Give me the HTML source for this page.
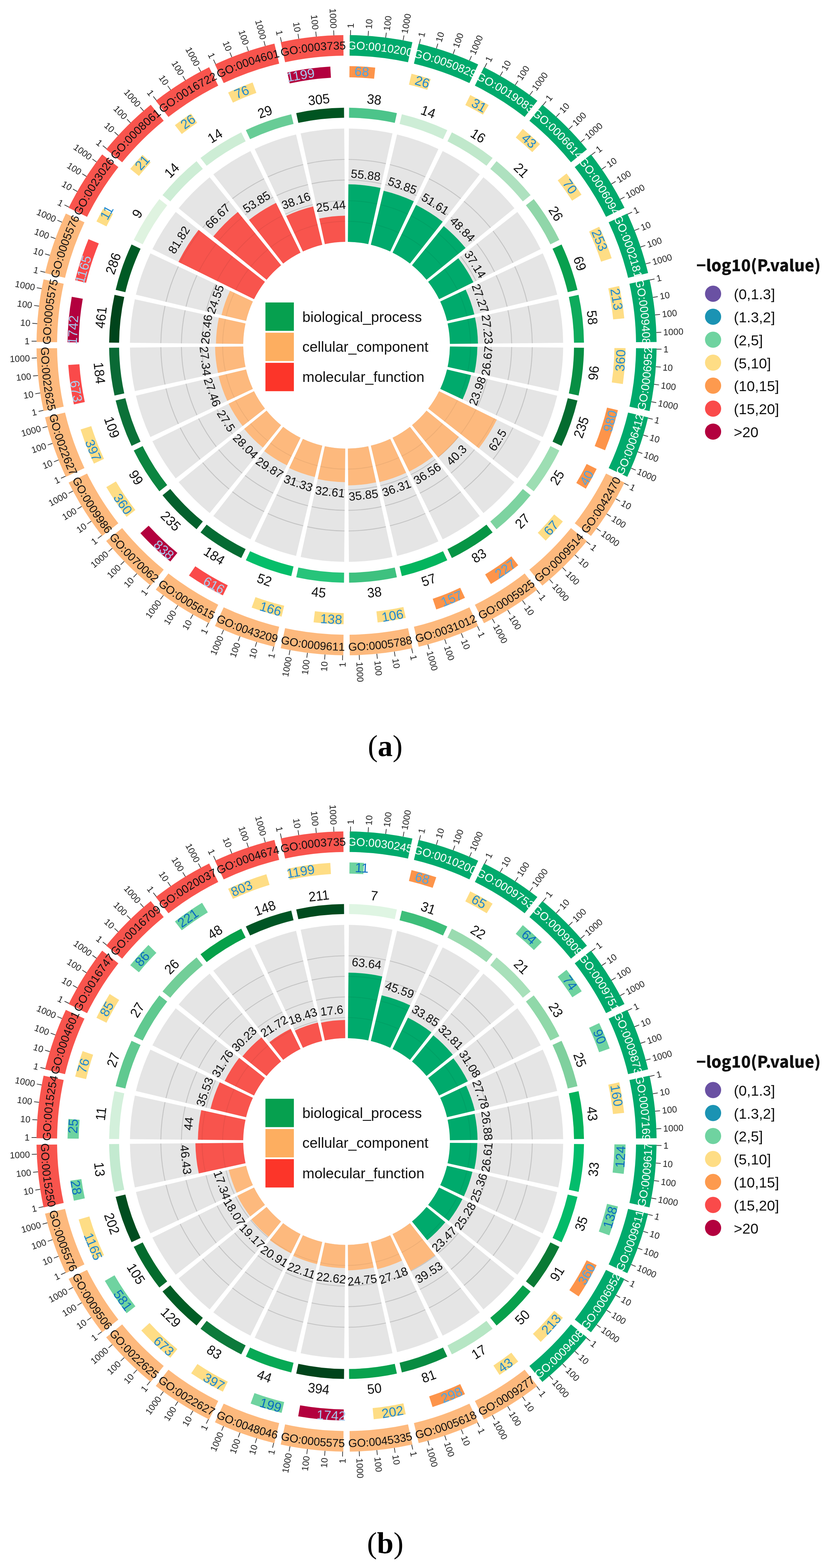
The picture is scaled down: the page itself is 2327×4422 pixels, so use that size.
<!DOCTYPE html><html><head><meta charset="utf-8"><title>GO enrichment circle plots</title><style>html,body{margin:0;padding:0;background:#fff;}svg{display:block;filter:blur(0.6px);}</style></head><body><svg width="2327" height="4422" viewBox="0 0 2327 4422" font-family="'Liberation Sans', Arial, sans-serif">
<rect width="100%" height="100%" fill="#fff"/>
<g>
<path d="M984.15,362.54 A611,611 0 0 1 1106.97,376.37 L1038.76,688.51 A291.5,291.5 0 0 0 981.2,682.02 Z" fill="#e5e5e5"/>
<path d="M1119.94,379.33 A611,611 0 0 1 1236.59,420.15 L1100.64,709.28 A291.5,291.5 0 0 0 1045.96,690.15 Z" fill="#e5e5e5"/>
<path d="M1248.58,425.93 A611,611 0 0 1 1353.23,491.68 L1156.34,743.31 A291.5,291.5 0 0 0 1107.3,712.49 Z" fill="#e5e5e5"/>
<path d="M1363.63,499.98 A611,611 0 0 1 1451.02,587.37 L1203.08,788.88 A291.5,291.5 0 0 0 1162.12,747.92 Z" fill="#e5e5e5"/>
<path d="M1459.32,597.77 A611,611 0 0 1 1525.07,702.42 L1238.51,843.7 A291.5,291.5 0 0 0 1207.69,794.66 Z" fill="#e5e5e5"/>
<path d="M1530.85,714.41 A611,611 0 0 1 1571.67,831.06 L1260.85,905.04 A291.5,291.5 0 0 0 1241.72,850.36 Z" fill="#e5e5e5"/>
<path d="M1574.63,844.03 A611,611 0 0 1 1588.46,966.85 L1268.98,969.8 A291.5,291.5 0 0 0 1262.49,912.24 Z" fill="#e5e5e5"/>
<path d="M1588.46,980.15 A611,611 0 0 1 1574.63,1102.97 L1262.49,1034.76 A291.5,291.5 0 0 0 1268.98,977.2 Z" fill="#e5e5e5"/>
<path d="M1571.67,1115.94 A611,611 0 0 1 1530.85,1232.59 L1241.72,1096.64 A291.5,291.5 0 0 0 1260.85,1041.96 Z" fill="#e5e5e5"/>
<path d="M1525.07,1244.58 A611,611 0 0 1 1459.32,1349.23 L1207.69,1152.34 A291.5,291.5 0 0 0 1238.51,1103.3 Z" fill="#e5e5e5"/>
<path d="M1451.02,1359.63 A611,611 0 0 1 1363.63,1447.02 L1162.12,1199.08 A291.5,291.5 0 0 0 1203.08,1158.12 Z" fill="#e5e5e5"/>
<path d="M1353.23,1455.32 A611,611 0 0 1 1248.58,1521.07 L1107.3,1234.51 A291.5,291.5 0 0 0 1156.34,1203.69 Z" fill="#e5e5e5"/>
<path d="M1236.59,1526.85 A611,611 0 0 1 1119.94,1567.67 L1045.96,1256.85 A291.5,291.5 0 0 0 1100.64,1237.72 Z" fill="#e5e5e5"/>
<path d="M1106.97,1570.63 A611,611 0 0 1 984.15,1584.46 L981.2,1264.98 A291.5,291.5 0 0 0 1038.76,1258.49 Z" fill="#e5e5e5"/>
<path d="M970.85,1584.46 A611,611 0 0 1 848.03,1570.63 L916.24,1258.49 A291.5,291.5 0 0 0 973.8,1264.98 Z" fill="#e5e5e5"/>
<path d="M835.06,1567.67 A611,611 0 0 1 718.41,1526.85 L854.36,1237.72 A291.5,291.5 0 0 0 909.04,1256.85 Z" fill="#e5e5e5"/>
<path d="M706.42,1521.07 A611,611 0 0 1 601.77,1455.32 L798.66,1203.69 A291.5,291.5 0 0 0 847.7,1234.51 Z" fill="#e5e5e5"/>
<path d="M591.37,1447.02 A611,611 0 0 1 503.98,1359.63 L751.92,1158.12 A291.5,291.5 0 0 0 792.88,1199.08 Z" fill="#e5e5e5"/>
<path d="M495.68,1349.23 A611,611 0 0 1 429.93,1244.58 L716.49,1103.3 A291.5,291.5 0 0 0 747.31,1152.34 Z" fill="#e5e5e5"/>
<path d="M424.15,1232.59 A611,611 0 0 1 383.33,1115.94 L694.15,1041.96 A291.5,291.5 0 0 0 713.28,1096.64 Z" fill="#e5e5e5"/>
<path d="M380.37,1102.97 A611,611 0 0 1 366.54,980.15 L686.02,977.2 A291.5,291.5 0 0 0 692.51,1034.76 Z" fill="#e5e5e5"/>
<path d="M366.54,966.85 A611,611 0 0 1 380.37,844.03 L692.51,912.24 A291.5,291.5 0 0 0 686.02,969.8 Z" fill="#e5e5e5"/>
<path d="M383.33,831.06 A611,611 0 0 1 424.15,714.41 L713.28,850.36 A291.5,291.5 0 0 0 694.15,905.04 Z" fill="#e5e5e5"/>
<path d="M429.93,702.42 A611,611 0 0 1 495.68,597.77 L747.31,794.66 A291.5,291.5 0 0 0 716.49,843.7 Z" fill="#e5e5e5"/>
<path d="M503.98,587.37 A611,611 0 0 1 591.37,499.98 L792.88,747.92 A291.5,291.5 0 0 0 751.92,788.88 Z" fill="#e5e5e5"/>
<path d="M601.77,491.68 A611,611 0 0 1 706.42,425.93 L847.7,712.49 A291.5,291.5 0 0 0 798.66,743.31 Z" fill="#e5e5e5"/>
<path d="M718.41,420.15 A611,611 0 0 1 835.06,379.33 L909.04,690.15 A291.5,291.5 0 0 0 854.36,709.28 Z" fill="#e5e5e5"/>
<path d="M848.03,376.37 A611,611 0 0 1 970.85,362.54 L973.8,682.02 A291.5,291.5 0 0 0 916.24,688.51 Z" fill="#e5e5e5"/>
<path d="M981.73,623.94 A349.59,349.59 0 0 1 1051.16,631.76" fill="none" stroke="#c3c3c3" stroke-width="2.4"/>
<path d="M982.27,565.85 A407.68,407.68 0 0 1 1063.56,575.01" fill="none" stroke="#c3c3c3" stroke-width="2.4"/>
<path d="M982.81,507.76 A465.77,465.77 0 0 1 1075.96,518.26" fill="none" stroke="#c3c3c3" stroke-width="2.4"/>
<path d="M983.35,449.67 A523.86,523.86 0 0 1 1088.36,461.51" fill="none" stroke="#c3c3c3" stroke-width="2.4"/>
<path d="M1059.41,633.64 A349.59,349.59 0 0 1 1125.36,656.72" fill="none" stroke="#c3c3c3" stroke-width="2.4"/>
<path d="M1072.86,577.13 A407.68,407.68 0 0 1 1150.08,604.15" fill="none" stroke="#c3c3c3" stroke-width="2.4"/>
<path d="M1086.31,520.62 A465.77,465.77 0 0 1 1174.79,551.58" fill="none" stroke="#c3c3c3" stroke-width="2.4"/>
<path d="M1099.76,464.11 A523.86,523.86 0 0 1 1199.51,499.01" fill="none" stroke="#c3c3c3" stroke-width="2.4"/>
<path d="M1132.98,660.39 A349.59,349.59 0 0 1 1192.14,697.56" fill="none" stroke="#c3c3c3" stroke-width="2.4"/>
<path d="M1158.67,608.29 A407.68,407.68 0 0 1 1227.94,651.81" fill="none" stroke="#c3c3c3" stroke-width="2.4"/>
<path d="M1184.36,556.19 A465.77,465.77 0 0 1 1263.73,606.06" fill="none" stroke="#c3c3c3" stroke-width="2.4"/>
<path d="M1210.05,504.08 A523.86,523.86 0 0 1 1299.53,560.31" fill="none" stroke="#c3c3c3" stroke-width="2.4"/>
<path d="M1198.76,702.84 A349.59,349.59 0 0 1 1248.16,752.24" fill="none" stroke="#c3c3c3" stroke-width="2.4"/>
<path d="M1235.4,657.76 A407.68,407.68 0 0 1 1293.24,715.6" fill="none" stroke="#c3c3c3" stroke-width="2.4"/>
<path d="M1272.03,612.68 A465.77,465.77 0 0 1 1338.32,678.97" fill="none" stroke="#c3c3c3" stroke-width="2.4"/>
<path d="M1308.67,567.6 A523.86,523.86 0 0 1 1383.4,642.33" fill="none" stroke="#c3c3c3" stroke-width="2.4"/>
<path d="M1253.44,758.86 A349.59,349.59 0 0 1 1290.61,818.02" fill="none" stroke="#c3c3c3" stroke-width="2.4"/>
<path d="M1299.19,723.06 A407.68,407.68 0 0 1 1342.71,792.33" fill="none" stroke="#c3c3c3" stroke-width="2.4"/>
<path d="M1344.94,687.27 A465.77,465.77 0 0 1 1394.81,766.64" fill="none" stroke="#c3c3c3" stroke-width="2.4"/>
<path d="M1390.69,651.47 A523.86,523.86 0 0 1 1446.92,740.95" fill="none" stroke="#c3c3c3" stroke-width="2.4"/>
<path d="M1294.28,825.64 A349.59,349.59 0 0 1 1317.36,891.59" fill="none" stroke="#c3c3c3" stroke-width="2.4"/>
<path d="M1346.85,800.92 A407.68,407.68 0 0 1 1373.87,878.14" fill="none" stroke="#c3c3c3" stroke-width="2.4"/>
<path d="M1399.42,776.21 A465.77,465.77 0 0 1 1430.38,864.69" fill="none" stroke="#c3c3c3" stroke-width="2.4"/>
<path d="M1451.99,751.49 A523.86,523.86 0 0 1 1486.89,851.24" fill="none" stroke="#c3c3c3" stroke-width="2.4"/>
<path d="M1319.24,899.84 A349.59,349.59 0 0 1 1327.06,969.27" fill="none" stroke="#c3c3c3" stroke-width="2.4"/>
<path d="M1375.99,887.44 A407.68,407.68 0 0 1 1385.15,968.73" fill="none" stroke="#c3c3c3" stroke-width="2.4"/>
<path d="M1432.74,875.04 A465.77,465.77 0 0 1 1443.24,968.19" fill="none" stroke="#c3c3c3" stroke-width="2.4"/>
<path d="M1489.49,862.64 A523.86,523.86 0 0 1 1501.33,967.65" fill="none" stroke="#c3c3c3" stroke-width="2.4"/>
<path d="M1327.06,977.73 A349.59,349.59 0 0 1 1319.24,1047.16" fill="none" stroke="#c3c3c3" stroke-width="2.4"/>
<path d="M1385.15,978.27 A407.68,407.68 0 0 1 1375.99,1059.56" fill="none" stroke="#c3c3c3" stroke-width="2.4"/>
<path d="M1443.24,978.81 A465.77,465.77 0 0 1 1432.74,1071.96" fill="none" stroke="#c3c3c3" stroke-width="2.4"/>
<path d="M1501.33,979.35 A523.86,523.86 0 0 1 1489.49,1084.36" fill="none" stroke="#c3c3c3" stroke-width="2.4"/>
<path d="M1317.36,1055.41 A349.59,349.59 0 0 1 1294.28,1121.36" fill="none" stroke="#c3c3c3" stroke-width="2.4"/>
<path d="M1373.87,1068.86 A407.68,407.68 0 0 1 1346.85,1146.08" fill="none" stroke="#c3c3c3" stroke-width="2.4"/>
<path d="M1430.38,1082.31 A465.77,465.77 0 0 1 1399.42,1170.79" fill="none" stroke="#c3c3c3" stroke-width="2.4"/>
<path d="M1486.89,1095.76 A523.86,523.86 0 0 1 1451.99,1195.51" fill="none" stroke="#c3c3c3" stroke-width="2.4"/>
<path d="M1290.61,1128.98 A349.59,349.59 0 0 1 1253.44,1188.14" fill="none" stroke="#c3c3c3" stroke-width="2.4"/>
<path d="M1342.71,1154.67 A407.68,407.68 0 0 1 1299.19,1223.94" fill="none" stroke="#c3c3c3" stroke-width="2.4"/>
<path d="M1394.81,1180.36 A465.77,465.77 0 0 1 1344.94,1259.73" fill="none" stroke="#c3c3c3" stroke-width="2.4"/>
<path d="M1446.92,1206.05 A523.86,523.86 0 0 1 1390.69,1295.53" fill="none" stroke="#c3c3c3" stroke-width="2.4"/>
<path d="M1248.16,1194.76 A349.59,349.59 0 0 1 1198.76,1244.16" fill="none" stroke="#c3c3c3" stroke-width="2.4"/>
<path d="M1293.24,1231.4 A407.68,407.68 0 0 1 1235.4,1289.24" fill="none" stroke="#c3c3c3" stroke-width="2.4"/>
<path d="M1338.32,1268.03 A465.77,465.77 0 0 1 1272.03,1334.32" fill="none" stroke="#c3c3c3" stroke-width="2.4"/>
<path d="M1383.4,1304.67 A523.86,523.86 0 0 1 1308.67,1379.4" fill="none" stroke="#c3c3c3" stroke-width="2.4"/>
<path d="M1192.14,1249.44 A349.59,349.59 0 0 1 1132.98,1286.61" fill="none" stroke="#c3c3c3" stroke-width="2.4"/>
<path d="M1227.94,1295.19 A407.68,407.68 0 0 1 1158.67,1338.71" fill="none" stroke="#c3c3c3" stroke-width="2.4"/>
<path d="M1263.73,1340.94 A465.77,465.77 0 0 1 1184.36,1390.81" fill="none" stroke="#c3c3c3" stroke-width="2.4"/>
<path d="M1299.53,1386.69 A523.86,523.86 0 0 1 1210.05,1442.92" fill="none" stroke="#c3c3c3" stroke-width="2.4"/>
<path d="M1125.36,1290.28 A349.59,349.59 0 0 1 1059.41,1313.36" fill="none" stroke="#c3c3c3" stroke-width="2.4"/>
<path d="M1150.08,1342.85 A407.68,407.68 0 0 1 1072.86,1369.87" fill="none" stroke="#c3c3c3" stroke-width="2.4"/>
<path d="M1174.79,1395.42 A465.77,465.77 0 0 1 1086.31,1426.38" fill="none" stroke="#c3c3c3" stroke-width="2.4"/>
<path d="M1199.51,1447.99 A523.86,523.86 0 0 1 1099.76,1482.89" fill="none" stroke="#c3c3c3" stroke-width="2.4"/>
<path d="M1051.16,1315.24 A349.59,349.59 0 0 1 981.73,1323.06" fill="none" stroke="#c3c3c3" stroke-width="2.4"/>
<path d="M1063.56,1371.99 A407.68,407.68 0 0 1 982.27,1381.15" fill="none" stroke="#c3c3c3" stroke-width="2.4"/>
<path d="M1075.96,1428.74 A465.77,465.77 0 0 1 982.81,1439.24" fill="none" stroke="#c3c3c3" stroke-width="2.4"/>
<path d="M1088.36,1485.49 A523.86,523.86 0 0 1 983.35,1497.33" fill="none" stroke="#c3c3c3" stroke-width="2.4"/>
<path d="M973.27,1323.06 A349.59,349.59 0 0 1 903.84,1315.24" fill="none" stroke="#c3c3c3" stroke-width="2.4"/>
<path d="M972.73,1381.15 A407.68,407.68 0 0 1 891.44,1371.99" fill="none" stroke="#c3c3c3" stroke-width="2.4"/>
<path d="M972.19,1439.24 A465.77,465.77 0 0 1 879.04,1428.74" fill="none" stroke="#c3c3c3" stroke-width="2.4"/>
<path d="M971.65,1497.33 A523.86,523.86 0 0 1 866.64,1485.49" fill="none" stroke="#c3c3c3" stroke-width="2.4"/>
<path d="M895.59,1313.36 A349.59,349.59 0 0 1 829.64,1290.28" fill="none" stroke="#c3c3c3" stroke-width="2.4"/>
<path d="M882.14,1369.87 A407.68,407.68 0 0 1 804.92,1342.85" fill="none" stroke="#c3c3c3" stroke-width="2.4"/>
<path d="M868.69,1426.38 A465.77,465.77 0 0 1 780.21,1395.42" fill="none" stroke="#c3c3c3" stroke-width="2.4"/>
<path d="M855.24,1482.89 A523.86,523.86 0 0 1 755.49,1447.99" fill="none" stroke="#c3c3c3" stroke-width="2.4"/>
<path d="M822.02,1286.61 A349.59,349.59 0 0 1 762.86,1249.44" fill="none" stroke="#c3c3c3" stroke-width="2.4"/>
<path d="M796.33,1338.71 A407.68,407.68 0 0 1 727.06,1295.19" fill="none" stroke="#c3c3c3" stroke-width="2.4"/>
<path d="M770.64,1390.81 A465.77,465.77 0 0 1 691.27,1340.94" fill="none" stroke="#c3c3c3" stroke-width="2.4"/>
<path d="M744.95,1442.92 A523.86,523.86 0 0 1 655.47,1386.69" fill="none" stroke="#c3c3c3" stroke-width="2.4"/>
<path d="M756.24,1244.16 A349.59,349.59 0 0 1 706.84,1194.76" fill="none" stroke="#c3c3c3" stroke-width="2.4"/>
<path d="M719.6,1289.24 A407.68,407.68 0 0 1 661.76,1231.4" fill="none" stroke="#c3c3c3" stroke-width="2.4"/>
<path d="M682.97,1334.32 A465.77,465.77 0 0 1 616.68,1268.03" fill="none" stroke="#c3c3c3" stroke-width="2.4"/>
<path d="M646.33,1379.4 A523.86,523.86 0 0 1 571.6,1304.67" fill="none" stroke="#c3c3c3" stroke-width="2.4"/>
<path d="M701.56,1188.14 A349.59,349.59 0 0 1 664.39,1128.98" fill="none" stroke="#c3c3c3" stroke-width="2.4"/>
<path d="M655.81,1223.94 A407.68,407.68 0 0 1 612.29,1154.67" fill="none" stroke="#c3c3c3" stroke-width="2.4"/>
<path d="M610.06,1259.73 A465.77,465.77 0 0 1 560.19,1180.36" fill="none" stroke="#c3c3c3" stroke-width="2.4"/>
<path d="M564.31,1295.53 A523.86,523.86 0 0 1 508.08,1206.05" fill="none" stroke="#c3c3c3" stroke-width="2.4"/>
<path d="M660.72,1121.36 A349.59,349.59 0 0 1 637.64,1055.41" fill="none" stroke="#c3c3c3" stroke-width="2.4"/>
<path d="M608.15,1146.08 A407.68,407.68 0 0 1 581.13,1068.86" fill="none" stroke="#c3c3c3" stroke-width="2.4"/>
<path d="M555.58,1170.79 A465.77,465.77 0 0 1 524.62,1082.31" fill="none" stroke="#c3c3c3" stroke-width="2.4"/>
<path d="M503.01,1195.51 A523.86,523.86 0 0 1 468.11,1095.76" fill="none" stroke="#c3c3c3" stroke-width="2.4"/>
<path d="M635.76,1047.16 A349.59,349.59 0 0 1 627.94,977.73" fill="none" stroke="#c3c3c3" stroke-width="2.4"/>
<path d="M579.01,1059.56 A407.68,407.68 0 0 1 569.85,978.27" fill="none" stroke="#c3c3c3" stroke-width="2.4"/>
<path d="M522.26,1071.96 A465.77,465.77 0 0 1 511.76,978.81" fill="none" stroke="#c3c3c3" stroke-width="2.4"/>
<path d="M465.51,1084.36 A523.86,523.86 0 0 1 453.67,979.35" fill="none" stroke="#c3c3c3" stroke-width="2.4"/>
<path d="M627.94,969.27 A349.59,349.59 0 0 1 635.76,899.84" fill="none" stroke="#c3c3c3" stroke-width="2.4"/>
<path d="M569.85,968.73 A407.68,407.68 0 0 1 579.01,887.44" fill="none" stroke="#c3c3c3" stroke-width="2.4"/>
<path d="M511.76,968.19 A465.77,465.77 0 0 1 522.26,875.04" fill="none" stroke="#c3c3c3" stroke-width="2.4"/>
<path d="M453.67,967.65 A523.86,523.86 0 0 1 465.51,862.64" fill="none" stroke="#c3c3c3" stroke-width="2.4"/>
<path d="M637.64,891.59 A349.59,349.59 0 0 1 660.72,825.64" fill="none" stroke="#c3c3c3" stroke-width="2.4"/>
<path d="M581.13,878.14 A407.68,407.68 0 0 1 608.15,800.92" fill="none" stroke="#c3c3c3" stroke-width="2.4"/>
<path d="M524.62,864.69 A465.77,465.77 0 0 1 555.58,776.21" fill="none" stroke="#c3c3c3" stroke-width="2.4"/>
<path d="M468.11,851.24 A523.86,523.86 0 0 1 503.01,751.49" fill="none" stroke="#c3c3c3" stroke-width="2.4"/>
<path d="M664.39,818.02 A349.59,349.59 0 0 1 701.56,758.86" fill="none" stroke="#c3c3c3" stroke-width="2.4"/>
<path d="M612.29,792.33 A407.68,407.68 0 0 1 655.81,723.06" fill="none" stroke="#c3c3c3" stroke-width="2.4"/>
<path d="M560.19,766.64 A465.77,465.77 0 0 1 610.06,687.27" fill="none" stroke="#c3c3c3" stroke-width="2.4"/>
<path d="M508.08,740.95 A523.86,523.86 0 0 1 564.31,651.47" fill="none" stroke="#c3c3c3" stroke-width="2.4"/>
<path d="M706.84,752.24 A349.59,349.59 0 0 1 756.24,702.84" fill="none" stroke="#c3c3c3" stroke-width="2.4"/>
<path d="M661.76,715.6 A407.68,407.68 0 0 1 719.6,657.76" fill="none" stroke="#c3c3c3" stroke-width="2.4"/>
<path d="M616.68,678.97 A465.77,465.77 0 0 1 682.97,612.68" fill="none" stroke="#c3c3c3" stroke-width="2.4"/>
<path d="M571.6,642.33 A523.86,523.86 0 0 1 646.33,567.6" fill="none" stroke="#c3c3c3" stroke-width="2.4"/>
<path d="M762.86,697.56 A349.59,349.59 0 0 1 822.02,660.39" fill="none" stroke="#c3c3c3" stroke-width="2.4"/>
<path d="M727.06,651.81 A407.68,407.68 0 0 1 796.33,608.29" fill="none" stroke="#c3c3c3" stroke-width="2.4"/>
<path d="M691.27,606.06 A465.77,465.77 0 0 1 770.64,556.19" fill="none" stroke="#c3c3c3" stroke-width="2.4"/>
<path d="M655.47,560.31 A523.86,523.86 0 0 1 744.95,504.08" fill="none" stroke="#c3c3c3" stroke-width="2.4"/>
<path d="M829.64,656.72 A349.59,349.59 0 0 1 895.59,633.64" fill="none" stroke="#c3c3c3" stroke-width="2.4"/>
<path d="M804.92,604.15 A407.68,407.68 0 0 1 882.14,577.13" fill="none" stroke="#c3c3c3" stroke-width="2.4"/>
<path d="M780.21,551.58 A465.77,465.77 0 0 1 868.69,520.62" fill="none" stroke="#c3c3c3" stroke-width="2.4"/>
<path d="M755.49,499.01 A523.86,523.86 0 0 1 855.24,464.11" fill="none" stroke="#c3c3c3" stroke-width="2.4"/>
<path d="M903.84,631.76 A349.59,349.59 0 0 1 973.27,623.94" fill="none" stroke="#c3c3c3" stroke-width="2.4"/>
<path d="M891.44,575.01 A407.68,407.68 0 0 1 972.73,565.85" fill="none" stroke="#c3c3c3" stroke-width="2.4"/>
<path d="M879.04,518.26 A465.77,465.77 0 0 1 972.19,507.76" fill="none" stroke="#c3c3c3" stroke-width="2.4"/>
<path d="M866.64,461.51 A523.86,523.86 0 0 1 971.65,449.67" fill="none" stroke="#c3c3c3" stroke-width="2.4"/>
<path d="M982.7,519.72 A453.81,453.81 0 0 1 1073.41,529.94 L1038.76,688.51 A291.5,291.5 0 0 0 981.2,682.02 Z" fill="#00aa6c"/>
<path d="M981.73,623.94 A349.59,349.59 0 0 1 1051.16,631.76" fill="none" stroke="#000" stroke-opacity="0.06" stroke-width="2.4"/>
<path d="M982.27,565.85 A407.68,407.68 0 0 1 1063.56,575.01" fill="none" stroke="#000" stroke-opacity="0.06" stroke-width="2.4"/>
<path d="M1082.17,538.01 A447.9,447.9 0 0 1 1167.19,567.75 L1100.64,709.28 A291.5,291.5 0 0 0 1045.96,690.15 Z" fill="#00aa6c"/>
<path d="M1059.41,633.64 A349.59,349.59 0 0 1 1125.36,656.72" fill="none" stroke="#000" stroke-opacity="0.06" stroke-width="2.4"/>
<path d="M1072.86,577.13 A407.68,407.68 0 0 1 1150.08,604.15" fill="none" stroke="#000" stroke-opacity="0.06" stroke-width="2.4"/>
<path d="M1173.59,578.04 A441.41,441.41 0 0 1 1248.72,625.25 L1156.34,743.31 A291.5,291.5 0 0 0 1107.3,712.49 Z" fill="#00aa6c"/>
<path d="M1132.98,660.39 A349.59,349.59 0 0 1 1192.14,697.56" fill="none" stroke="#000" stroke-opacity="0.06" stroke-width="2.4"/>
<path d="M1158.67,608.29 A407.68,407.68 0 0 1 1227.94,651.81" fill="none" stroke="#000" stroke-opacity="0.06" stroke-width="2.4"/>
<path d="M1251.59,637.84 A433.35,433.35 0 0 1 1313.16,699.41 L1203.08,788.88 A291.5,291.5 0 0 0 1162.12,747.92 Z" fill="#00aa6c"/>
<path d="M1198.76,702.84 A349.59,349.59 0 0 1 1248.16,752.24" fill="none" stroke="#000" stroke-opacity="0.06" stroke-width="2.4"/>
<path d="M1235.4,657.76 A407.68,407.68 0 0 1 1293.24,715.6" fill="none" stroke="#000" stroke-opacity="0.06" stroke-width="2.4"/>
<path d="M1292.65,728.18 A399.38,399.38 0 0 1 1335.27,796 L1238.51,843.7 A291.5,291.5 0 0 0 1207.69,794.66 Z" fill="#00aa6c"/>
<path d="M1253.44,758.86 A349.59,349.59 0 0 1 1290.61,818.02" fill="none" stroke="#000" stroke-opacity="0.06" stroke-width="2.4"/>
<path d="M1313.4,816.66 A370.71,370.71 0 0 1 1337.91,886.7 L1260.85,905.04 A291.5,291.5 0 0 0 1241.72,850.36 Z" fill="#00aa6c"/>
<path d="M1294.28,825.64 A349.59,349.59 0 0 1 1317.36,891.59" fill="none" stroke="#000" stroke-opacity="0.06" stroke-width="2.4"/>
<path d="M1339.76,895.36 A370.59,370.59 0 0 1 1348.06,969.07 L1268.98,969.8 A291.5,291.5 0 0 0 1262.49,912.24 Z" fill="#00aa6c"/>
<path d="M1319.24,899.84 A349.59,349.59 0 0 1 1327.06,969.27" fill="none" stroke="#000" stroke-opacity="0.06" stroke-width="2.4"/>
<path d="M1346.43,977.91 A368.95,368.95 0 0 1 1338.16,1051.29 L1262.49,1034.76 A291.5,291.5 0 0 0 1268.98,977.2 Z" fill="#00aa6c"/>
<path d="M1327.06,977.73 A349.59,349.59 0 0 1 1319.24,1047.16" fill="none" stroke="#000" stroke-opacity="0.06" stroke-width="2.4"/>
<path d="M1328.6,1058.09 A361.15,361.15 0 0 1 1304.74,1126.27 L1241.72,1096.64 A291.5,291.5 0 0 0 1260.85,1041.96 Z" fill="#00aa6c"/>
<path d="M1317.36,1055.41 A349.59,349.59 0 0 1 1294.28,1121.36" fill="none" stroke="#000" stroke-opacity="0.06" stroke-width="2.4"/>
<path d="M1401.33,1183.57 A473.03,473.03 0 0 1 1350.66,1264.21 L1207.69,1152.34 A291.5,291.5 0 0 0 1238.51,1103.3 Z" fill="#fdb97d"/>
<path d="M1290.61,1128.98 A349.59,349.59 0 0 1 1253.44,1188.14" fill="none" stroke="#000" stroke-opacity="0.06" stroke-width="2.4"/>
<path d="M1342.71,1154.67 A407.68,407.68 0 0 1 1299.19,1223.94" fill="none" stroke="#000" stroke-opacity="0.06" stroke-width="2.4"/>
<path d="M1394.81,1180.36 A465.77,465.77 0 0 1 1344.94,1259.73" fill="none" stroke="#000" stroke-opacity="0.06" stroke-width="2.4"/>
<path d="M1293.91,1231.94 A408.55,408.55 0 0 1 1235.94,1289.91 L1162.12,1199.08 A291.5,291.5 0 0 0 1203.08,1158.12 Z" fill="#fdb97d"/>
<path d="M1248.16,1194.76 A349.59,349.59 0 0 1 1198.76,1244.16" fill="none" stroke="#000" stroke-opacity="0.06" stroke-width="2.4"/>
<path d="M1293.24,1231.4 A407.68,407.68 0 0 1 1235.4,1289.24" fill="none" stroke="#000" stroke-opacity="0.06" stroke-width="2.4"/>
<path d="M1221.79,1287.33 A397.7,397.7 0 0 1 1154.26,1329.76 L1107.3,1234.51 A291.5,291.5 0 0 0 1156.34,1203.69 Z" fill="#fdb97d"/>
<path d="M1192.14,1249.44 A349.59,349.59 0 0 1 1132.98,1286.61" fill="none" stroke="#000" stroke-opacity="0.06" stroke-width="2.4"/>
<path d="M1145.51,1333.14 A396.95,396.95 0 0 1 1070.38,1359.43 L1045.96,1256.85 A291.5,291.5 0 0 0 1100.64,1237.72 Z" fill="#fdb97d"/>
<path d="M1125.36,1290.28 A349.59,349.59 0 0 1 1059.41,1313.36" fill="none" stroke="#000" stroke-opacity="0.06" stroke-width="2.4"/>
<path d="M1060.99,1360.21 A395.62,395.62 0 0 1 982.16,1369.1 L981.2,1264.98 A291.5,291.5 0 0 0 1038.76,1258.49 Z" fill="#fdb97d"/>
<path d="M1051.16,1315.24 A349.59,349.59 0 0 1 981.73,1323.06" fill="none" stroke="#000" stroke-opacity="0.06" stroke-width="2.4"/>
<path d="M972.93,1359.68 A386.21,386.21 0 0 1 896.02,1351.02 L916.24,1258.49 A291.5,291.5 0 0 0 973.8,1264.98 Z" fill="#fdb97d"/>
<path d="M973.27,1323.06 A349.59,349.59 0 0 1 903.84,1315.24" fill="none" stroke="#000" stroke-opacity="0.06" stroke-width="2.4"/>
<path d="M887.97,1345.36 A382.48,382.48 0 0 1 815.65,1320.05 L854.36,1237.72 A291.5,291.5 0 0 0 909.04,1256.85 Z" fill="#fdb97d"/>
<path d="M895.59,1313.36 A349.59,349.59 0 0 1 829.64,1290.28" fill="none" stroke="#000" stroke-opacity="0.06" stroke-width="2.4"/>
<path d="M809.34,1312.32 A378.26,378.26 0 0 1 745.19,1272.02 L798.66,1203.69 A291.5,291.5 0 0 0 847.7,1234.51 Z" fill="#fdb97d"/>
<path d="M822.02,1286.61 A349.59,349.59 0 0 1 762.86,1249.44" fill="none" stroke="#000" stroke-opacity="0.06" stroke-width="2.4"/>
<path d="M741.51,1262.29 A372.95,372.95 0 0 1 688.71,1209.49 L751.92,1158.12 A291.5,291.5 0 0 0 792.88,1199.08 Z" fill="#fdb97d"/>
<path d="M756.24,1244.16 A349.59,349.59 0 0 1 706.84,1194.76" fill="none" stroke="#000" stroke-opacity="0.06" stroke-width="2.4"/>
<path d="M684.4,1201.56 A371.37,371.37 0 0 1 644.85,1138.62 L716.49,1103.3 A291.5,291.5 0 0 0 747.31,1152.34 Z" fill="#fdb97d"/>
<path d="M701.56,1188.14 A349.59,349.59 0 0 1 664.39,1128.98" fill="none" stroke="#000" stroke-opacity="0.06" stroke-width="2.4"/>
<path d="M641.12,1130.57 A371.25,371.25 0 0 1 616.57,1060.43 L694.15,1041.96 A291.5,291.5 0 0 0 713.28,1096.64 Z" fill="#fdb97d"/>
<path d="M660.72,1121.36 A349.59,349.59 0 0 1 637.64,1055.41" fill="none" stroke="#000" stroke-opacity="0.06" stroke-width="2.4"/>
<path d="M614.93,1051.71 A370.91,370.91 0 0 1 606.62,977.93 L686.02,977.2 A291.5,291.5 0 0 0 692.51,1034.76 Z" fill="#fdb97d"/>
<path d="M635.76,1047.16 A349.59,349.59 0 0 1 627.94,977.73" fill="none" stroke="#000" stroke-opacity="0.06" stroke-width="2.4"/>
<path d="M609.16,969.09 A368.36,368.36 0 0 1 617.42,895.83 L692.51,912.24 A291.5,291.5 0 0 0 686.02,969.8 Z" fill="#fdb97d"/>
<path d="M627.94,969.27 A349.59,349.59 0 0 1 635.76,899.84" fill="none" stroke="#000" stroke-opacity="0.06" stroke-width="2.4"/>
<path d="M624.79,888.53 A362.8,362.8 0 0 1 648.76,820.02 L713.28,850.36 A291.5,291.5 0 0 0 694.15,905.04 Z" fill="#fdb97d"/>
<path d="M637.64,891.59 A349.59,349.59 0 0 1 660.72,825.64" fill="none" stroke="#000" stroke-opacity="0.06" stroke-width="2.4"/>
<path d="M503.35,738.62 A529.14,529.14 0 0 1 560.15,648.22 L747.31,794.66 A291.5,291.5 0 0 0 716.49,843.7 Z" fill="#f8544d"/>
<path d="M664.39,818.02 A349.59,349.59 0 0 1 701.56,758.86" fill="none" stroke="#000" stroke-opacity="0.06" stroke-width="2.4"/>
<path d="M612.29,792.33 A407.68,407.68 0 0 1 655.81,723.06" fill="none" stroke="#000" stroke-opacity="0.06" stroke-width="2.4"/>
<path d="M560.19,766.64 A465.77,465.77 0 0 1 610.06,687.27" fill="none" stroke="#000" stroke-opacity="0.06" stroke-width="2.4"/>
<path d="M508.08,740.95 A523.86,523.86 0 0 1 564.31,651.47" fill="none" stroke="#000" stroke-opacity="0.06" stroke-width="2.4"/>
<path d="M601.65,666.75 A485.13,485.13 0 0 1 670.75,597.65 L792.88,747.92 A291.5,291.5 0 0 0 751.92,788.88 Z" fill="#f8544d"/>
<path d="M706.84,752.24 A349.59,349.59 0 0 1 756.24,702.84" fill="none" stroke="#000" stroke-opacity="0.06" stroke-width="2.4"/>
<path d="M661.76,715.6 A407.68,407.68 0 0 1 719.6,657.76" fill="none" stroke="#000" stroke-opacity="0.06" stroke-width="2.4"/>
<path d="M616.68,678.97 A465.77,465.77 0 0 1 682.97,612.68" fill="none" stroke="#000" stroke-opacity="0.06" stroke-width="2.4"/>
<path d="M702.28,620.14 A447.9,447.9 0 0 1 778.54,572.22 L847.7,712.49 A291.5,291.5 0 0 0 798.66,743.31 Z" fill="#f8544d"/>
<path d="M762.86,697.56 A349.59,349.59 0 0 1 822.02,660.39" fill="none" stroke="#000" stroke-opacity="0.06" stroke-width="2.4"/>
<path d="M727.06,651.81 A407.68,407.68 0 0 1 796.33,608.29" fill="none" stroke="#000" stroke-opacity="0.06" stroke-width="2.4"/>
<path d="M807.2,608.99 A402.33,402.33 0 0 1 883.38,582.34 L909.04,690.15 A291.5,291.5 0 0 0 854.36,709.28 Z" fill="#f8544d"/>
<path d="M829.64,656.72 A349.59,349.59 0 0 1 895.59,633.64" fill="none" stroke="#000" stroke-opacity="0.06" stroke-width="2.4"/>
<path d="M900.47,616.33 A365.38,365.38 0 0 1 973.12,608.14 L973.8,682.02 A291.5,291.5 0 0 0 916.24,688.51 Z" fill="#f8544d"/>
<path d="M903.84,631.76 A349.59,349.59 0 0 1 973.27,623.94" fill="none" stroke="#000" stroke-opacity="0.06" stroke-width="2.4"/>
</g>
<path d="M984.69,303.84 A669.7,669.7 0 0 1 1119.5,319.03 L1113.5,346.48 A641.6,641.6 0 0 0 984.43,331.94 Z" fill="#4cc48a"/>
<path d="M1133.53,322.23 A669.7,669.7 0 0 1 1261.57,367.03 L1249.62,392.46 A641.6,641.6 0 0 0 1127.02,349.57 Z" fill="#cdedd6"/>
<path d="M1274.54,373.28 A669.7,669.7 0 0 1 1389.4,445.45 L1372.09,467.58 A641.6,641.6 0 0 0 1262.11,398.48 Z" fill="#c0e8cb"/>
<path d="M1400.65,454.42 A669.7,669.7 0 0 1 1496.58,550.35 L1474.77,568.07 A641.6,641.6 0 0 0 1382.93,476.23 Z" fill="#aee1bf"/>
<path d="M1505.55,561.6 A669.7,669.7 0 0 1 1577.72,676.46 L1552.52,688.89 A641.6,641.6 0 0 0 1483.42,578.91 Z" fill="#90d6a9"/>
<path d="M1583.97,689.43 A669.7,669.7 0 0 1 1628.77,817.47 L1601.43,823.98 A641.6,641.6 0 0 0 1558.54,701.38 Z" fill="#08a04e"/>
<path d="M1631.97,831.5 A669.7,669.7 0 0 1 1647.16,966.31 L1619.06,966.57 A641.6,641.6 0 0 0 1604.52,837.5 Z" fill="#0eab5c"/>
<path d="M1647.16,980.69 A669.7,669.7 0 0 1 1631.97,1115.5 L1604.52,1109.5 A641.6,641.6 0 0 0 1619.06,980.43 Z" fill="#078f44"/>
<path d="M1628.77,1129.53 A669.7,669.7 0 0 1 1583.97,1257.57 L1558.54,1245.62 A641.6,641.6 0 0 0 1601.43,1123.02 Z" fill="#046c30"/>
<path d="M1577.72,1270.54 A669.7,669.7 0 0 1 1505.55,1385.4 L1483.42,1368.09 A641.6,641.6 0 0 0 1552.52,1258.11 Z" fill="#9ddeb3"/>
<path d="M1496.58,1396.65 A669.7,669.7 0 0 1 1400.65,1492.58 L1382.93,1470.77 A641.6,641.6 0 0 0 1474.77,1378.93 Z" fill="#7dd3a0"/>
<path d="M1389.4,1501.55 A669.7,669.7 0 0 1 1274.54,1573.72 L1262.11,1548.52 A641.6,641.6 0 0 0 1372.09,1479.42 Z" fill="#069545"/>
<path d="M1261.57,1579.97 A669.7,669.7 0 0 1 1133.53,1624.77 L1127.02,1597.43 A641.6,641.6 0 0 0 1249.62,1554.54 Z" fill="#03b55e"/>
<path d="M1119.5,1627.97 A669.7,669.7 0 0 1 984.69,1643.16 L984.43,1615.06 A641.6,641.6 0 0 0 1113.5,1600.52 Z" fill="#3ec17f"/>
<path d="M970.31,1643.16 A669.7,669.7 0 0 1 835.5,1627.97 L841.5,1600.52 A641.6,641.6 0 0 0 970.57,1615.06 Z" fill="#27c47a"/>
<path d="M821.47,1624.77 A669.7,669.7 0 0 1 693.43,1579.97 L705.38,1554.54 A641.6,641.6 0 0 0 827.98,1597.43 Z" fill="#05be6a"/>
<path d="M680.46,1573.72 A669.7,669.7 0 0 1 565.6,1501.55 L582.91,1479.42 A641.6,641.6 0 0 0 692.89,1548.52 Z" fill="#056b33"/>
<path d="M554.35,1492.58 A669.7,669.7 0 0 1 458.42,1396.65 L480.23,1378.93 A641.6,641.6 0 0 0 572.07,1470.77 Z" fill="#03602d"/>
<path d="M449.45,1385.4 A669.7,669.7 0 0 1 377.28,1270.54 L402.48,1258.11 A641.6,641.6 0 0 0 471.58,1368.09 Z" fill="#0b8540"/>
<path d="M371.03,1257.57 A669.7,669.7 0 0 1 326.23,1129.53 L353.57,1123.02 A641.6,641.6 0 0 0 396.46,1245.62 Z" fill="#0b7138"/>
<path d="M323.03,1115.5 A669.7,669.7 0 0 1 307.84,980.69 L335.94,980.43 A641.6,641.6 0 0 0 350.48,1109.5 Z" fill="#0a6a35"/>
<path d="M307.84,966.31 A669.7,669.7 0 0 1 323.03,831.5 L350.48,837.5 A641.6,641.6 0 0 0 335.94,966.57 Z" fill="#00441b"/>
<path d="M326.23,817.47 A669.7,669.7 0 0 1 371.03,689.43 L396.46,701.38 A641.6,641.6 0 0 0 353.57,823.98 Z" fill="#005a25"/>
<path d="M377.28,676.46 A669.7,669.7 0 0 1 449.45,561.6 L471.58,578.91 A641.6,641.6 0 0 0 402.48,688.89 Z" fill="#dff3e0"/>
<path d="M458.42,550.35 A669.7,669.7 0 0 1 554.35,454.42 L572.07,476.23 A641.6,641.6 0 0 0 480.23,568.07 Z" fill="#cdedd5"/>
<path d="M565.6,445.45 A669.7,669.7 0 0 1 680.46,373.28 L692.89,398.48 A641.6,641.6 0 0 0 582.91,467.58 Z" fill="#cdedd5"/>
<path d="M693.43,367.03 A669.7,669.7 0 0 1 821.47,322.23 L827.98,349.57 A641.6,641.6 0 0 0 705.38,392.46 Z" fill="#68cc96"/>
<path d="M835.5,319.03 A669.7,669.7 0 0 1 970.31,303.84 L970.57,331.94 A641.6,641.6 0 0 0 841.5,346.48 Z" fill="#005421"/>
<path d="M985.78,186.54 A787,787 0 0 1 1058.42,190.67 L1055.14,222 A755.5,755.5 0 0 0 985.49,218.04 Z" fill="#fd944a"/>
<path d="M1160.69,208.12 A787,787 0 0 1 1214.78,223.12 L1205.25,253.14 A755.5,755.5 0 0 0 1153.39,238.76 Z" fill="#fedd85"/>
<path d="M1326.41,268.07 A787,787 0 0 1 1378.43,296.28 L1362.35,323.37 A755.5,755.5 0 0 0 1312.48,296.32 Z" fill="#fedd85"/>
<path d="M1474.63,363.4 A787,787 0 0 1 1523.16,406.39 L1501.3,429.06 A755.5,755.5 0 0 0 1454.77,387.84 Z" fill="#fedd85"/>
<path d="M1597.93,489.31 A787,787 0 0 1 1640.26,549.1 L1613.71,566.05 A755.5,755.5 0 0 0 1573.12,508.73 Z" fill="#fedd85"/>
<path d="M1690.12,639.51 A787,787 0 0 1 1725.31,728.24 L1695.36,738.02 A755.5,755.5 0 0 0 1661.61,652.92 Z" fill="#fedd85"/>
<path d="M1746.57,806.46 A787,787 0 0 1 1760.85,897.83 L1729.5,900.82 A755.5,755.5 0 0 0 1715.79,813.18 Z" fill="#fedd85"/>
<path d="M1764.46,981.78 A787,787 0 0 1 1756.84,1083.04 L1725.65,1078.61 A755.5,755.5 0 0 0 1732.96,981.49 Z" fill="#fedd85"/>
<path d="M1742.88,1156.69 A787,787 0 0 1 1706.58,1269.83 L1677.41,1257.93 A755.5,755.5 0 0 0 1712.24,1149.39 Z" fill="#fd944a"/>
<path d="M1682.93,1322.41 A787,787 0 0 1 1652.46,1378.22 L1625.47,1361.98 A755.5,755.5 0 0 0 1654.68,1308.48 Z" fill="#fd944a"/>
<path d="M1587.6,1470.63 A787,787 0 0 1 1539.27,1524.67 L1516.81,1502.58 A755.5,755.5 0 0 0 1563.16,1450.77 Z" fill="#fedd85"/>
<path d="M1461.69,1593.93 A787,787 0 0 1 1384.62,1647.01 L1368.36,1620.04 A755.5,755.5 0 0 0 1442.27,1569.12 Z" fill="#fd944a"/>
<path d="M1311.49,1686.12 A787,787 0 0 1 1230.59,1718.69 L1220.5,1688.85 A755.5,755.5 0 0 0 1298.08,1657.61 Z" fill="#fd944a"/>
<path d="M1144.54,1742.57 A787,787 0 0 1 1065.18,1755.6 L1061.71,1724.29 A755.5,755.5 0 0 0 1137.82,1711.79 Z" fill="#fedd85"/>
<path d="M969.22,1760.46 A787,787 0 0 1 884.41,1754.98 L888.18,1723.7 A755.5,755.5 0 0 0 969.51,1728.96 Z" fill="#fedd85"/>
<path d="M794.31,1738.88 A787,787 0 0 1 709.85,1713.59 L720.6,1683.98 A755.5,755.5 0 0 0 801.61,1708.24 Z" fill="#fedd85"/>
<path d="M628.59,1678.93 A787,787 0 0 1 532.97,1622.93 L550.8,1596.96 A755.5,755.5 0 0 0 642.52,1650.68 Z" fill="#fa4a4a"/>
<path d="M480.37,1583.6 A787,787 0 0 1 396,1503.81 L419.3,1482.61 A755.5,755.5 0 0 0 500.23,1559.16 Z" fill="#b3003e"/>
<path d="M357.07,1457.69 A787,787 0 0 1 299.89,1373.77 L327.03,1357.79 A755.5,755.5 0 0 0 381.88,1438.27 Z" fill="#fedd85"/>
<path d="M264.88,1307.49 A787,787 0 0 1 227.3,1211.34 L257.34,1201.86 A755.5,755.5 0 0 0 293.39,1294.08 Z" fill="#fedd85"/>
<path d="M208.43,1140.54 A787,787 0 0 1 192.48,1029.34 L223.91,1027.14 A755.5,755.5 0 0 0 239.21,1133.82 Z" fill="#fa4a4a"/>
<path d="M190.54,965.22 A787,787 0 0 1 202.42,837.03 L233.44,842.53 A755.5,755.5 0 0 0 222.04,965.51 Z" fill="#b3003e"/>
<path d="M212.12,790.31 A787,787 0 0 1 249.55,674.4 L278.67,686.41 A755.5,755.5 0 0 0 242.76,797.61 Z" fill="#fa4a4a"/>
<path d="M272.07,624.59 A787,787 0 0 1 291.33,588.1 L318.77,603.56 A755.5,755.5 0 0 0 300.32,638.52 Z" fill="#fedd85"/>
<path d="M367.4,476.37 A787,787 0 0 1 401.86,436.84 L424.87,458.35 A755.5,755.5 0 0 0 391.84,496.23 Z" fill="#fedd85"/>
<path d="M493.31,353.07 A787,787 0 0 1 538.77,320.13 L556.3,346.31 A755.5,755.5 0 0 0 512.73,377.88 Z" fill="#fedd85"/>
<path d="M643.51,260.88 A787,787 0 0 1 712.56,232.44 L723.13,262.11 A755.5,755.5 0 0 0 656.92,289.39 Z" fill="#fedd85"/>
<path d="M810.46,204.43 A787,787 0 0 1 931.63,187.84 L933.43,219.29 A755.5,755.5 0 0 0 817.18,235.21 Z" fill="#b3003e"/>
<path d="M986.59,99.05 A874.5,874.5 0 0 1 1163.22,118.95 L1150.84,175.61 A816.5,816.5 0 0 0 986.05,157.04 Z" fill="#00aa6c"/>
<path d="M1180.95,122.99 A874.5,874.5 0 0 1 1348.72,181.7 L1324.04,234.19 A816.5,816.5 0 0 0 1167.52,179.42 Z" fill="#00aa6c"/>
<path d="M1365.1,189.59 A874.5,874.5 0 0 1 1515.61,284.16 L1479.86,329.84 A816.5,816.5 0 0 0 1339.45,241.61 Z" fill="#00aa6c"/>
<path d="M1529.82,295.49 A874.5,874.5 0 0 1 1655.51,421.18 L1610.5,457.76 A816.5,816.5 0 0 0 1493.24,340.5 Z" fill="#00aa6c"/>
<path d="M1666.84,435.39 A874.5,874.5 0 0 1 1761.41,585.9 L1709.39,611.55 A816.5,816.5 0 0 0 1621.16,471.14 Z" fill="#00aa6c"/>
<path d="M1769.3,602.28 A874.5,874.5 0 0 1 1828.01,770.05 L1771.58,783.48 A816.5,816.5 0 0 0 1716.81,626.96 Z" fill="#00aa6c"/>
<path d="M1832.05,787.78 A874.5,874.5 0 0 1 1851.95,964.41 L1793.96,964.95 A816.5,816.5 0 0 0 1775.39,800.16 Z" fill="#00aa6c"/>
<path d="M1851.95,982.59 A874.5,874.5 0 0 1 1832.05,1159.22 L1775.39,1146.84 A816.5,816.5 0 0 0 1793.96,982.05 Z" fill="#00aa6c"/>
<path d="M1828.01,1176.95 A874.5,874.5 0 0 1 1769.3,1344.72 L1716.81,1320.04 A816.5,816.5 0 0 0 1771.58,1163.52 Z" fill="#00aa6c"/>
<path d="M1761.41,1361.1 A874.5,874.5 0 0 1 1666.84,1511.61 L1621.16,1475.86 A816.5,816.5 0 0 0 1709.39,1335.45 Z" fill="#fdb97d"/>
<path d="M1655.51,1525.82 A874.5,874.5 0 0 1 1529.82,1651.51 L1493.24,1606.5 A816.5,816.5 0 0 0 1610.5,1489.24 Z" fill="#fdb97d"/>
<path d="M1515.61,1662.84 A874.5,874.5 0 0 1 1365.1,1757.41 L1339.45,1705.39 A816.5,816.5 0 0 0 1479.86,1617.16 Z" fill="#fdb97d"/>
<path d="M1348.72,1765.3 A874.5,874.5 0 0 1 1180.95,1824.01 L1167.52,1767.58 A816.5,816.5 0 0 0 1324.04,1712.81 Z" fill="#fdb97d"/>
<path d="M1163.22,1828.05 A874.5,874.5 0 0 1 986.59,1847.95 L986.05,1789.96 A816.5,816.5 0 0 0 1150.84,1771.39 Z" fill="#fdb97d"/>
<path d="M968.41,1847.95 A874.5,874.5 0 0 1 791.78,1828.05 L804.16,1771.39 A816.5,816.5 0 0 0 968.95,1789.96 Z" fill="#fdb97d"/>
<path d="M774.05,1824.01 A874.5,874.5 0 0 1 606.28,1765.3 L630.96,1712.81 A816.5,816.5 0 0 0 787.48,1767.58 Z" fill="#fdb97d"/>
<path d="M589.9,1757.41 A874.5,874.5 0 0 1 439.39,1662.84 L475.14,1617.16 A816.5,816.5 0 0 0 615.55,1705.39 Z" fill="#fdb97d"/>
<path d="M425.18,1651.51 A874.5,874.5 0 0 1 299.49,1525.82 L344.5,1489.24 A816.5,816.5 0 0 0 461.76,1606.5 Z" fill="#fdb97d"/>
<path d="M288.16,1511.61 A874.5,874.5 0 0 1 193.59,1361.1 L245.61,1335.45 A816.5,816.5 0 0 0 333.84,1475.86 Z" fill="#fdb97d"/>
<path d="M185.7,1344.72 A874.5,874.5 0 0 1 126.99,1176.95 L183.42,1163.52 A816.5,816.5 0 0 0 238.19,1320.04 Z" fill="#fdb97d"/>
<path d="M122.95,1159.22 A874.5,874.5 0 0 1 103.05,982.59 L161.04,982.05 A816.5,816.5 0 0 0 179.61,1146.84 Z" fill="#fdb97d"/>
<path d="M103.05,964.41 A874.5,874.5 0 0 1 122.95,787.78 L179.61,800.16 A816.5,816.5 0 0 0 161.04,964.95 Z" fill="#fdb97d"/>
<path d="M126.99,770.05 A874.5,874.5 0 0 1 185.7,602.28 L238.19,626.96 A816.5,816.5 0 0 0 183.42,783.48 Z" fill="#fdb97d"/>
<path d="M193.59,585.9 A874.5,874.5 0 0 1 288.16,435.39 L333.84,471.14 A816.5,816.5 0 0 0 245.61,611.55 Z" fill="#f8544d"/>
<path d="M299.49,421.18 A874.5,874.5 0 0 1 425.18,295.49 L461.76,340.5 A816.5,816.5 0 0 0 344.5,457.76 Z" fill="#f8544d"/>
<path d="M439.39,284.16 A874.5,874.5 0 0 1 589.9,189.59 L615.55,241.61 A816.5,816.5 0 0 0 475.14,329.84 Z" fill="#f8544d"/>
<path d="M606.28,181.7 A874.5,874.5 0 0 1 774.05,122.99 L787.48,179.42 A816.5,816.5 0 0 0 630.96,234.19 Z" fill="#f8544d"/>
<path d="M791.78,118.95 A874.5,874.5 0 0 1 968.41,99.05 L968.95,157.04 A816.5,816.5 0 0 0 804.16,175.61 Z" fill="#f8544d"/>
<path d="M988.64,99.07L988.82,85.07M1038.35,101.12L1039.32,87.15M1087.86,105.99L1089.63,92.1M1137.02,113.67L1139.57,99.91M1182.94,123.47L1186.23,109.87M1230.95,136.53L1235,123.13M1278.13,152.3L1282.95,139.15M1324.35,170.72L1329.9,157.87M1366.94,190.5L1373.17,177.97M1410.84,213.91L1417.77,201.75M1453.33,239.79L1460.95,228.04M1494.28,268.03L1502.56,256.74M1531.41,296.79L1540.28,285.96M1568.99,329.38L1578.46,319.07M1604.67,364.06L1614.71,354.31M1638.31,400.71L1648.89,391.55M1668.1,437.01L1679.16,428.42M1697.49,477.15L1709.02,469.21M1724.55,518.9L1736.51,511.62M1749.2,562.12L1761.55,555.53M1770.17,604.14L1782.86,598.22M1789.89,649.81L1802.89,644.63M1806.98,696.53L1820.26,692.1M1821.39,744.15L1834.9,740.48M1832.48,789.78L1846.17,786.84M1841.55,838.7L1855.38,836.54M1847.82,888.06L1861.75,886.69M1851.27,937.69L1865.25,937.11M1851.93,984.64L1865.93,984.82M1849.88,1034.35L1863.85,1035.32M1845.01,1083.86L1858.9,1085.63M1837.33,1133.02L1851.09,1135.57M1827.53,1178.94L1841.13,1182.23M1814.47,1226.95L1827.87,1231M1798.7,1274.13L1811.85,1278.95M1780.28,1320.35L1793.13,1325.9M1760.5,1362.94L1773.03,1369.17M1737.09,1406.84L1749.25,1413.77M1711.21,1449.33L1722.96,1456.95M1682.97,1490.28L1694.26,1498.56M1654.21,1527.41L1665.04,1536.28M1621.62,1564.99L1631.93,1574.46M1586.94,1600.67L1596.69,1610.71M1550.29,1634.31L1559.45,1644.89M1513.99,1664.1L1522.58,1675.16M1473.85,1693.49L1481.79,1705.02M1432.1,1720.55L1439.38,1732.51M1388.88,1745.2L1395.47,1757.55M1346.86,1766.17L1352.78,1778.86M1301.19,1785.89L1306.37,1798.89M1254.47,1802.98L1258.9,1816.26M1206.85,1817.39L1210.52,1830.9M1161.22,1828.48L1164.16,1842.17M1112.3,1837.55L1114.46,1851.38M1062.94,1843.82L1064.31,1857.75M1013.31,1847.27L1013.89,1861.25M966.36,1847.93L966.18,1861.93M916.65,1845.88L915.68,1859.85M867.14,1841.01L865.37,1854.9M817.98,1833.33L815.43,1847.09M772.06,1823.53L768.77,1837.13M724.05,1810.47L720,1823.87M676.87,1794.7L672.05,1807.85M630.65,1776.28L625.1,1789.13M588.06,1756.5L581.83,1769.03M544.16,1733.09L537.23,1745.25M501.67,1707.21L494.05,1718.96M460.72,1678.97L452.44,1690.26M423.59,1650.21L414.72,1661.04M386.01,1617.62L376.54,1627.93M350.33,1582.94L340.29,1592.69M316.69,1546.29L306.11,1555.45M286.9,1509.99L275.84,1518.58M257.51,1469.85L245.98,1477.79M230.45,1428.1L218.49,1435.38M205.8,1384.88L193.45,1391.47M184.83,1342.86L172.14,1348.78M165.11,1297.19L152.11,1302.37M148.02,1250.47L134.74,1254.9M133.61,1202.85L120.1,1206.52M122.52,1157.22L108.83,1160.16M113.45,1108.3L99.62,1110.46M107.18,1058.94L93.25,1060.31M103.73,1009.31L89.75,1009.89M103.07,962.36L89.07,962.18M105.12,912.65L91.15,911.68M109.99,863.14L96.1,861.37M117.67,813.98L103.91,811.43M127.47,768.06L113.87,764.77M140.53,720.05L127.13,716M156.3,672.87L143.15,668.05M174.72,626.65L161.87,621.1M194.5,584.06L181.97,577.83M217.91,540.16L205.75,533.23M243.79,497.67L232.04,490.05M272.03,456.72L260.74,448.44M300.79,419.59L289.96,410.72M333.38,382.01L323.07,372.54M368.06,346.33L358.31,336.29M404.71,312.69L395.55,302.11M441.01,282.9L432.42,271.84M481.15,253.51L473.21,241.98M522.9,226.45L515.62,214.49M566.12,201.8L559.53,189.45M608.14,180.83L602.22,168.14M653.81,161.11L648.63,148.11M700.53,144.02L696.1,130.74M748.15,129.61L744.48,116.1M793.78,118.52L790.84,104.83M842.7,109.45L840.54,95.62M892.06,103.18L890.69,89.25M941.69,99.73L941.11,85.75" stroke="#333" stroke-width="2" fill="none"/>
<g font-size="25.5" fill="#222">
<text transform="translate(988.89,79.57) rotate(-89.27)" text-anchor="start" dy="0.35em">1</text>
<text transform="translate(1039.71,81.67) rotate(-86.01)" text-anchor="start" dy="0.35em">10</text>
<text transform="translate(1090.32,86.65) rotate(-82.75)" text-anchor="start" dy="0.35em">100</text>
<text transform="translate(1140.57,94.5) rotate(-79.49)" text-anchor="start" dy="0.35em">1000</text>
<text transform="translate(1187.52,104.52) rotate(-76.41)" text-anchor="start" dy="0.35em">1</text>
<text transform="translate(1236.6,117.87) rotate(-73.15)" text-anchor="start" dy="0.35em">10</text>
<text transform="translate(1284.84,133.99) rotate(-69.89)" text-anchor="start" dy="0.35em">100</text>
<text transform="translate(1332.08,152.82) rotate(-66.63)" text-anchor="start" dy="0.35em">1000</text>
<text transform="translate(1375.62,173.04) rotate(-63.56)" text-anchor="start" dy="0.35em">1</text>
<text transform="translate(1420.5,196.98) rotate(-60.3)" text-anchor="start" dy="0.35em">10</text>
<text transform="translate(1463.94,223.43) rotate(-57.04)" text-anchor="start" dy="0.35em">100</text>
<text transform="translate(1505.81,252.3) rotate(-53.78)" text-anchor="start" dy="0.35em">1000</text>
<text transform="translate(1543.76,281.7) rotate(-50.7)" text-anchor="start" dy="0.35em">1</text>
<text transform="translate(1582.18,315.02) rotate(-47.44)" text-anchor="start" dy="0.35em">10</text>
<text transform="translate(1618.65,350.47) rotate(-44.18)" text-anchor="start" dy="0.35em">100</text>
<text transform="translate(1653.04,387.94) rotate(-40.92)" text-anchor="start" dy="0.35em">1000</text>
<text transform="translate(1683.5,425.05) rotate(-37.84)" text-anchor="start" dy="0.35em">1</text>
<text transform="translate(1713.55,466.09) rotate(-34.58)" text-anchor="start" dy="0.35em">10</text>
<text transform="translate(1741.21,508.76) rotate(-31.32)" text-anchor="start" dy="0.35em">100</text>
<text transform="translate(1766.4,552.95) rotate(-28.06)" text-anchor="start" dy="0.35em">1000</text>
<text transform="translate(1787.84,595.9) rotate(-24.98)" text-anchor="start" dy="0.35em">1</text>
<text transform="translate(1808,642.59) rotate(-21.72)" text-anchor="start" dy="0.35em">10</text>
<text transform="translate(1825.48,690.36) rotate(-18.46)" text-anchor="start" dy="0.35em">100</text>
<text transform="translate(1840.21,739.04) rotate(-15.2)" text-anchor="start" dy="0.35em">1000</text>
<text transform="translate(1851.55,785.69) rotate(-12.13)" text-anchor="start" dy="0.35em">1</text>
<text transform="translate(1860.82,835.7) rotate(-8.87)" text-anchor="start" dy="0.35em">10</text>
<text transform="translate(1867.22,886.15) rotate(-5.61)" text-anchor="start" dy="0.35em">100</text>
<text transform="translate(1870.75,936.89) rotate(-2.35)" text-anchor="start" dy="0.35em">1000</text>
<text transform="translate(1871.43,984.89) rotate(0.73)" text-anchor="start" dy="0.35em">1</text>
<text transform="translate(1869.33,1035.71) rotate(3.99)" text-anchor="start" dy="0.35em">10</text>
<text transform="translate(1864.35,1086.32) rotate(7.25)" text-anchor="start" dy="0.35em">100</text>
<text transform="translate(1856.5,1136.57) rotate(10.51)" text-anchor="start" dy="0.35em">1000</text>
<text transform="translate(1846.48,1183.52) rotate(13.59)" text-anchor="start" dy="0.35em">1</text>
<text transform="translate(1833.13,1232.6) rotate(16.85)" text-anchor="start" dy="0.35em">10</text>
<text transform="translate(1817.01,1280.84) rotate(20.11)" text-anchor="start" dy="0.35em">100</text>
<text transform="translate(1798.18,1328.08) rotate(23.37)" text-anchor="start" dy="0.35em">1000</text>
<text transform="translate(1777.96,1371.62) rotate(26.44)" text-anchor="start" dy="0.35em">1</text>
<text transform="translate(1754.02,1416.5) rotate(29.7)" text-anchor="start" dy="0.35em">10</text>
<text transform="translate(1727.57,1459.94) rotate(32.96)" text-anchor="start" dy="0.35em">100</text>
<text transform="translate(1698.7,1501.81) rotate(36.22)" text-anchor="start" dy="0.35em">1000</text>
<text transform="translate(1669.3,1539.76) rotate(39.3)" text-anchor="start" dy="0.35em">1</text>
<text transform="translate(1635.98,1578.18) rotate(42.56)" text-anchor="start" dy="0.35em">10</text>
<text transform="translate(1600.53,1614.65) rotate(45.82)" text-anchor="start" dy="0.35em">100</text>
<text transform="translate(1563.06,1649.04) rotate(49.08)" text-anchor="start" dy="0.35em">1000</text>
<text transform="translate(1525.95,1679.5) rotate(52.16)" text-anchor="start" dy="0.35em">1</text>
<text transform="translate(1484.91,1709.55) rotate(55.42)" text-anchor="start" dy="0.35em">10</text>
<text transform="translate(1442.24,1737.21) rotate(58.68)" text-anchor="start" dy="0.35em">100</text>
<text transform="translate(1398.05,1762.4) rotate(61.94)" text-anchor="start" dy="0.35em">1000</text>
<text transform="translate(1355.1,1783.84) rotate(65.02)" text-anchor="start" dy="0.35em">1</text>
<text transform="translate(1308.41,1804) rotate(68.28)" text-anchor="start" dy="0.35em">10</text>
<text transform="translate(1260.64,1821.48) rotate(71.54)" text-anchor="start" dy="0.35em">100</text>
<text transform="translate(1211.96,1836.21) rotate(74.8)" text-anchor="start" dy="0.35em">1000</text>
<text transform="translate(1165.31,1847.55) rotate(77.87)" text-anchor="start" dy="0.35em">1</text>
<text transform="translate(1115.3,1856.82) rotate(81.13)" text-anchor="start" dy="0.35em">10</text>
<text transform="translate(1064.85,1863.22) rotate(84.39)" text-anchor="start" dy="0.35em">100</text>
<text transform="translate(1014.11,1866.75) rotate(87.65)" text-anchor="start" dy="0.35em">1000</text>
<text transform="translate(966.11,1867.43) rotate(270.73)" text-anchor="end" dy="0.35em">1</text>
<text transform="translate(915.29,1865.33) rotate(273.99)" text-anchor="end" dy="0.35em">10</text>
<text transform="translate(864.68,1860.35) rotate(277.25)" text-anchor="end" dy="0.35em">100</text>
<text transform="translate(814.43,1852.5) rotate(280.51)" text-anchor="end" dy="0.35em">1000</text>
<text transform="translate(767.48,1842.48) rotate(283.59)" text-anchor="end" dy="0.35em">1</text>
<text transform="translate(718.4,1829.13) rotate(286.85)" text-anchor="end" dy="0.35em">10</text>
<text transform="translate(670.16,1813.01) rotate(290.11)" text-anchor="end" dy="0.35em">100</text>
<text transform="translate(622.92,1794.18) rotate(293.37)" text-anchor="end" dy="0.35em">1000</text>
<text transform="translate(579.38,1773.96) rotate(296.44)" text-anchor="end" dy="0.35em">1</text>
<text transform="translate(534.5,1750.02) rotate(299.7)" text-anchor="end" dy="0.35em">10</text>
<text transform="translate(491.06,1723.57) rotate(302.96)" text-anchor="end" dy="0.35em">100</text>
<text transform="translate(449.19,1694.7) rotate(306.22)" text-anchor="end" dy="0.35em">1000</text>
<text transform="translate(411.24,1665.3) rotate(309.3)" text-anchor="end" dy="0.35em">1</text>
<text transform="translate(372.82,1631.98) rotate(312.56)" text-anchor="end" dy="0.35em">10</text>
<text transform="translate(336.35,1596.53) rotate(315.82)" text-anchor="end" dy="0.35em">100</text>
<text transform="translate(301.96,1559.06) rotate(319.08)" text-anchor="end" dy="0.35em">1000</text>
<text transform="translate(271.5,1521.95) rotate(322.16)" text-anchor="end" dy="0.35em">1</text>
<text transform="translate(241.45,1480.91) rotate(325.42)" text-anchor="end" dy="0.35em">10</text>
<text transform="translate(213.79,1438.24) rotate(328.68)" text-anchor="end" dy="0.35em">100</text>
<text transform="translate(188.6,1394.05) rotate(331.94)" text-anchor="end" dy="0.35em">1000</text>
<text transform="translate(167.16,1351.1) rotate(335.02)" text-anchor="end" dy="0.35em">1</text>
<text transform="translate(147,1304.41) rotate(338.28)" text-anchor="end" dy="0.35em">10</text>
<text transform="translate(129.52,1256.64) rotate(341.54)" text-anchor="end" dy="0.35em">100</text>
<text transform="translate(114.79,1207.96) rotate(344.8)" text-anchor="end" dy="0.35em">1000</text>
<text transform="translate(103.45,1161.31) rotate(347.87)" text-anchor="end" dy="0.35em">1</text>
<text transform="translate(94.18,1111.3) rotate(351.13)" text-anchor="end" dy="0.35em">10</text>
<text transform="translate(87.78,1060.85) rotate(354.39)" text-anchor="end" dy="0.35em">100</text>
<text transform="translate(84.25,1010.11) rotate(357.65)" text-anchor="end" dy="0.35em">1000</text>
<text transform="translate(83.57,962.11) rotate(360.73)" text-anchor="end" dy="0.35em">1</text>
<text transform="translate(85.67,911.29) rotate(363.99)" text-anchor="end" dy="0.35em">10</text>
<text transform="translate(90.65,860.68) rotate(367.25)" text-anchor="end" dy="0.35em">100</text>
<text transform="translate(98.5,810.43) rotate(370.51)" text-anchor="end" dy="0.35em">1000</text>
<text transform="translate(108.52,763.48) rotate(373.59)" text-anchor="end" dy="0.35em">1</text>
<text transform="translate(121.87,714.4) rotate(376.85)" text-anchor="end" dy="0.35em">10</text>
<text transform="translate(137.99,666.16) rotate(380.11)" text-anchor="end" dy="0.35em">100</text>
<text transform="translate(156.82,618.92) rotate(383.37)" text-anchor="end" dy="0.35em">1000</text>
<text transform="translate(177.04,575.38) rotate(386.44)" text-anchor="end" dy="0.35em">1</text>
<text transform="translate(200.98,530.5) rotate(389.7)" text-anchor="end" dy="0.35em">10</text>
<text transform="translate(227.43,487.06) rotate(392.96)" text-anchor="end" dy="0.35em">100</text>
<text transform="translate(256.3,445.19) rotate(396.22)" text-anchor="end" dy="0.35em">1000</text>
<text transform="translate(285.7,407.24) rotate(399.3)" text-anchor="end" dy="0.35em">1</text>
<text transform="translate(319.02,368.82) rotate(402.56)" text-anchor="end" dy="0.35em">10</text>
<text transform="translate(354.47,332.35) rotate(405.82)" text-anchor="end" dy="0.35em">100</text>
<text transform="translate(391.94,297.96) rotate(409.08)" text-anchor="end" dy="0.35em">1000</text>
<text transform="translate(429.05,267.5) rotate(412.16)" text-anchor="end" dy="0.35em">1</text>
<text transform="translate(470.09,237.45) rotate(415.42)" text-anchor="end" dy="0.35em">10</text>
<text transform="translate(512.76,209.79) rotate(418.68)" text-anchor="end" dy="0.35em">100</text>
<text transform="translate(556.95,184.6) rotate(421.94)" text-anchor="end" dy="0.35em">1000</text>
<text transform="translate(599.9,163.16) rotate(425.02)" text-anchor="end" dy="0.35em">1</text>
<text transform="translate(646.59,143) rotate(428.28)" text-anchor="end" dy="0.35em">10</text>
<text transform="translate(694.36,125.52) rotate(431.54)" text-anchor="end" dy="0.35em">100</text>
<text transform="translate(743.04,110.79) rotate(434.8)" text-anchor="end" dy="0.35em">1000</text>
<text transform="translate(789.69,99.45) rotate(437.87)" text-anchor="end" dy="0.35em">1</text>
<text transform="translate(839.7,90.18) rotate(441.13)" text-anchor="end" dy="0.35em">10</text>
<text transform="translate(890.15,83.78) rotate(444.39)" text-anchor="end" dy="0.35em">100</text>
<text transform="translate(940.89,80.25) rotate(447.65)" text-anchor="end" dy="0.35em">1000</text>
</g>
<g font-size="32" fill="#ffffff" text-anchor="middle"><text transform="translate(991.93,139.32) rotate(0.99)">G</text><text transform="translate(1016.8,140.13) rotate(2.7)">O</text><text transform="translate(1033.67,141.09) rotate(3.86)">:</text><text transform="translate(1046.97,142.1) rotate(4.78)">0</text><text transform="translate(1064.69,143.77) rotate(6)">0</text><text transform="translate(1082.37,145.82) rotate(7.22)">1</text><text transform="translate(1100,148.24) rotate(8.44)">0</text><text transform="translate(1117.57,151.04) rotate(9.67)">2</text><text transform="translate(1135.09,154.22) rotate(10.89)">0</text><text transform="translate(1152.52,157.77) rotate(12.11)">0</text></g>
<g font-size="32" fill="#ffffff" text-anchor="middle"><text transform="translate(1177.19,163.45) rotate(13.85)">G</text><text transform="translate(1201.26,169.77) rotate(15.56)">O</text><text transform="translate(1217.49,174.46) rotate(16.72)">:</text><text transform="translate(1230.24,178.4) rotate(17.63)">0</text><text transform="translate(1247.14,183.97) rotate(18.86)">0</text><text transform="translate(1263.92,189.9) rotate(20.08)">5</text><text transform="translate(1280.57,196.19) rotate(21.3)">0</text><text transform="translate(1297.08,202.83) rotate(22.52)">8</text><text transform="translate(1313.44,209.83) rotate(23.74)">2</text><text transform="translate(1329.65,217.16) rotate(24.97)">9</text></g>
<g font-size="32" fill="#ffffff" text-anchor="middle"><text transform="translate(1352.43,228.19) rotate(26.71)">G</text><text transform="translate(1374.5,239.71) rotate(28.41)">O</text><text transform="translate(1389.27,247.9) rotate(29.57)">:</text><text transform="translate(1400.83,254.58) rotate(30.49)">0</text><text transform="translate(1416.06,263.77) rotate(31.71)">0</text><text transform="translate(1431.1,273.28) rotate(32.94)">1</text><text transform="translate(1445.93,283.12) rotate(34.16)">9</text><text transform="translate(1460.55,293.27) rotate(35.38)">0</text><text transform="translate(1474.95,303.73) rotate(36.6)">8</text><text transform="translate(1489.13,314.49) rotate(37.82)">3</text></g>
<g font-size="32" fill="#ffffff" text-anchor="middle"><text transform="translate(1508.88,330.31) rotate(39.56)">G</text><text transform="translate(1527.83,346.45) rotate(41.27)">O</text><text transform="translate(1540.41,357.72) rotate(42.43)">:</text><text transform="translate(1550.19,366.8) rotate(43.35)">0</text><text transform="translate(1563,379.15) rotate(44.57)">0</text><text transform="translate(1575.54,391.78) rotate(45.79)">0</text><text transform="translate(1587.81,404.66) rotate(47.01)">6</text><text transform="translate(1599.81,417.81) rotate(48.24)">6</text><text transform="translate(1611.52,431.21) rotate(49.46)">1</text><text transform="translate(1622.94,444.86) rotate(50.68)">4</text></g>
<g font-size="32" fill="#ffffff" text-anchor="middle"><text transform="translate(1638.68,464.68) rotate(52.42)">G</text><text transform="translate(1653.56,484.63) rotate(54.13)">O</text><text transform="translate(1663.32,498.42) rotate(55.29)">:</text><text transform="translate(1670.83,509.45) rotate(56.21)">0</text><text transform="translate(1680.57,524.34) rotate(57.43)">0</text><text transform="translate(1689.99,539.44) rotate(58.65)">0</text><text transform="translate(1699.09,554.73) rotate(59.87)">6</text><text transform="translate(1707.86,570.22) rotate(61.09)">0</text><text transform="translate(1716.29,585.89) rotate(62.32)">9</text><text transform="translate(1724.39,601.74) rotate(63.54)">4</text></g>
<g font-size="32" fill="#ffffff" text-anchor="middle"><text transform="translate(1735.33,624.56) rotate(65.28)">G</text><text transform="translate(1745.4,647.32) rotate(66.99)">O</text><text transform="translate(1751.84,662.94) rotate(68.15)">:</text><text transform="translate(1756.71,675.36) rotate(69.06)">0</text><text transform="translate(1762.89,692.05) rotate(70.28)">0</text><text transform="translate(1768.72,708.87) rotate(71.51)">0</text><text transform="translate(1774.18,725.8) rotate(72.73)">2</text><text transform="translate(1779.28,742.85) rotate(73.95)">1</text><text transform="translate(1784.02,760.01) rotate(75.17)">8</text><text transform="translate(1788.39,777.26) rotate(76.4)">1</text></g>
<g font-size="32" fill="#ffffff" text-anchor="middle"><text transform="translate(1793.97,801.94) rotate(78.13)">G</text><text transform="translate(1798.73,826.38) rotate(79.84)">O</text><text transform="translate(1801.54,843.03) rotate(81)">:</text><text transform="translate(1803.52,856.23) rotate(81.92)">0</text><text transform="translate(1805.83,873.87) rotate(83.14)">0</text><text transform="translate(1807.77,891.56) rotate(84.36)">0</text><text transform="translate(1809.33,909.29) rotate(85.59)">9</text><text transform="translate(1810.51,927.05) rotate(86.81)">4</text><text transform="translate(1811.31,944.83) rotate(88.03)">0</text><text transform="translate(1811.73,962.62) rotate(89.25)">8</text></g>
<g font-size="32" fill="#ffffff" text-anchor="middle"><text transform="translate(1821.32,1148.14) rotate(281.69)">G</text><text transform="translate(1826.01,1123.7) rotate(280.04)">O</text><text transform="translate(1828.79,1107.04) rotate(278.92)">:</text><text transform="translate(1830.76,1093.84) rotate(278.03)">0</text><text transform="translate(1833.06,1076.2) rotate(276.84)">0</text><text transform="translate(1835,1058.5) rotate(275.66)">0</text><text transform="translate(1836.57,1040.78) rotate(274.48)">6</text><text transform="translate(1837.78,1023.02) rotate(273.29)">9</text><text transform="translate(1838.62,1005.25) rotate(272.11)">5</text><text transform="translate(1839.09,987.46) rotate(270.93)">2</text></g>
<g font-size="32" fill="#ffffff" text-anchor="middle"><text transform="translate(1761.3,1331.53) rotate(294.55)">G</text><text transform="translate(1771.31,1308.75) rotate(292.9)">O</text><text transform="translate(1777.73,1293.12) rotate(291.77)">:</text><text transform="translate(1782.58,1280.69) rotate(290.89)">0</text><text transform="translate(1788.76,1264) rotate(289.7)">0</text><text transform="translate(1794.58,1247.18) rotate(288.52)">0</text><text transform="translate(1800.06,1230.25) rotate(287.34)">6</text><text transform="translate(1805.19,1213.21) rotate(286.15)">4</text><text transform="translate(1809.96,1196.07) rotate(284.97)">1</text><text transform="translate(1814.38,1178.83) rotate(283.79)">2</text></g>
<g font-size="32" fill="#111111" text-anchor="middle"><text transform="translate(1661.98,1496.97) rotate(307.41)">G</text><text transform="translate(1676.81,1476.98) rotate(305.75)">O</text><text transform="translate(1686.54,1463.18) rotate(304.63)">:</text><text transform="translate(1694.04,1452.14) rotate(303.74)">0</text><text transform="translate(1703.77,1437.24) rotate(302.56)">0</text><text transform="translate(1713.2,1422.14) rotate(301.38)">4</text><text transform="translate(1722.3,1406.85) rotate(300.19)">2</text><text transform="translate(1731.09,1391.38) rotate(299.01)">4</text><text transform="translate(1739.56,1375.73) rotate(297.83)">7</text><text transform="translate(1747.71,1359.9) rotate(296.64)">0</text></g>
<g font-size="32" fill="#111111" text-anchor="middle"><text transform="translate(1528.33,1636.15) rotate(320.26)">G</text><text transform="translate(1547.24,1619.97) rotate(318.61)">O</text><text transform="translate(1559.8,1608.68) rotate(317.49)">:</text><text transform="translate(1569.57,1599.58) rotate(316.6)">0</text><text transform="translate(1582.37,1587.22) rotate(315.42)">0</text><text transform="translate(1594.92,1574.6) rotate(314.23)">0</text><text transform="translate(1607.2,1561.72) rotate(313.05)">9</text><text transform="translate(1619.21,1548.59) rotate(311.87)">5</text><text transform="translate(1630.95,1535.22) rotate(310.68)">1</text><text transform="translate(1642.41,1521.6) rotate(309.5)">4</text></g>
<g font-size="32" fill="#111111" text-anchor="middle"><text transform="translate(1367.07,1742.11) rotate(333.12)">G</text><text transform="translate(1389.11,1730.54) rotate(331.47)">O</text><text transform="translate(1403.86,1722.33) rotate(330.34)">:</text><text transform="translate(1415.41,1715.63) rotate(329.46)">0</text><text transform="translate(1430.64,1706.43) rotate(328.27)">0</text><text transform="translate(1445.68,1696.92) rotate(327.09)">0</text><text transform="translate(1460.52,1687.09) rotate(325.91)">5</text><text transform="translate(1475.16,1676.97) rotate(324.72)">9</text><text transform="translate(1489.58,1666.54) rotate(323.54)">2</text><text transform="translate(1503.78,1655.82) rotate(322.36)">5</text></g>
<g font-size="32" fill="#111111" text-anchor="middle"><text transform="translate(1186.27,1809.53) rotate(345.98)">G</text><text transform="translate(1210.33,1803.15) rotate(344.32)">O</text><text transform="translate(1226.54,1798.43) rotate(343.2)">:</text><text transform="translate(1239.29,1794.47) rotate(342.31)">0</text><text transform="translate(1256.19,1788.89) rotate(341.13)">0</text><text transform="translate(1272.97,1782.96) rotate(339.95)">3</text><text transform="translate(1289.62,1776.69) rotate(338.76)">1</text><text transform="translate(1306.14,1770.07) rotate(337.58)">0</text><text transform="translate(1322.52,1763.11) rotate(336.4)">1</text><text transform="translate(1338.76,1755.82) rotate(335.21)">2</text></g>
<g font-size="32" fill="#111111" text-anchor="middle"><text transform="translate(995,1835.02) rotate(358.84)">G</text><text transform="translate(1019.88,1834.16) rotate(357.18)">O</text><text transform="translate(1036.74,1833.16) rotate(356.06)">:</text><text transform="translate(1050.04,1832.14) rotate(355.17)">0</text><text transform="translate(1067.76,1830.46) rotate(353.99)">0</text><text transform="translate(1085.44,1828.41) rotate(352.8)">0</text><text transform="translate(1103.07,1826) rotate(351.62)">5</text><text transform="translate(1120.65,1823.23) rotate(350.44)">7</text><text transform="translate(1138.17,1820.09) rotate(349.25)">8</text><text transform="translate(1155.62,1816.59) rotate(348.07)">8</text></g>
<g font-size="32" fill="#111111" text-anchor="middle"><text transform="translate(802.86,1817.32) rotate(371.69)">G</text><text transform="translate(827.3,1822.01) rotate(370.04)">O</text><text transform="translate(843.96,1824.79) rotate(368.92)">:</text><text transform="translate(857.16,1826.76) rotate(368.03)">0</text><text transform="translate(874.8,1829.06) rotate(366.84)">0</text><text transform="translate(892.5,1831) rotate(365.66)">0</text><text transform="translate(910.22,1832.57) rotate(364.48)">9</text><text transform="translate(927.98,1833.78) rotate(363.29)">6</text><text transform="translate(945.75,1834.62) rotate(362.11)">1</text><text transform="translate(963.54,1835.09) rotate(360.93)">1</text></g>
<g font-size="32" fill="#111111" text-anchor="middle"><text transform="translate(619.47,1757.3) rotate(384.55)">G</text><text transform="translate(642.25,1767.31) rotate(382.9)">O</text><text transform="translate(657.88,1773.73) rotate(381.77)">:</text><text transform="translate(670.31,1778.58) rotate(380.89)">0</text><text transform="translate(687,1784.76) rotate(379.7)">0</text><text transform="translate(703.82,1790.58) rotate(378.52)">4</text><text transform="translate(720.75,1796.06) rotate(377.34)">3</text><text transform="translate(737.79,1801.19) rotate(376.15)">2</text><text transform="translate(754.93,1805.96) rotate(374.97)">0</text><text transform="translate(772.17,1810.38) rotate(373.79)">9</text></g>
<g font-size="32" fill="#111111" text-anchor="middle"><text transform="translate(454.03,1657.98) rotate(397.41)">G</text><text transform="translate(474.02,1672.81) rotate(395.75)">O</text><text transform="translate(487.82,1682.54) rotate(394.63)">:</text><text transform="translate(498.86,1690.04) rotate(393.74)">0</text><text transform="translate(513.76,1699.77) rotate(392.56)">0</text><text transform="translate(528.86,1709.2) rotate(391.38)">0</text><text transform="translate(544.15,1718.3) rotate(390.19)">5</text><text transform="translate(559.62,1727.09) rotate(389.01)">6</text><text transform="translate(575.27,1735.56) rotate(387.83)">1</text><text transform="translate(591.1,1743.71) rotate(386.64)">5</text></g>
<g font-size="32" fill="#111111" text-anchor="middle"><text transform="translate(314.85,1524.33) rotate(410.26)">G</text><text transform="translate(331.03,1543.24) rotate(408.61)">O</text><text transform="translate(342.32,1555.8) rotate(407.49)">:</text><text transform="translate(351.42,1565.57) rotate(406.6)">0</text><text transform="translate(363.78,1578.37) rotate(405.42)">0</text><text transform="translate(376.4,1590.92) rotate(404.23)">7</text><text transform="translate(389.28,1603.2) rotate(403.05)">0</text><text transform="translate(402.41,1615.21) rotate(401.87)">0</text><text transform="translate(415.78,1626.95) rotate(400.68)">6</text><text transform="translate(429.4,1638.41) rotate(399.5)">2</text></g>
<g font-size="32" fill="#111111" text-anchor="middle"><text transform="translate(208.89,1363.07) rotate(423.12)">G</text><text transform="translate(220.46,1385.11) rotate(421.47)">O</text><text transform="translate(228.67,1399.86) rotate(420.34)">:</text><text transform="translate(235.37,1411.41) rotate(419.46)">0</text><text transform="translate(244.57,1426.64) rotate(418.27)">0</text><text transform="translate(254.08,1441.68) rotate(417.09)">0</text><text transform="translate(263.91,1456.52) rotate(415.91)">9</text><text transform="translate(274.03,1471.16) rotate(414.72)">9</text><text transform="translate(284.46,1485.58) rotate(413.54)">8</text><text transform="translate(295.18,1499.78) rotate(412.36)">6</text></g>
<g font-size="32" fill="#111111" text-anchor="middle"><text transform="translate(141.47,1182.27) rotate(435.98)">G</text><text transform="translate(147.85,1206.33) rotate(434.32)">O</text><text transform="translate(152.57,1222.54) rotate(433.2)">:</text><text transform="translate(156.53,1235.29) rotate(432.31)">0</text><text transform="translate(162.11,1252.19) rotate(431.13)">0</text><text transform="translate(168.04,1268.97) rotate(429.95)">2</text><text transform="translate(174.31,1285.62) rotate(428.76)">2</text><text transform="translate(180.93,1302.14) rotate(427.58)">6</text><text transform="translate(187.89,1318.52) rotate(426.4)">2</text><text transform="translate(195.18,1334.76) rotate(425.21)">7</text></g>
<g font-size="32" fill="#111111" text-anchor="middle"><text transform="translate(115.98,991) rotate(448.84)">G</text><text transform="translate(116.84,1015.88) rotate(447.18)">O</text><text transform="translate(117.84,1032.74) rotate(446.06)">:</text><text transform="translate(118.86,1046.04) rotate(445.17)">0</text><text transform="translate(120.54,1063.76) rotate(443.99)">0</text><text transform="translate(122.59,1081.44) rotate(442.8)">2</text><text transform="translate(125,1099.07) rotate(441.62)">2</text><text transform="translate(127.77,1116.65) rotate(440.44)">6</text><text transform="translate(130.91,1134.17) rotate(439.25)">2</text><text transform="translate(134.41,1151.62) rotate(438.07)">5</text></g>
<g font-size="32" fill="#111111" text-anchor="middle"><text transform="translate(143.32,959.07) rotate(270.99)">G</text><text transform="translate(144.13,934.2) rotate(272.7)">O</text><text transform="translate(145.09,917.33) rotate(273.86)">:</text><text transform="translate(146.1,904.03) rotate(274.78)">0</text><text transform="translate(147.77,886.31) rotate(276)">0</text><text transform="translate(149.82,868.63) rotate(277.22)">0</text><text transform="translate(152.24,851) rotate(278.44)">5</text><text transform="translate(155.04,833.43) rotate(279.67)">5</text><text transform="translate(158.22,815.91) rotate(280.89)">7</text><text transform="translate(161.77,798.48) rotate(282.11)">5</text></g>
<g font-size="32" fill="#111111" text-anchor="middle"><text transform="translate(167.45,773.81) rotate(283.85)">G</text><text transform="translate(173.77,749.74) rotate(285.56)">O</text><text transform="translate(178.46,733.51) rotate(286.72)">:</text><text transform="translate(182.4,720.76) rotate(287.63)">0</text><text transform="translate(187.97,703.86) rotate(288.86)">0</text><text transform="translate(193.9,687.08) rotate(290.08)">0</text><text transform="translate(200.19,670.43) rotate(291.3)">5</text><text transform="translate(206.83,653.92) rotate(292.52)">5</text><text transform="translate(213.83,637.56) rotate(293.74)">7</text><text transform="translate(221.16,621.35) rotate(294.97)">6</text></g>
<g font-size="32" fill="#111111" text-anchor="middle"><text transform="translate(232.19,598.57) rotate(296.71)">G</text><text transform="translate(243.71,576.5) rotate(298.41)">O</text><text transform="translate(251.9,561.73) rotate(299.57)">:</text><text transform="translate(258.58,550.17) rotate(300.49)">0</text><text transform="translate(267.77,534.94) rotate(301.71)">0</text><text transform="translate(277.28,519.9) rotate(302.94)">2</text><text transform="translate(287.12,505.07) rotate(304.16)">3</text><text transform="translate(297.27,490.45) rotate(305.38)">0</text><text transform="translate(307.73,476.05) rotate(306.6)">2</text><text transform="translate(318.49,461.87) rotate(307.82)">6</text></g>
<g font-size="32" fill="#111111" text-anchor="middle"><text transform="translate(334.31,442.12) rotate(309.56)">G</text><text transform="translate(350.45,423.17) rotate(311.27)">O</text><text transform="translate(361.72,410.59) rotate(312.43)">:</text><text transform="translate(370.8,400.81) rotate(313.35)">0</text><text transform="translate(383.15,388) rotate(314.57)">0</text><text transform="translate(395.78,375.46) rotate(315.79)">0</text><text transform="translate(408.66,363.19) rotate(317.01)">8</text><text transform="translate(421.81,351.19) rotate(318.24)">0</text><text transform="translate(435.21,339.48) rotate(319.46)">6</text><text transform="translate(448.86,328.06) rotate(320.68)">1</text></g>
<g font-size="32" fill="#111111" text-anchor="middle"><text transform="translate(468.68,312.32) rotate(322.42)">G</text><text transform="translate(488.63,297.44) rotate(324.13)">O</text><text transform="translate(502.42,287.68) rotate(325.29)">:</text><text transform="translate(513.45,280.17) rotate(326.21)">0</text><text transform="translate(528.34,270.43) rotate(327.43)">0</text><text transform="translate(543.44,261.01) rotate(328.65)">1</text><text transform="translate(558.73,251.91) rotate(329.87)">6</text><text transform="translate(574.22,243.14) rotate(331.09)">7</text><text transform="translate(589.89,234.71) rotate(332.32)">2</text><text transform="translate(605.74,226.61) rotate(333.54)">2</text></g>
<g font-size="32" fill="#111111" text-anchor="middle"><text transform="translate(628.56,215.67) rotate(335.28)">G</text><text transform="translate(651.32,205.6) rotate(336.99)">O</text><text transform="translate(666.94,199.16) rotate(338.15)">:</text><text transform="translate(679.36,194.29) rotate(339.06)">0</text><text transform="translate(696.05,188.11) rotate(340.28)">0</text><text transform="translate(712.87,182.28) rotate(341.51)">0</text><text transform="translate(729.8,176.82) rotate(342.73)">4</text><text transform="translate(746.85,171.72) rotate(343.95)">6</text><text transform="translate(764.01,166.98) rotate(345.17)">0</text><text transform="translate(781.26,162.61) rotate(346.4)">1</text></g>
<g font-size="32" fill="#111111" text-anchor="middle"><text transform="translate(805.94,157.03) rotate(348.13)">G</text><text transform="translate(830.38,152.27) rotate(349.84)">O</text><text transform="translate(847.03,149.46) rotate(351)">:</text><text transform="translate(860.23,147.48) rotate(351.92)">0</text><text transform="translate(877.87,145.17) rotate(353.14)">0</text><text transform="translate(895.56,143.23) rotate(354.36)">0</text><text transform="translate(913.29,141.67) rotate(355.59)">3</text><text transform="translate(931.05,140.49) rotate(356.81)">7</text><text transform="translate(948.83,139.69) rotate(358.03)">3</text><text transform="translate(966.62,139.27) rotate(359.25)">5</text></g>
<text transform="translate(1019.92,214.68) rotate(3.2) scale(1,1)" font-size="37" text-anchor="middle" fill="#4aa5e5">68</text>
<text transform="translate(1187.71,243.15) rotate(16.06) scale(1,1)" font-size="37" text-anchor="middle" fill="#2189cf">26</text>
<text transform="translate(1344.96,308.24) rotate(28.91) scale(1,1)" font-size="37" text-anchor="middle" fill="#2189cf">31</text>
<text transform="translate(1483.78,406.68) rotate(41.77) scale(1,1)" font-size="37" text-anchor="middle" fill="#2189cf">43</text>
<text transform="translate(1597.22,533.55) rotate(54.63) scale(1,1)" font-size="37" text-anchor="middle" fill="#2189cf">70</text>
<text transform="translate(1679.58,682.48) rotate(67.49) scale(1,1)" font-size="37" text-anchor="middle" fill="#2189cf">253</text>
<text transform="translate(1726.73,846.01) rotate(80.34) scale(1,1)" font-size="37" text-anchor="middle" fill="#2189cf">213</text>
<text transform="translate(1762.77,1017.4) rotate(273.2) scale(1,1)" font-size="37" text-anchor="middle" fill="#2189cf">360</text>
<text transform="translate(1733.31,1191.04) rotate(286.06) scale(1,1)" font-size="37" text-anchor="middle" fill="#4aa5e5">980</text>
<text transform="translate(1665.95,1353.77) rotate(298.91) scale(1,1)" font-size="37" text-anchor="middle" fill="#4aa5e5">40</text>
<text transform="translate(1564.08,1497.43) rotate(311.77) scale(1,1)" font-size="37" text-anchor="middle" fill="#2189cf">67</text>
<text transform="translate(1432.78,1614.82) rotate(324.63) scale(1,1)" font-size="37" text-anchor="middle" fill="#4aa5e5">227</text>
<text transform="translate(1278.66,1700.05) rotate(337.49) scale(1,1)" font-size="37" text-anchor="middle" fill="#4aa5e5">157</text>
<text transform="translate(1109.44,1748.85) rotate(350.34) scale(1,1)" font-size="37" text-anchor="middle" fill="#2189cf">106</text>
<text transform="translate(933.6,1758.77) rotate(363.2) scale(1,1)" font-size="37" text-anchor="middle" fill="#2189cf">138</text>
<text transform="translate(759.96,1729.31) rotate(376.06) scale(1,1)" font-size="37" text-anchor="middle" fill="#2189cf">166</text>
<text transform="translate(597.23,1661.95) rotate(388.91) scale(1,1)" font-size="37" text-anchor="middle" fill="#a8d0f0">616</text>
<text transform="translate(453.57,1560.08) rotate(401.77) scale(1,1)" font-size="37" text-anchor="middle" fill="#a8c8ec">838</text>
<text transform="translate(336.18,1428.78) rotate(414.63) scale(1,1)" font-size="37" text-anchor="middle" fill="#2189cf">360</text>
<text transform="translate(250.95,1274.66) rotate(427.49) scale(1,1)" font-size="37" text-anchor="middle" fill="#2189cf">397</text>
<text transform="translate(202.15,1105.44) rotate(440.34) scale(1,1)" font-size="37" text-anchor="middle" fill="#a8d0f0">673</text>
<text transform="translate(218.68,931.08) rotate(273.2) scale(1,1)" font-size="37" text-anchor="middle" fill="#a8c8ec">1742</text>
<text transform="translate(247.15,763.29) rotate(286.06) scale(1,1)" font-size="37" text-anchor="middle" fill="#a8d0f0">1165</text>
<text transform="translate(312.24,606.04) rotate(298.91) scale(1,1)" font-size="37" text-anchor="middle" fill="#2189cf">11</text>
<text transform="translate(410.68,467.22) rotate(311.77) scale(1,1)" font-size="37" text-anchor="middle" fill="#2189cf">21</text>
<text transform="translate(537.55,353.78) rotate(324.63) scale(1,1)" font-size="37" text-anchor="middle" fill="#2189cf">26</text>
<text transform="translate(686.48,271.42) rotate(337.49) scale(1,1)" font-size="37" text-anchor="middle" fill="#2189cf">76</text>
<text transform="translate(850.01,224.27) rotate(350.34) scale(1,1)" font-size="37" text-anchor="middle" fill="#a8c8ec">1199</text>
<text transform="translate(1054.08,293.8) rotate(6.43) scale(0.95,1)" font-size="38.5" text-anchor="middle" fill="#111">38</text>
<text transform="translate(1203.41,327.88) rotate(19.29) scale(0.95,1)" font-size="38.5" text-anchor="middle" fill="#111">14</text>
<text transform="translate(1341.41,394.34) rotate(32.14) scale(0.95,1)" font-size="38.5" text-anchor="middle" fill="#111">16</text>
<text transform="translate(1461.16,489.84) rotate(45) scale(0.95,1)" font-size="38.5" text-anchor="middle" fill="#111">21</text>
<text transform="translate(1556.66,609.59) rotate(57.86) scale(0.95,1)" font-size="38.5" text-anchor="middle" fill="#111">26</text>
<text transform="translate(1623.12,747.59) rotate(70.71) scale(0.95,1)" font-size="38.5" text-anchor="middle" fill="#111">69</text>
<text transform="translate(1657.2,896.92) rotate(83.57) scale(0.95,1)" font-size="38.5" text-anchor="middle" fill="#111">58</text>
<text transform="translate(1687.57,1053.51) rotate(276.43) scale(0.95,1)" font-size="38.5" text-anchor="middle" fill="#111">96</text>
<text transform="translate(1651.97,1209.51) rotate(289.29) scale(0.95,1)" font-size="38.5" text-anchor="middle" fill="#111">235</text>
<text transform="translate(1582.54,1353.67) rotate(302.14) scale(0.95,1)" font-size="38.5" text-anchor="middle" fill="#111">25</text>
<text transform="translate(1482.77,1478.77) rotate(315) scale(0.95,1)" font-size="38.5" text-anchor="middle" fill="#111">27</text>
<text transform="translate(1357.67,1578.54) rotate(327.86) scale(0.95,1)" font-size="38.5" text-anchor="middle" fill="#111">83</text>
<text transform="translate(1213.51,1647.97) rotate(340.71) scale(0.95,1)" font-size="38.5" text-anchor="middle" fill="#111">57</text>
<text transform="translate(1057.51,1683.57) rotate(353.57) scale(0.95,1)" font-size="38.5" text-anchor="middle" fill="#111">38</text>
<text transform="translate(897.49,1683.57) rotate(366.43) scale(0.95,1)" font-size="38.5" text-anchor="middle" fill="#111">45</text>
<text transform="translate(741.49,1647.97) rotate(379.29) scale(0.95,1)" font-size="38.5" text-anchor="middle" fill="#111">52</text>
<text transform="translate(597.33,1578.54) rotate(392.14) scale(0.95,1)" font-size="38.5" text-anchor="middle" fill="#111">184</text>
<text transform="translate(472.23,1478.77) rotate(405) scale(0.95,1)" font-size="38.5" text-anchor="middle" fill="#111">235</text>
<text transform="translate(372.46,1353.67) rotate(417.86) scale(0.95,1)" font-size="38.5" text-anchor="middle" fill="#111">99</text>
<text transform="translate(303.03,1209.51) rotate(430.71) scale(0.95,1)" font-size="38.5" text-anchor="middle" fill="#111">109</text>
<text transform="translate(267.43,1053.51) rotate(443.57) scale(0.95,1)" font-size="38.5" text-anchor="middle" fill="#111">184</text>
<text transform="translate(297.8,896.92) rotate(276.43) scale(0.95,1)" font-size="38.5" text-anchor="middle" fill="#111">461</text>
<text transform="translate(331.88,747.59) rotate(289.29) scale(0.95,1)" font-size="38.5" text-anchor="middle" fill="#111">286</text>
<text transform="translate(398.34,609.59) rotate(302.14) scale(0.95,1)" font-size="38.5" text-anchor="middle" fill="#111">9</text>
<text transform="translate(493.84,489.84) rotate(315) scale(0.95,1)" font-size="38.5" text-anchor="middle" fill="#111">14</text>
<text transform="translate(613.59,394.34) rotate(327.86) scale(0.95,1)" font-size="38.5" text-anchor="middle" fill="#111">14</text>
<text transform="translate(751.59,327.88) rotate(340.71) scale(0.95,1)" font-size="38.5" text-anchor="middle" fill="#111">29</text>
<text transform="translate(900.92,293.8) rotate(353.57) scale(0.95,1)" font-size="38.5" text-anchor="middle" fill="#111">305</text>
<text transform="translate(1030.27,505.15) rotate(6.43) scale(1,1)" font-size="33.5" text-anchor="middle" fill="#111">55.88</text>
<text transform="translate(1131.21,534.22) rotate(19.29) scale(1,1)" font-size="33.5" text-anchor="middle" fill="#111">53.85</text>
<text transform="translate(1221.65,584.93) rotate(32.14) scale(1,1)" font-size="33.5" text-anchor="middle" fill="#111">51.61</text>
<text transform="translate(1296.3,654.7) rotate(45) scale(1,1)" font-size="33.5" text-anchor="middle" fill="#111">48.84</text>
<text transform="translate(1330.48,751.71) rotate(57.86) scale(1,1)" font-size="33.5" text-anchor="middle" fill="#111">37.14</text>
<text transform="translate(1343.93,845.28) rotate(70.71) scale(1,1)" font-size="33.5" text-anchor="middle" fill="#111">27.27</text>
<text transform="translate(1363.15,930.05) rotate(83.57) scale(1,1)" font-size="33.5" text-anchor="middle" fill="#111">27.23</text>
<text transform="translate(1385.36,1019.45) rotate(276.43) scale(1,1)" font-size="33.5" text-anchor="middle" fill="#111">26.67</text>
<text transform="translate(1357.54,1106.48) rotate(289.29) scale(1,1)" font-size="33.5" text-anchor="middle" fill="#111">23.98</text>
<text transform="translate(1413.15,1247.24) rotate(302.14) scale(1,1)" font-size="33.5" text-anchor="middle" fill="#111">62.5</text>
<text transform="translate(1295.72,1291.72) rotate(315) scale(1,1)" font-size="33.5" text-anchor="middle" fill="#111">40.3</text>
<text transform="translate(1211.16,1345.37) rotate(327.86) scale(1,1)" font-size="33.5" text-anchor="middle" fill="#111">36.56</text>
<text transform="translate(1122.31,1387.33) rotate(340.71) scale(1,1)" font-size="33.5" text-anchor="middle" fill="#111">36.31</text>
<text transform="translate(1026.44,1407.86) rotate(353.57) scale(1,1)" font-size="33.5" text-anchor="middle" fill="#111">35.85</text>
<text transform="translate(929.61,1398.51) rotate(366.43) scale(1,1)" font-size="33.5" text-anchor="middle" fill="#111">32.61</text>
<text transform="translate(837.47,1373.68) rotate(379.29) scale(1,1)" font-size="33.5" text-anchor="middle" fill="#111">31.33</text>
<text transform="translate(754.18,1328.91) rotate(392.14) scale(1,1)" font-size="33.5" text-anchor="middle" fill="#111">29.87</text>
<text transform="translate(684.45,1266.55) rotate(405) scale(1,1)" font-size="33.5" text-anchor="middle" fill="#111">28.04</text>
<text transform="translate(627.92,1193.15) rotate(417.86) scale(1,1)" font-size="33.5" text-anchor="middle" fill="#111">27.5</text>
<text transform="translate(587.93,1109.82) rotate(430.71) scale(1,1)" font-size="33.5" text-anchor="middle" fill="#111">27.46</text>
<text transform="translate(567.7,1019.67) rotate(443.57) scale(1,1)" font-size="33.5" text-anchor="middle" fill="#111">27.34</text>
<text transform="translate(594.06,930.3) rotate(276.43) scale(1,1)" font-size="33.5" text-anchor="middle" fill="#111">26.46</text>
<text transform="translate(618.54,847.89) rotate(289.29) scale(1,1)" font-size="33.5" text-anchor="middle" fill="#111">24.55</text>
<text transform="translate(514.65,682.67) rotate(302.14) scale(1,1)" font-size="33.5" text-anchor="middle" fill="#111">81.82</text>
<text transform="translate(622.08,618.08) rotate(315) scale(1,1)" font-size="33.5" text-anchor="middle" fill="#111">66.67</text>
<text transform="translate(729.89,579.44) rotate(327.86) scale(1,1)" font-size="33.5" text-anchor="middle" fill="#111">53.85</text>
<text transform="translate(838.84,577.23) rotate(340.71) scale(1,1)" font-size="33.5" text-anchor="middle" fill="#111">38.16</text>
<text transform="translate(934.63,593.02) rotate(353.57) scale(1,1)" font-size="33.5" text-anchor="middle" fill="#111">25.44</text>
<g>
<path d="M984.15,2608.24 A611,611 0 0 1 1106.97,2622.07 L1038.76,2934.21 A291.5,291.5 0 0 0 981.2,2927.72 Z" fill="#e5e5e5"/>
<path d="M1119.94,2625.03 A611,611 0 0 1 1236.59,2665.85 L1100.64,2954.98 A291.5,291.5 0 0 0 1045.96,2935.85 Z" fill="#e5e5e5"/>
<path d="M1248.58,2671.63 A611,611 0 0 1 1353.23,2737.38 L1156.34,2989.01 A291.5,291.5 0 0 0 1107.3,2958.19 Z" fill="#e5e5e5"/>
<path d="M1363.63,2745.68 A611,611 0 0 1 1451.02,2833.07 L1203.08,3034.58 A291.5,291.5 0 0 0 1162.12,2993.62 Z" fill="#e5e5e5"/>
<path d="M1459.32,2843.47 A611,611 0 0 1 1525.07,2948.12 L1238.51,3089.4 A291.5,291.5 0 0 0 1207.69,3040.36 Z" fill="#e5e5e5"/>
<path d="M1530.85,2960.11 A611,611 0 0 1 1571.67,3076.76 L1260.85,3150.74 A291.5,291.5 0 0 0 1241.72,3096.06 Z" fill="#e5e5e5"/>
<path d="M1574.63,3089.73 A611,611 0 0 1 1588.46,3212.55 L1268.98,3215.5 A291.5,291.5 0 0 0 1262.49,3157.94 Z" fill="#e5e5e5"/>
<path d="M1588.46,3225.85 A611,611 0 0 1 1574.63,3348.67 L1262.49,3280.46 A291.5,291.5 0 0 0 1268.98,3222.9 Z" fill="#e5e5e5"/>
<path d="M1571.67,3361.64 A611,611 0 0 1 1530.85,3478.29 L1241.72,3342.34 A291.5,291.5 0 0 0 1260.85,3287.66 Z" fill="#e5e5e5"/>
<path d="M1525.07,3490.28 A611,611 0 0 1 1459.32,3594.93 L1207.69,3398.04 A291.5,291.5 0 0 0 1238.51,3349 Z" fill="#e5e5e5"/>
<path d="M1451.02,3605.33 A611,611 0 0 1 1363.63,3692.72 L1162.12,3444.78 A291.5,291.5 0 0 0 1203.08,3403.82 Z" fill="#e5e5e5"/>
<path d="M1353.23,3701.02 A611,611 0 0 1 1248.58,3766.77 L1107.3,3480.21 A291.5,291.5 0 0 0 1156.34,3449.39 Z" fill="#e5e5e5"/>
<path d="M1236.59,3772.55 A611,611 0 0 1 1119.94,3813.37 L1045.96,3502.55 A291.5,291.5 0 0 0 1100.64,3483.42 Z" fill="#e5e5e5"/>
<path d="M1106.97,3816.33 A611,611 0 0 1 984.15,3830.16 L981.2,3510.68 A291.5,291.5 0 0 0 1038.76,3504.19 Z" fill="#e5e5e5"/>
<path d="M970.85,3830.16 A611,611 0 0 1 848.03,3816.33 L916.24,3504.19 A291.5,291.5 0 0 0 973.8,3510.68 Z" fill="#e5e5e5"/>
<path d="M835.06,3813.37 A611,611 0 0 1 718.41,3772.55 L854.36,3483.42 A291.5,291.5 0 0 0 909.04,3502.55 Z" fill="#e5e5e5"/>
<path d="M706.42,3766.77 A611,611 0 0 1 601.77,3701.02 L798.66,3449.39 A291.5,291.5 0 0 0 847.7,3480.21 Z" fill="#e5e5e5"/>
<path d="M591.37,3692.72 A611,611 0 0 1 503.98,3605.33 L751.92,3403.82 A291.5,291.5 0 0 0 792.88,3444.78 Z" fill="#e5e5e5"/>
<path d="M495.68,3594.93 A611,611 0 0 1 429.93,3490.28 L716.49,3349 A291.5,291.5 0 0 0 747.31,3398.04 Z" fill="#e5e5e5"/>
<path d="M424.15,3478.29 A611,611 0 0 1 383.33,3361.64 L694.15,3287.66 A291.5,291.5 0 0 0 713.28,3342.34 Z" fill="#e5e5e5"/>
<path d="M380.37,3348.67 A611,611 0 0 1 366.54,3225.85 L686.02,3222.9 A291.5,291.5 0 0 0 692.51,3280.46 Z" fill="#e5e5e5"/>
<path d="M366.54,3212.55 A611,611 0 0 1 380.37,3089.73 L692.51,3157.94 A291.5,291.5 0 0 0 686.02,3215.5 Z" fill="#e5e5e5"/>
<path d="M383.33,3076.76 A611,611 0 0 1 424.15,2960.11 L713.28,3096.06 A291.5,291.5 0 0 0 694.15,3150.74 Z" fill="#e5e5e5"/>
<path d="M429.93,2948.12 A611,611 0 0 1 495.68,2843.47 L747.31,3040.36 A291.5,291.5 0 0 0 716.49,3089.4 Z" fill="#e5e5e5"/>
<path d="M503.98,2833.07 A611,611 0 0 1 591.37,2745.68 L792.88,2993.62 A291.5,291.5 0 0 0 751.92,3034.58 Z" fill="#e5e5e5"/>
<path d="M601.77,2737.38 A611,611 0 0 1 706.42,2671.63 L847.7,2958.19 A291.5,291.5 0 0 0 798.66,2989.01 Z" fill="#e5e5e5"/>
<path d="M718.41,2665.85 A611,611 0 0 1 835.06,2625.03 L909.04,2935.85 A291.5,291.5 0 0 0 854.36,2954.98 Z" fill="#e5e5e5"/>
<path d="M848.03,2622.07 A611,611 0 0 1 970.85,2608.24 L973.8,2927.72 A291.5,291.5 0 0 0 916.24,2934.21 Z" fill="#e5e5e5"/>
<path d="M981.73,2869.64 A349.59,349.59 0 0 1 1051.16,2877.46" fill="none" stroke="#c3c3c3" stroke-width="2.4"/>
<path d="M982.27,2811.55 A407.68,407.68 0 0 1 1063.56,2820.71" fill="none" stroke="#c3c3c3" stroke-width="2.4"/>
<path d="M982.81,2753.46 A465.77,465.77 0 0 1 1075.96,2763.96" fill="none" stroke="#c3c3c3" stroke-width="2.4"/>
<path d="M983.35,2695.37 A523.86,523.86 0 0 1 1088.36,2707.21" fill="none" stroke="#c3c3c3" stroke-width="2.4"/>
<path d="M1059.41,2879.34 A349.59,349.59 0 0 1 1125.36,2902.42" fill="none" stroke="#c3c3c3" stroke-width="2.4"/>
<path d="M1072.86,2822.83 A407.68,407.68 0 0 1 1150.08,2849.85" fill="none" stroke="#c3c3c3" stroke-width="2.4"/>
<path d="M1086.31,2766.32 A465.77,465.77 0 0 1 1174.79,2797.28" fill="none" stroke="#c3c3c3" stroke-width="2.4"/>
<path d="M1099.76,2709.81 A523.86,523.86 0 0 1 1199.51,2744.71" fill="none" stroke="#c3c3c3" stroke-width="2.4"/>
<path d="M1132.98,2906.09 A349.59,349.59 0 0 1 1192.14,2943.26" fill="none" stroke="#c3c3c3" stroke-width="2.4"/>
<path d="M1158.67,2853.99 A407.68,407.68 0 0 1 1227.94,2897.51" fill="none" stroke="#c3c3c3" stroke-width="2.4"/>
<path d="M1184.36,2801.89 A465.77,465.77 0 0 1 1263.73,2851.76" fill="none" stroke="#c3c3c3" stroke-width="2.4"/>
<path d="M1210.05,2749.78 A523.86,523.86 0 0 1 1299.53,2806.01" fill="none" stroke="#c3c3c3" stroke-width="2.4"/>
<path d="M1198.76,2948.54 A349.59,349.59 0 0 1 1248.16,2997.94" fill="none" stroke="#c3c3c3" stroke-width="2.4"/>
<path d="M1235.4,2903.46 A407.68,407.68 0 0 1 1293.24,2961.3" fill="none" stroke="#c3c3c3" stroke-width="2.4"/>
<path d="M1272.03,2858.38 A465.77,465.77 0 0 1 1338.32,2924.67" fill="none" stroke="#c3c3c3" stroke-width="2.4"/>
<path d="M1308.67,2813.3 A523.86,523.86 0 0 1 1383.4,2888.03" fill="none" stroke="#c3c3c3" stroke-width="2.4"/>
<path d="M1253.44,3004.56 A349.59,349.59 0 0 1 1290.61,3063.72" fill="none" stroke="#c3c3c3" stroke-width="2.4"/>
<path d="M1299.19,2968.76 A407.68,407.68 0 0 1 1342.71,3038.03" fill="none" stroke="#c3c3c3" stroke-width="2.4"/>
<path d="M1344.94,2932.97 A465.77,465.77 0 0 1 1394.81,3012.34" fill="none" stroke="#c3c3c3" stroke-width="2.4"/>
<path d="M1390.69,2897.17 A523.86,523.86 0 0 1 1446.92,2986.65" fill="none" stroke="#c3c3c3" stroke-width="2.4"/>
<path d="M1294.28,3071.34 A349.59,349.59 0 0 1 1317.36,3137.29" fill="none" stroke="#c3c3c3" stroke-width="2.4"/>
<path d="M1346.85,3046.62 A407.68,407.68 0 0 1 1373.87,3123.84" fill="none" stroke="#c3c3c3" stroke-width="2.4"/>
<path d="M1399.42,3021.91 A465.77,465.77 0 0 1 1430.38,3110.39" fill="none" stroke="#c3c3c3" stroke-width="2.4"/>
<path d="M1451.99,2997.19 A523.86,523.86 0 0 1 1486.89,3096.94" fill="none" stroke="#c3c3c3" stroke-width="2.4"/>
<path d="M1319.24,3145.54 A349.59,349.59 0 0 1 1327.06,3214.97" fill="none" stroke="#c3c3c3" stroke-width="2.4"/>
<path d="M1375.99,3133.14 A407.68,407.68 0 0 1 1385.15,3214.43" fill="none" stroke="#c3c3c3" stroke-width="2.4"/>
<path d="M1432.74,3120.74 A465.77,465.77 0 0 1 1443.24,3213.89" fill="none" stroke="#c3c3c3" stroke-width="2.4"/>
<path d="M1489.49,3108.34 A523.86,523.86 0 0 1 1501.33,3213.35" fill="none" stroke="#c3c3c3" stroke-width="2.4"/>
<path d="M1327.06,3223.43 A349.59,349.59 0 0 1 1319.24,3292.86" fill="none" stroke="#c3c3c3" stroke-width="2.4"/>
<path d="M1385.15,3223.97 A407.68,407.68 0 0 1 1375.99,3305.26" fill="none" stroke="#c3c3c3" stroke-width="2.4"/>
<path d="M1443.24,3224.51 A465.77,465.77 0 0 1 1432.74,3317.66" fill="none" stroke="#c3c3c3" stroke-width="2.4"/>
<path d="M1501.33,3225.05 A523.86,523.86 0 0 1 1489.49,3330.06" fill="none" stroke="#c3c3c3" stroke-width="2.4"/>
<path d="M1317.36,3301.11 A349.59,349.59 0 0 1 1294.28,3367.06" fill="none" stroke="#c3c3c3" stroke-width="2.4"/>
<path d="M1373.87,3314.56 A407.68,407.68 0 0 1 1346.85,3391.78" fill="none" stroke="#c3c3c3" stroke-width="2.4"/>
<path d="M1430.38,3328.01 A465.77,465.77 0 0 1 1399.42,3416.49" fill="none" stroke="#c3c3c3" stroke-width="2.4"/>
<path d="M1486.89,3341.46 A523.86,523.86 0 0 1 1451.99,3441.21" fill="none" stroke="#c3c3c3" stroke-width="2.4"/>
<path d="M1290.61,3374.68 A349.59,349.59 0 0 1 1253.44,3433.84" fill="none" stroke="#c3c3c3" stroke-width="2.4"/>
<path d="M1342.71,3400.37 A407.68,407.68 0 0 1 1299.19,3469.64" fill="none" stroke="#c3c3c3" stroke-width="2.4"/>
<path d="M1394.81,3426.06 A465.77,465.77 0 0 1 1344.94,3505.43" fill="none" stroke="#c3c3c3" stroke-width="2.4"/>
<path d="M1446.92,3451.75 A523.86,523.86 0 0 1 1390.69,3541.23" fill="none" stroke="#c3c3c3" stroke-width="2.4"/>
<path d="M1248.16,3440.46 A349.59,349.59 0 0 1 1198.76,3489.86" fill="none" stroke="#c3c3c3" stroke-width="2.4"/>
<path d="M1293.24,3477.1 A407.68,407.68 0 0 1 1235.4,3534.94" fill="none" stroke="#c3c3c3" stroke-width="2.4"/>
<path d="M1338.32,3513.73 A465.77,465.77 0 0 1 1272.03,3580.02" fill="none" stroke="#c3c3c3" stroke-width="2.4"/>
<path d="M1383.4,3550.37 A523.86,523.86 0 0 1 1308.67,3625.1" fill="none" stroke="#c3c3c3" stroke-width="2.4"/>
<path d="M1192.14,3495.14 A349.59,349.59 0 0 1 1132.98,3532.31" fill="none" stroke="#c3c3c3" stroke-width="2.4"/>
<path d="M1227.94,3540.89 A407.68,407.68 0 0 1 1158.67,3584.41" fill="none" stroke="#c3c3c3" stroke-width="2.4"/>
<path d="M1263.73,3586.64 A465.77,465.77 0 0 1 1184.36,3636.51" fill="none" stroke="#c3c3c3" stroke-width="2.4"/>
<path d="M1299.53,3632.39 A523.86,523.86 0 0 1 1210.05,3688.62" fill="none" stroke="#c3c3c3" stroke-width="2.4"/>
<path d="M1125.36,3535.98 A349.59,349.59 0 0 1 1059.41,3559.06" fill="none" stroke="#c3c3c3" stroke-width="2.4"/>
<path d="M1150.08,3588.55 A407.68,407.68 0 0 1 1072.86,3615.57" fill="none" stroke="#c3c3c3" stroke-width="2.4"/>
<path d="M1174.79,3641.12 A465.77,465.77 0 0 1 1086.31,3672.08" fill="none" stroke="#c3c3c3" stroke-width="2.4"/>
<path d="M1199.51,3693.69 A523.86,523.86 0 0 1 1099.76,3728.59" fill="none" stroke="#c3c3c3" stroke-width="2.4"/>
<path d="M1051.16,3560.94 A349.59,349.59 0 0 1 981.73,3568.76" fill="none" stroke="#c3c3c3" stroke-width="2.4"/>
<path d="M1063.56,3617.69 A407.68,407.68 0 0 1 982.27,3626.85" fill="none" stroke="#c3c3c3" stroke-width="2.4"/>
<path d="M1075.96,3674.44 A465.77,465.77 0 0 1 982.81,3684.94" fill="none" stroke="#c3c3c3" stroke-width="2.4"/>
<path d="M1088.36,3731.19 A523.86,523.86 0 0 1 983.35,3743.03" fill="none" stroke="#c3c3c3" stroke-width="2.4"/>
<path d="M973.27,3568.76 A349.59,349.59 0 0 1 903.84,3560.94" fill="none" stroke="#c3c3c3" stroke-width="2.4"/>
<path d="M972.73,3626.85 A407.68,407.68 0 0 1 891.44,3617.69" fill="none" stroke="#c3c3c3" stroke-width="2.4"/>
<path d="M972.19,3684.94 A465.77,465.77 0 0 1 879.04,3674.44" fill="none" stroke="#c3c3c3" stroke-width="2.4"/>
<path d="M971.65,3743.03 A523.86,523.86 0 0 1 866.64,3731.19" fill="none" stroke="#c3c3c3" stroke-width="2.4"/>
<path d="M895.59,3559.06 A349.59,349.59 0 0 1 829.64,3535.98" fill="none" stroke="#c3c3c3" stroke-width="2.4"/>
<path d="M882.14,3615.57 A407.68,407.68 0 0 1 804.92,3588.55" fill="none" stroke="#c3c3c3" stroke-width="2.4"/>
<path d="M868.69,3672.08 A465.77,465.77 0 0 1 780.21,3641.12" fill="none" stroke="#c3c3c3" stroke-width="2.4"/>
<path d="M855.24,3728.59 A523.86,523.86 0 0 1 755.49,3693.69" fill="none" stroke="#c3c3c3" stroke-width="2.4"/>
<path d="M822.02,3532.31 A349.59,349.59 0 0 1 762.86,3495.14" fill="none" stroke="#c3c3c3" stroke-width="2.4"/>
<path d="M796.33,3584.41 A407.68,407.68 0 0 1 727.06,3540.89" fill="none" stroke="#c3c3c3" stroke-width="2.4"/>
<path d="M770.64,3636.51 A465.77,465.77 0 0 1 691.27,3586.64" fill="none" stroke="#c3c3c3" stroke-width="2.4"/>
<path d="M744.95,3688.62 A523.86,523.86 0 0 1 655.47,3632.39" fill="none" stroke="#c3c3c3" stroke-width="2.4"/>
<path d="M756.24,3489.86 A349.59,349.59 0 0 1 706.84,3440.46" fill="none" stroke="#c3c3c3" stroke-width="2.4"/>
<path d="M719.6,3534.94 A407.68,407.68 0 0 1 661.76,3477.1" fill="none" stroke="#c3c3c3" stroke-width="2.4"/>
<path d="M682.97,3580.02 A465.77,465.77 0 0 1 616.68,3513.73" fill="none" stroke="#c3c3c3" stroke-width="2.4"/>
<path d="M646.33,3625.1 A523.86,523.86 0 0 1 571.6,3550.37" fill="none" stroke="#c3c3c3" stroke-width="2.4"/>
<path d="M701.56,3433.84 A349.59,349.59 0 0 1 664.39,3374.68" fill="none" stroke="#c3c3c3" stroke-width="2.4"/>
<path d="M655.81,3469.64 A407.68,407.68 0 0 1 612.29,3400.37" fill="none" stroke="#c3c3c3" stroke-width="2.4"/>
<path d="M610.06,3505.43 A465.77,465.77 0 0 1 560.19,3426.06" fill="none" stroke="#c3c3c3" stroke-width="2.4"/>
<path d="M564.31,3541.23 A523.86,523.86 0 0 1 508.08,3451.75" fill="none" stroke="#c3c3c3" stroke-width="2.4"/>
<path d="M660.72,3367.06 A349.59,349.59 0 0 1 637.64,3301.11" fill="none" stroke="#c3c3c3" stroke-width="2.4"/>
<path d="M608.15,3391.78 A407.68,407.68 0 0 1 581.13,3314.56" fill="none" stroke="#c3c3c3" stroke-width="2.4"/>
<path d="M555.58,3416.49 A465.77,465.77 0 0 1 524.62,3328.01" fill="none" stroke="#c3c3c3" stroke-width="2.4"/>
<path d="M503.01,3441.21 A523.86,523.86 0 0 1 468.11,3341.46" fill="none" stroke="#c3c3c3" stroke-width="2.4"/>
<path d="M635.76,3292.86 A349.59,349.59 0 0 1 627.94,3223.43" fill="none" stroke="#c3c3c3" stroke-width="2.4"/>
<path d="M579.01,3305.26 A407.68,407.68 0 0 1 569.85,3223.97" fill="none" stroke="#c3c3c3" stroke-width="2.4"/>
<path d="M522.26,3317.66 A465.77,465.77 0 0 1 511.76,3224.51" fill="none" stroke="#c3c3c3" stroke-width="2.4"/>
<path d="M465.51,3330.06 A523.86,523.86 0 0 1 453.67,3225.05" fill="none" stroke="#c3c3c3" stroke-width="2.4"/>
<path d="M627.94,3214.97 A349.59,349.59 0 0 1 635.76,3145.54" fill="none" stroke="#c3c3c3" stroke-width="2.4"/>
<path d="M569.85,3214.43 A407.68,407.68 0 0 1 579.01,3133.14" fill="none" stroke="#c3c3c3" stroke-width="2.4"/>
<path d="M511.76,3213.89 A465.77,465.77 0 0 1 522.26,3120.74" fill="none" stroke="#c3c3c3" stroke-width="2.4"/>
<path d="M453.67,3213.35 A523.86,523.86 0 0 1 465.51,3108.34" fill="none" stroke="#c3c3c3" stroke-width="2.4"/>
<path d="M637.64,3137.29 A349.59,349.59 0 0 1 660.72,3071.34" fill="none" stroke="#c3c3c3" stroke-width="2.4"/>
<path d="M581.13,3123.84 A407.68,407.68 0 0 1 608.15,3046.62" fill="none" stroke="#c3c3c3" stroke-width="2.4"/>
<path d="M524.62,3110.39 A465.77,465.77 0 0 1 555.58,3021.91" fill="none" stroke="#c3c3c3" stroke-width="2.4"/>
<path d="M468.11,3096.94 A523.86,523.86 0 0 1 503.01,2997.19" fill="none" stroke="#c3c3c3" stroke-width="2.4"/>
<path d="M664.39,3063.72 A349.59,349.59 0 0 1 701.56,3004.56" fill="none" stroke="#c3c3c3" stroke-width="2.4"/>
<path d="M612.29,3038.03 A407.68,407.68 0 0 1 655.81,2968.76" fill="none" stroke="#c3c3c3" stroke-width="2.4"/>
<path d="M560.19,3012.34 A465.77,465.77 0 0 1 610.06,2932.97" fill="none" stroke="#c3c3c3" stroke-width="2.4"/>
<path d="M508.08,2986.65 A523.86,523.86 0 0 1 564.31,2897.17" fill="none" stroke="#c3c3c3" stroke-width="2.4"/>
<path d="M706.84,2997.94 A349.59,349.59 0 0 1 756.24,2948.54" fill="none" stroke="#c3c3c3" stroke-width="2.4"/>
<path d="M661.76,2961.3 A407.68,407.68 0 0 1 719.6,2903.46" fill="none" stroke="#c3c3c3" stroke-width="2.4"/>
<path d="M616.68,2924.67 A465.77,465.77 0 0 1 682.97,2858.38" fill="none" stroke="#c3c3c3" stroke-width="2.4"/>
<path d="M571.6,2888.03 A523.86,523.86 0 0 1 646.33,2813.3" fill="none" stroke="#c3c3c3" stroke-width="2.4"/>
<path d="M762.86,2943.26 A349.59,349.59 0 0 1 822.02,2906.09" fill="none" stroke="#c3c3c3" stroke-width="2.4"/>
<path d="M727.06,2897.51 A407.68,407.68 0 0 1 796.33,2853.99" fill="none" stroke="#c3c3c3" stroke-width="2.4"/>
<path d="M691.27,2851.76 A465.77,465.77 0 0 1 770.64,2801.89" fill="none" stroke="#c3c3c3" stroke-width="2.4"/>
<path d="M655.47,2806.01 A523.86,523.86 0 0 1 744.95,2749.78" fill="none" stroke="#c3c3c3" stroke-width="2.4"/>
<path d="M829.64,2902.42 A349.59,349.59 0 0 1 895.59,2879.34" fill="none" stroke="#c3c3c3" stroke-width="2.4"/>
<path d="M804.92,2849.85 A407.68,407.68 0 0 1 882.14,2822.83" fill="none" stroke="#c3c3c3" stroke-width="2.4"/>
<path d="M780.21,2797.28 A465.77,465.77 0 0 1 868.69,2766.32" fill="none" stroke="#c3c3c3" stroke-width="2.4"/>
<path d="M755.49,2744.71 A523.86,523.86 0 0 1 855.24,2709.81" fill="none" stroke="#c3c3c3" stroke-width="2.4"/>
<path d="M903.84,2877.46 A349.59,349.59 0 0 1 973.27,2869.64" fill="none" stroke="#c3c3c3" stroke-width="2.4"/>
<path d="M891.44,2820.71 A407.68,407.68 0 0 1 972.73,2811.55" fill="none" stroke="#c3c3c3" stroke-width="2.4"/>
<path d="M879.04,2763.96 A465.77,465.77 0 0 1 972.19,2753.46" fill="none" stroke="#c3c3c3" stroke-width="2.4"/>
<path d="M866.64,2707.21 A523.86,523.86 0 0 1 971.65,2695.37" fill="none" stroke="#c3c3c3" stroke-width="2.4"/>
<path d="M982.91,2742.9 A476.33,476.33 0 0 1 1078.22,2753.64 L1038.76,2934.21 A291.5,291.5 0 0 0 981.2,2927.72 Z" fill="#00aa6c"/>
<path d="M981.73,2869.64 A349.59,349.59 0 0 1 1051.16,2877.46" fill="none" stroke="#000" stroke-opacity="0.06" stroke-width="2.4"/>
<path d="M982.27,2811.55 A407.68,407.68 0 0 1 1063.56,2820.71" fill="none" stroke="#000" stroke-opacity="0.06" stroke-width="2.4"/>
<path d="M982.81,2753.46 A465.77,465.77 0 0 1 1075.96,2763.96" fill="none" stroke="#000" stroke-opacity="0.06" stroke-width="2.4"/>
<path d="M1076.62,2807.04 A423.91,423.91 0 0 1 1156.98,2835.16 L1100.64,2954.98 A291.5,291.5 0 0 0 1045.96,2935.85 Z" fill="#00aa6c"/>
<path d="M1059.41,2879.34 A349.59,349.59 0 0 1 1125.36,2902.42" fill="none" stroke="#000" stroke-opacity="0.06" stroke-width="2.4"/>
<path d="M1072.86,2822.83 A407.68,407.68 0 0 1 1150.08,2849.85" fill="none" stroke="#000" stroke-opacity="0.06" stroke-width="2.4"/>
<path d="M1150.77,2870.02 A389.81,389.81 0 0 1 1216.92,2911.59 L1156.34,2989.01 A291.5,291.5 0 0 0 1107.3,2958.19 Z" fill="#00aa6c"/>
<path d="M1132.98,2906.09 A349.59,349.59 0 0 1 1192.14,2943.26" fill="none" stroke="#000" stroke-opacity="0.06" stroke-width="2.4"/>
<path d="M1222.23,2919.66 A386.8,386.8 0 0 1 1277.04,2974.47 L1203.08,3034.58 A291.5,291.5 0 0 0 1162.12,2993.62 Z" fill="#00aa6c"/>
<path d="M1198.76,2948.54 A349.59,349.59 0 0 1 1248.16,2997.94" fill="none" stroke="#000" stroke-opacity="0.06" stroke-width="2.4"/>
<path d="M1278.79,2984.73 A381.77,381.77 0 0 1 1319.48,3049.48 L1238.51,3089.4 A291.5,291.5 0 0 0 1207.69,3040.36 Z" fill="#00aa6c"/>
<path d="M1253.44,3004.56 A349.59,349.59 0 0 1 1290.61,3063.72" fill="none" stroke="#000" stroke-opacity="0.06" stroke-width="2.4"/>
<path d="M1314.73,3061.73 A372.18,372.18 0 0 1 1339.33,3132.06 L1260.85,3150.74 A291.5,291.5 0 0 0 1241.72,3096.06 Z" fill="#00aa6c"/>
<path d="M1294.28,3071.34 A349.59,349.59 0 0 1 1317.36,3137.29" fill="none" stroke="#000" stroke-opacity="0.06" stroke-width="2.4"/>
<path d="M1338.75,3141.28 A369.56,369.56 0 0 1 1347.03,3214.78 L1268.98,3215.5 A291.5,291.5 0 0 0 1262.49,3157.94 Z" fill="#00aa6c"/>
<path d="M1319.24,3145.54 A349.59,349.59 0 0 1 1327.06,3214.97" fill="none" stroke="#000" stroke-opacity="0.06" stroke-width="2.4"/>
<path d="M1346.27,3223.61 A368.8,368.8 0 0 1 1338.01,3296.96 L1262.49,3280.46 A291.5,291.5 0 0 0 1268.98,3222.9 Z" fill="#00aa6c"/>
<path d="M1327.06,3223.43 A349.59,349.59 0 0 1 1319.24,3292.86" fill="none" stroke="#000" stroke-opacity="0.06" stroke-width="2.4"/>
<path d="M1332.51,3304.72 A365.16,365.16 0 0 1 1308.38,3373.68 L1241.72,3342.34 A291.5,291.5 0 0 0 1260.85,3287.66 Z" fill="#00aa6c"/>
<path d="M1317.36,3301.11 A349.59,349.59 0 0 1 1294.28,3367.06" fill="none" stroke="#000" stroke-opacity="0.06" stroke-width="2.4"/>
<path d="M1304.36,3381.46 A364.92,364.92 0 0 1 1265.51,3443.29 L1207.69,3398.04 A291.5,291.5 0 0 0 1238.51,3349 Z" fill="#00aa6c"/>
<path d="M1290.61,3374.68 A349.59,349.59 0 0 1 1253.44,3433.84" fill="none" stroke="#000" stroke-opacity="0.06" stroke-width="2.4"/>
<path d="M1255.99,3446.82 A359.68,359.68 0 0 1 1205.12,3497.69 L1162.12,3444.78 A291.5,291.5 0 0 0 1203.08,3403.82 Z" fill="#00aa6c"/>
<path d="M1248.16,3440.46 A349.59,349.59 0 0 1 1198.76,3489.86" fill="none" stroke="#000" stroke-opacity="0.06" stroke-width="2.4"/>
<path d="M1227.1,3539.83 A406.33,406.33 0 0 1 1158.07,3583.2 L1107.3,3480.21 A291.5,291.5 0 0 0 1156.34,3449.39 Z" fill="#fdb97d"/>
<path d="M1192.14,3495.14 A349.59,349.59 0 0 1 1132.98,3532.31" fill="none" stroke="#000" stroke-opacity="0.06" stroke-width="2.4"/>
<path d="M1134.23,3554.86 A370.45,370.45 0 0 1 1064.24,3579.35 L1045.96,3502.55 A291.5,291.5 0 0 0 1100.64,3483.42 Z" fill="#fdb97d"/>
<path d="M1125.36,3535.98 A349.59,349.59 0 0 1 1059.41,3559.06" fill="none" stroke="#000" stroke-opacity="0.06" stroke-width="2.4"/>
<path d="M1054.1,3574.43 A363.39,363.39 0 0 1 981.86,3582.57 L981.2,3510.68 A291.5,291.5 0 0 0 1038.76,3504.19 Z" fill="#fdb97d"/>
<path d="M1051.16,3560.94 A349.59,349.59 0 0 1 981.73,3568.76" fill="none" stroke="#000" stroke-opacity="0.06" stroke-width="2.4"/>
<path d="M973.2,3576.37 A357.19,357.19 0 0 1 902.22,3568.37 L916.24,3504.19 A291.5,291.5 0 0 0 973.8,3510.68 Z" fill="#fdb97d"/>
<path d="M973.27,3568.76 A349.59,349.59 0 0 1 903.84,3560.94" fill="none" stroke="#000" stroke-opacity="0.06" stroke-width="2.4"/>
<path d="M894.17,3565.02 A355.72,355.72 0 0 1 827.04,3541.53 L854.36,3483.42 A291.5,291.5 0 0 0 909.04,3502.55 Z" fill="#fdb97d"/>
<path d="M895.59,3559.06 A349.59,349.59 0 0 1 829.64,3535.98" fill="none" stroke="#000" stroke-opacity="0.06" stroke-width="2.4"/>
<path d="M820.85,3534.67 A352.22,352.22 0 0 1 761.24,3497.21 L798.66,3449.39 A291.5,291.5 0 0 0 847.7,3480.21 Z" fill="#fdb97d"/>
<path d="M822.02,3532.31 A349.59,349.59 0 0 1 762.86,3495.14" fill="none" stroke="#000" stroke-opacity="0.06" stroke-width="2.4"/>
<path d="M757.76,3487.99 A347.17,347.17 0 0 1 708.71,3438.94 L751.92,3403.82 A291.5,291.5 0 0 0 792.88,3444.78 Z" fill="#fdb97d"/>
<path d="M705.97,3430.39 A343.99,343.99 0 0 1 669.41,3372.21 L716.49,3349 A291.5,291.5 0 0 0 747.31,3398.04 Z" fill="#fdb97d"/>
<path d="M667.71,3363.77 A341.86,341.86 0 0 1 645.16,3299.32 L694.15,3287.66 A291.5,291.5 0 0 0 713.28,3342.34 Z" fill="#fdb97d"/>
<path d="M560.77,3309.25 A426.35,426.35 0 0 1 551.18,3224.14 L686.02,3222.9 A291.5,291.5 0 0 0 692.51,3280.46 Z" fill="#f8544d"/>
<path d="M635.76,3292.86 A349.59,349.59 0 0 1 627.94,3223.43" fill="none" stroke="#000" stroke-opacity="0.06" stroke-width="2.4"/>
<path d="M579.01,3305.26 A407.68,407.68 0 0 1 569.85,3223.97" fill="none" stroke="#000" stroke-opacity="0.06" stroke-width="2.4"/>
<path d="M558.23,3214.32 A419.3,419.3 0 0 1 567.66,3130.66 L692.51,3157.94 A291.5,291.5 0 0 0 686.02,3215.5 Z" fill="#f8544d"/>
<path d="M627.94,3214.97 A349.59,349.59 0 0 1 635.76,3145.54" fill="none" stroke="#000" stroke-opacity="0.06" stroke-width="2.4"/>
<path d="M569.85,3214.43 A407.68,407.68 0 0 1 579.01,3133.14" fill="none" stroke="#000" stroke-opacity="0.06" stroke-width="2.4"/>
<path d="M593.77,3126.85 A394.69,394.69 0 0 1 619.91,3052.15 L713.28,3096.06 A291.5,291.5 0 0 0 694.15,3150.74 Z" fill="#f8544d"/>
<path d="M637.64,3137.29 A349.59,349.59 0 0 1 660.72,3071.34" fill="none" stroke="#000" stroke-opacity="0.06" stroke-width="2.4"/>
<path d="M633.74,3048.61 A383.76,383.76 0 0 1 674.65,2983.5 L747.31,3040.36 A291.5,291.5 0 0 0 716.49,3089.4 Z" fill="#f8544d"/>
<path d="M664.39,3063.72 A349.59,349.59 0 0 1 701.56,3004.56" fill="none" stroke="#000" stroke-opacity="0.06" stroke-width="2.4"/>
<path d="M683.78,2979.2 A379.31,379.31 0 0 1 737.5,2925.48 L792.88,2993.62 A291.5,291.5 0 0 0 751.92,3034.58 Z" fill="#f8544d"/>
<path d="M706.84,2997.94 A349.59,349.59 0 0 1 756.24,2948.54" fill="none" stroke="#000" stroke-opacity="0.06" stroke-width="2.4"/>
<path d="M759.78,2939.33 A354.58,354.58 0 0 1 819.81,2901.61 L847.7,2958.19 A291.5,291.5 0 0 0 798.66,2989.01 Z" fill="#f8544d"/>
<path d="M762.86,2943.26 A349.59,349.59 0 0 1 822.02,2906.09" fill="none" stroke="#000" stroke-opacity="0.06" stroke-width="2.4"/>
<path d="M831.58,2906.54 A345.03,345.03 0 0 1 896.64,2883.78 L909.04,2935.85 A291.5,291.5 0 0 0 854.36,2954.98 Z" fill="#f8544d"/>
<path d="M905.33,2884.27 A342.61,342.61 0 0 1 973.33,2876.61 L973.8,2927.72 A291.5,291.5 0 0 0 916.24,2934.21 Z" fill="#f8544d"/>
</g>
<path d="M984.69,2549.54 A669.7,669.7 0 0 1 1119.5,2564.73 L1113.5,2592.18 A641.6,641.6 0 0 0 984.43,2577.64 Z" fill="#dff5e3"/>
<path d="M1133.53,2567.93 A669.7,669.7 0 0 1 1261.57,2612.73 L1249.62,2638.16 A641.6,641.6 0 0 0 1127.02,2595.27 Z" fill="#3ebe7a"/>
<path d="M1274.54,2618.98 A669.7,669.7 0 0 1 1389.4,2691.15 L1372.09,2713.28 A641.6,641.6 0 0 0 1262.11,2644.18 Z" fill="#9adbb0"/>
<path d="M1400.65,2700.12 A669.7,669.7 0 0 1 1496.58,2796.05 L1474.77,2813.77 A641.6,641.6 0 0 0 1382.93,2721.93 Z" fill="#a8e0ba"/>
<path d="M1505.55,2807.3 A669.7,669.7 0 0 1 1577.72,2922.16 L1552.52,2934.59 A641.6,641.6 0 0 0 1483.42,2824.61 Z" fill="#90d8a9"/>
<path d="M1583.97,2935.13 A669.7,669.7 0 0 1 1628.77,3063.17 L1601.43,3069.68 A641.6,641.6 0 0 0 1558.54,2947.08 Z" fill="#7fd09e"/>
<path d="M1631.97,3077.2 A669.7,669.7 0 0 1 1647.16,3212.01 L1619.06,3212.27 A641.6,641.6 0 0 0 1604.52,3083.2 Z" fill="#03b35c"/>
<path d="M1647.16,3226.39 A669.7,669.7 0 0 1 1631.97,3361.2 L1604.52,3355.2 A641.6,641.6 0 0 0 1619.06,3226.13 Z" fill="#03bd6c"/>
<path d="M1628.77,3375.23 A669.7,669.7 0 0 1 1583.97,3503.27 L1558.54,3491.32 A641.6,641.6 0 0 0 1601.43,3368.72 Z" fill="#03bb69"/>
<path d="M1577.72,3516.24 A669.7,669.7 0 0 1 1505.55,3631.1 L1483.42,3613.79 A641.6,641.6 0 0 0 1552.52,3503.81 Z" fill="#0a7a35"/>
<path d="M1496.58,3642.35 A669.7,669.7 0 0 1 1400.65,3738.28 L1382.93,3716.47 A641.6,641.6 0 0 0 1474.77,3624.63 Z" fill="#08a04c"/>
<path d="M1389.4,3747.25 A669.7,669.7 0 0 1 1274.54,3819.42 L1262.11,3794.22 A641.6,641.6 0 0 0 1372.09,3725.12 Z" fill="#b6e6c4"/>
<path d="M1261.57,3825.67 A669.7,669.7 0 0 1 1133.53,3870.47 L1127.02,3843.13 A641.6,641.6 0 0 0 1249.62,3800.24 Z" fill="#078c42"/>
<path d="M1119.5,3873.67 A669.7,669.7 0 0 1 984.69,3888.86 L984.43,3860.76 A641.6,641.6 0 0 0 1113.5,3846.22 Z" fill="#08a24e"/>
<path d="M970.31,3888.86 A669.7,669.7 0 0 1 835.5,3873.67 L841.5,3846.22 A641.6,641.6 0 0 0 970.57,3860.76 Z" fill="#00441b"/>
<path d="M821.47,3870.47 A669.7,669.7 0 0 1 693.43,3825.67 L705.38,3800.24 A641.6,641.6 0 0 0 827.98,3843.13 Z" fill="#07a955"/>
<path d="M680.46,3819.42 A669.7,669.7 0 0 1 565.6,3747.25 L582.91,3725.12 A641.6,641.6 0 0 0 692.89,3794.22 Z" fill="#0c7a3b"/>
<path d="M554.35,3738.28 A669.7,669.7 0 0 1 458.42,3642.35 L480.23,3624.63 A641.6,641.6 0 0 0 572.07,3716.47 Z" fill="#005c25"/>
<path d="M449.45,3631.1 A669.7,669.7 0 0 1 377.28,3516.24 L402.48,3503.81 A641.6,641.6 0 0 0 471.58,3613.79 Z" fill="#036b2d"/>
<path d="M371.03,3503.27 A669.7,669.7 0 0 1 326.23,3375.23 L353.57,3368.72 A641.6,641.6 0 0 0 396.46,3491.32 Z" fill="#004d1f"/>
<path d="M323.03,3361.2 A669.7,669.7 0 0 1 307.84,3226.39 L335.94,3226.13 A641.6,641.6 0 0 0 350.48,3355.2 Z" fill="#c3ead0"/>
<path d="M307.84,3212.01 A669.7,669.7 0 0 1 323.03,3077.2 L350.48,3083.2 A641.6,641.6 0 0 0 335.94,3212.27 Z" fill="#d3f0db"/>
<path d="M326.23,3063.17 A669.7,669.7 0 0 1 371.03,2935.13 L396.46,2947.08 A641.6,641.6 0 0 0 353.57,3069.68 Z" fill="#60c990"/>
<path d="M377.28,2922.16 A669.7,669.7 0 0 1 449.45,2807.3 L471.58,2824.61 A641.6,641.6 0 0 0 402.48,2934.59 Z" fill="#60c990"/>
<path d="M458.42,2796.05 A669.7,669.7 0 0 1 554.35,2700.12 L572.07,2721.93 A641.6,641.6 0 0 0 480.23,2813.77 Z" fill="#72ce98"/>
<path d="M565.6,2691.15 A669.7,669.7 0 0 1 680.46,2618.98 L692.89,2644.18 A641.6,641.6 0 0 0 582.91,2713.28 Z" fill="#06a04a"/>
<path d="M693.43,2612.73 A669.7,669.7 0 0 1 821.47,2567.93 L827.98,2595.27 A641.6,641.6 0 0 0 705.38,2638.16 Z" fill="#005525"/>
<path d="M835.5,2564.73 A669.7,669.7 0 0 1 970.31,2549.54 L970.57,2577.64 A641.6,641.6 0 0 0 841.5,2592.18 Z" fill="#004a1e"/>
<path d="M985.78,2432.24 A787,787 0 0 1 1027.02,2433.76 L1024.99,2465.19 A755.5,755.5 0 0 0 985.49,2463.74 Z" fill="#6fd3a0"/>
<path d="M1160.69,2453.82 A787,787 0 0 1 1230.58,2474 L1220.42,2503.82 A755.5,755.5 0 0 0 1153.39,2484.46 Z" fill="#fd944a"/>
<path d="M1326.41,2513.77 A787,787 0 0 1 1389.4,2548.6 L1372.88,2575.42 A755.5,755.5 0 0 0 1312.48,2542.02 Z" fill="#fedd85"/>
<path d="M1474.63,2609.1 A787,787 0 0 1 1528.1,2656.88 L1506.03,2679.36 A755.5,755.5 0 0 0 1454.77,2633.54 Z" fill="#6fd3a0"/>
<path d="M1597.93,2735.01 A787,787 0 0 1 1640.78,2795.61 L1614.21,2812.53 A755.5,755.5 0 0 0 1573.12,2754.43 Z" fill="#6fd3a0"/>
<path d="M1690.12,2885.21 A787,787 0 0 1 1719.54,2957.01 L1689.83,2967.47 A755.5,755.5 0 0 0 1661.61,2898.62 Z" fill="#6fd3a0"/>
<path d="M1746.57,3052.16 A787,787 0 0 1 1760.36,3138.6 L1729.02,3141.79 A755.5,755.5 0 0 0 1715.79,3058.88 Z" fill="#fedd85"/>
<path d="M1764.46,3227.48 A787,787 0 0 1 1759.19,3310.45 L1727.91,3306.76 A755.5,755.5 0 0 0 1732.96,3227.19 Z" fill="#6fd3a0"/>
<path d="M1742.88,3402.39 A787,787 0 0 1 1718.67,3483.85 L1689.02,3473.22 A755.5,755.5 0 0 0 1712.24,3395.09 Z" fill="#6fd3a0"/>
<path d="M1682.93,3568.11 A787,787 0 0 1 1632.14,3656.03 L1605.96,3638.51 A755.5,755.5 0 0 0 1654.68,3554.18 Z" fill="#fd944a"/>
<path d="M1587.6,3716.33 A787,787 0 0 1 1525.08,3784.47 L1503.19,3761.82 A755.5,755.5 0 0 0 1563.16,3696.47 Z" fill="#fedd85"/>
<path d="M1461.69,3839.63 A787,787 0 0 1 1408.97,3877.38 L1391.74,3851.01 A755.5,755.5 0 0 0 1442.27,3814.82 Z" fill="#fedd85"/>
<path d="M1311.49,3931.82 A787,787 0 0 1 1220.07,3967.89 L1210.4,3937.91 A755.5,755.5 0 0 0 1298.08,3903.31 Z" fill="#fd944a"/>
<path d="M1144.54,3988.27 A787,787 0 0 1 1054.08,4002.46 L1051.06,3971.11 A755.5,755.5 0 0 0 1137.82,3957.49 Z" fill="#fedd85"/>
<path d="M969.22,4006.16 A787,787 0 0 1 841.03,3994.28 L846.53,3963.26 A755.5,755.5 0 0 0 969.51,3974.66 Z" fill="#b3003e"/>
<path d="M794.31,3984.58 A787,787 0 0 1 706.9,3958.22 L717.77,3928.65 A755.5,755.5 0 0 0 801.61,3953.94 Z" fill="#6fd3a0"/>
<path d="M628.59,3924.63 A787,787 0 0 1 539.26,3872.89 L556.84,3846.75 A755.5,755.5 0 0 0 642.52,3896.38 Z" fill="#fedd85"/>
<path d="M480.37,3829.3 A787,787 0 0 1 398.56,3752.31 L421.76,3731 A755.5,755.5 0 0 0 500.23,3804.86 Z" fill="#fedd85"/>
<path d="M357.07,3703.39 A787,787 0 0 1 295.72,3612.32 L323.03,3596.62 A755.5,755.5 0 0 0 381.88,3683.97 Z" fill="#6fd3a0"/>
<path d="M264.88,3553.19 A787,787 0 0 1 221.88,3439.22 L252.14,3430.46 A755.5,755.5 0 0 0 293.39,3539.78 Z" fill="#fedd85"/>
<path d="M208.43,3386.24 A787,787 0 0 1 198.3,3329.72 L229.49,3325.34 A755.5,755.5 0 0 0 239.21,3379.52 Z" fill="#6fd3a0"/>
<path d="M190.54,3210.92 A787,787 0 0 1 193.08,3155.52 L224.47,3158.11 A755.5,755.5 0 0 0 222.04,3211.21 Z" fill="#6fd3a0"/>
<path d="M212.12,3036.01 A787,787 0 0 1 232.93,2964.29 L262.71,2974.53 A755.5,755.5 0 0 0 242.76,3043.31 Z" fill="#fedd85"/>
<path d="M272.07,2870.29 A787,787 0 0 1 309.34,2803.36 L336.06,2820.03 A755.5,755.5 0 0 0 300.32,2884.22 Z" fill="#fedd85"/>
<path d="M367.4,2722.07 A787,787 0 0 1 418.76,2664.96 L441.1,2687.17 A755.5,755.5 0 0 0 391.84,2741.93 Z" fill="#6fd3a0"/>
<path d="M493.31,2598.77 A787,787 0 0 1 569.98,2545.93 L586.26,2572.89 A755.5,755.5 0 0 0 512.73,2623.58 Z" fill="#6fd3a0"/>
<path d="M643.51,2506.58 A787,787 0 0 1 751.3,2465.41 L760.32,2495.59 A755.5,755.5 0 0 0 656.92,2535.09 Z" fill="#fedd85"/>
<path d="M810.46,2450.13 A787,787 0 0 1 931.63,2433.54 L933.43,2464.99 A755.5,755.5 0 0 0 817.18,2480.91 Z" fill="#fedd85"/>
<path d="M986.59,2344.75 A874.5,874.5 0 0 1 1163.22,2364.65 L1150.84,2421.31 A816.5,816.5 0 0 0 986.05,2402.74 Z" fill="#00aa6c"/>
<path d="M1180.95,2368.69 A874.5,874.5 0 0 1 1348.72,2427.4 L1324.04,2479.89 A816.5,816.5 0 0 0 1167.52,2425.12 Z" fill="#00aa6c"/>
<path d="M1365.1,2435.29 A874.5,874.5 0 0 1 1515.61,2529.86 L1479.86,2575.54 A816.5,816.5 0 0 0 1339.45,2487.31 Z" fill="#00aa6c"/>
<path d="M1529.82,2541.19 A874.5,874.5 0 0 1 1655.51,2666.88 L1610.5,2703.46 A816.5,816.5 0 0 0 1493.24,2586.2 Z" fill="#00aa6c"/>
<path d="M1666.84,2681.09 A874.5,874.5 0 0 1 1761.41,2831.6 L1709.39,2857.25 A816.5,816.5 0 0 0 1621.16,2716.84 Z" fill="#00aa6c"/>
<path d="M1769.3,2847.98 A874.5,874.5 0 0 1 1828.01,3015.75 L1771.58,3029.18 A816.5,816.5 0 0 0 1716.81,2872.66 Z" fill="#00aa6c"/>
<path d="M1832.05,3033.48 A874.5,874.5 0 0 1 1851.95,3210.11 L1793.96,3210.65 A816.5,816.5 0 0 0 1775.39,3045.86 Z" fill="#00aa6c"/>
<path d="M1851.95,3228.29 A874.5,874.5 0 0 1 1832.05,3404.92 L1775.39,3392.54 A816.5,816.5 0 0 0 1793.96,3227.75 Z" fill="#00aa6c"/>
<path d="M1828.01,3422.65 A874.5,874.5 0 0 1 1769.3,3590.42 L1716.81,3565.74 A816.5,816.5 0 0 0 1771.58,3409.22 Z" fill="#00aa6c"/>
<path d="M1761.41,3606.8 A874.5,874.5 0 0 1 1666.84,3757.31 L1621.16,3721.56 A816.5,816.5 0 0 0 1709.39,3581.15 Z" fill="#00aa6c"/>
<path d="M1655.51,3771.52 A874.5,874.5 0 0 1 1529.82,3897.21 L1493.24,3852.2 A816.5,816.5 0 0 0 1610.5,3734.94 Z" fill="#00aa6c"/>
<path d="M1515.61,3908.54 A874.5,874.5 0 0 1 1365.1,4003.11 L1339.45,3951.09 A816.5,816.5 0 0 0 1479.86,3862.86 Z" fill="#fdb97d"/>
<path d="M1348.72,4011 A874.5,874.5 0 0 1 1180.95,4069.71 L1167.52,4013.28 A816.5,816.5 0 0 0 1324.04,3958.51 Z" fill="#fdb97d"/>
<path d="M1163.22,4073.75 A874.5,874.5 0 0 1 986.59,4093.65 L986.05,4035.66 A816.5,816.5 0 0 0 1150.84,4017.09 Z" fill="#fdb97d"/>
<path d="M968.41,4093.65 A874.5,874.5 0 0 1 791.78,4073.75 L804.16,4017.09 A816.5,816.5 0 0 0 968.95,4035.66 Z" fill="#fdb97d"/>
<path d="M774.05,4069.71 A874.5,874.5 0 0 1 606.28,4011 L630.96,3958.51 A816.5,816.5 0 0 0 787.48,4013.28 Z" fill="#fdb97d"/>
<path d="M589.9,4003.11 A874.5,874.5 0 0 1 439.39,3908.54 L475.14,3862.86 A816.5,816.5 0 0 0 615.55,3951.09 Z" fill="#fdb97d"/>
<path d="M425.18,3897.21 A874.5,874.5 0 0 1 299.49,3771.52 L344.5,3734.94 A816.5,816.5 0 0 0 461.76,3852.2 Z" fill="#fdb97d"/>
<path d="M288.16,3757.31 A874.5,874.5 0 0 1 193.59,3606.8 L245.61,3581.15 A816.5,816.5 0 0 0 333.84,3721.56 Z" fill="#fdb97d"/>
<path d="M185.7,3590.42 A874.5,874.5 0 0 1 126.99,3422.65 L183.42,3409.22 A816.5,816.5 0 0 0 238.19,3565.74 Z" fill="#fdb97d"/>
<path d="M122.95,3404.92 A874.5,874.5 0 0 1 103.05,3228.29 L161.04,3227.75 A816.5,816.5 0 0 0 179.61,3392.54 Z" fill="#f8544d"/>
<path d="M103.05,3210.11 A874.5,874.5 0 0 1 122.95,3033.48 L179.61,3045.86 A816.5,816.5 0 0 0 161.04,3210.65 Z" fill="#f8544d"/>
<path d="M126.99,3015.75 A874.5,874.5 0 0 1 185.7,2847.98 L238.19,2872.66 A816.5,816.5 0 0 0 183.42,3029.18 Z" fill="#f8544d"/>
<path d="M193.59,2831.6 A874.5,874.5 0 0 1 288.16,2681.09 L333.84,2716.84 A816.5,816.5 0 0 0 245.61,2857.25 Z" fill="#f8544d"/>
<path d="M299.49,2666.88 A874.5,874.5 0 0 1 425.18,2541.19 L461.76,2586.2 A816.5,816.5 0 0 0 344.5,2703.46 Z" fill="#f8544d"/>
<path d="M439.39,2529.86 A874.5,874.5 0 0 1 589.9,2435.29 L615.55,2487.31 A816.5,816.5 0 0 0 475.14,2575.54 Z" fill="#f8544d"/>
<path d="M606.28,2427.4 A874.5,874.5 0 0 1 774.05,2368.69 L787.48,2425.12 A816.5,816.5 0 0 0 630.96,2479.89 Z" fill="#f8544d"/>
<path d="M791.78,2364.65 A874.5,874.5 0 0 1 968.41,2344.75 L968.95,2402.74 A816.5,816.5 0 0 0 804.16,2421.31 Z" fill="#f8544d"/>
<path d="M988.64,2344.77L988.82,2330.77M1038.35,2346.82L1039.32,2332.85M1087.86,2351.69L1089.63,2337.8M1137.02,2359.37L1139.57,2345.61M1182.94,2369.17L1186.23,2355.57M1230.95,2382.23L1235,2368.83M1278.13,2398L1282.95,2384.85M1324.35,2416.42L1329.9,2403.57M1366.94,2436.2L1373.17,2423.67M1410.84,2459.61L1417.77,2447.45M1453.33,2485.49L1460.95,2473.74M1494.28,2513.73L1502.56,2502.44M1531.41,2542.49L1540.28,2531.66M1568.99,2575.08L1578.46,2564.77M1604.67,2609.76L1614.71,2600.01M1638.31,2646.41L1648.89,2637.25M1668.1,2682.71L1679.16,2674.12M1697.49,2722.85L1709.02,2714.91M1724.55,2764.6L1736.51,2757.32M1749.2,2807.82L1761.55,2801.23M1770.17,2849.84L1782.86,2843.92M1789.89,2895.51L1802.89,2890.33M1806.98,2942.23L1820.26,2937.8M1821.39,2989.85L1834.9,2986.18M1832.48,3035.48L1846.17,3032.54M1841.55,3084.4L1855.38,3082.24M1847.82,3133.76L1861.75,3132.39M1851.27,3183.39L1865.25,3182.81M1851.93,3230.34L1865.93,3230.52M1849.88,3280.05L1863.85,3281.02M1845.01,3329.56L1858.9,3331.33M1837.33,3378.72L1851.09,3381.27M1827.53,3424.64L1841.13,3427.93M1814.47,3472.65L1827.87,3476.7M1798.7,3519.83L1811.85,3524.65M1780.28,3566.05L1793.13,3571.6M1760.5,3608.64L1773.03,3614.87M1737.09,3652.54L1749.25,3659.47M1711.21,3695.03L1722.96,3702.65M1682.97,3735.98L1694.26,3744.26M1654.21,3773.11L1665.04,3781.98M1621.62,3810.69L1631.93,3820.16M1586.94,3846.37L1596.69,3856.41M1550.29,3880.01L1559.45,3890.59M1513.99,3909.8L1522.58,3920.86M1473.85,3939.19L1481.79,3950.72M1432.1,3966.25L1439.38,3978.21M1388.88,3990.9L1395.47,4003.25M1346.86,4011.87L1352.78,4024.56M1301.19,4031.59L1306.37,4044.59M1254.47,4048.68L1258.9,4061.96M1206.85,4063.09L1210.52,4076.6M1161.22,4074.18L1164.16,4087.87M1112.3,4083.25L1114.46,4097.08M1062.94,4089.52L1064.31,4103.45M1013.31,4092.97L1013.89,4106.95M966.36,4093.63L966.18,4107.63M916.65,4091.58L915.68,4105.55M867.14,4086.71L865.37,4100.6M817.98,4079.03L815.43,4092.79M772.06,4069.23L768.77,4082.83M724.05,4056.17L720,4069.57M676.87,4040.4L672.05,4053.55M630.65,4021.98L625.1,4034.83M588.06,4002.2L581.83,4014.73M544.16,3978.79L537.23,3990.95M501.67,3952.91L494.05,3964.66M460.72,3924.67L452.44,3935.96M423.59,3895.91L414.72,3906.74M386.01,3863.32L376.54,3873.63M350.33,3828.64L340.29,3838.39M316.69,3791.99L306.11,3801.15M286.9,3755.69L275.84,3764.28M257.51,3715.55L245.98,3723.49M230.45,3673.8L218.49,3681.08M205.8,3630.58L193.45,3637.17M184.83,3588.56L172.14,3594.48M165.11,3542.89L152.11,3548.07M148.02,3496.17L134.74,3500.6M133.61,3448.55L120.1,3452.22M122.52,3402.92L108.83,3405.86M113.45,3354L99.62,3356.16M107.18,3304.64L93.25,3306.01M103.73,3255.01L89.75,3255.59M103.07,3208.06L89.07,3207.88M105.12,3158.35L91.15,3157.38M109.99,3108.84L96.1,3107.07M117.67,3059.68L103.91,3057.13M127.47,3013.76L113.87,3010.47M140.53,2965.75L127.13,2961.7M156.3,2918.57L143.15,2913.75M174.72,2872.35L161.87,2866.8M194.5,2829.76L181.97,2823.53M217.91,2785.86L205.75,2778.93M243.79,2743.37L232.04,2735.75M272.03,2702.42L260.74,2694.14M300.79,2665.29L289.96,2656.42M333.38,2627.71L323.07,2618.24M368.06,2592.03L358.31,2581.99M404.71,2558.39L395.55,2547.81M441.01,2528.6L432.42,2517.54M481.15,2499.21L473.21,2487.68M522.9,2472.15L515.62,2460.19M566.12,2447.5L559.53,2435.15M608.14,2426.53L602.22,2413.84M653.81,2406.81L648.63,2393.81M700.53,2389.72L696.1,2376.44M748.15,2375.31L744.48,2361.8M793.78,2364.22L790.84,2350.53M842.7,2355.15L840.54,2341.32M892.06,2348.88L890.69,2334.95M941.69,2345.43L941.11,2331.45" stroke="#333" stroke-width="2" fill="none"/>
<g font-size="25.5" fill="#222">
<text transform="translate(988.89,2325.27) rotate(-89.27)" text-anchor="start" dy="0.35em">1</text>
<text transform="translate(1039.71,2327.37) rotate(-86.01)" text-anchor="start" dy="0.35em">10</text>
<text transform="translate(1090.32,2332.35) rotate(-82.75)" text-anchor="start" dy="0.35em">100</text>
<text transform="translate(1140.57,2340.2) rotate(-79.49)" text-anchor="start" dy="0.35em">1000</text>
<text transform="translate(1187.52,2350.22) rotate(-76.41)" text-anchor="start" dy="0.35em">1</text>
<text transform="translate(1236.6,2363.57) rotate(-73.15)" text-anchor="start" dy="0.35em">10</text>
<text transform="translate(1284.84,2379.69) rotate(-69.89)" text-anchor="start" dy="0.35em">100</text>
<text transform="translate(1332.08,2398.52) rotate(-66.63)" text-anchor="start" dy="0.35em">1000</text>
<text transform="translate(1375.62,2418.74) rotate(-63.56)" text-anchor="start" dy="0.35em">1</text>
<text transform="translate(1420.5,2442.68) rotate(-60.3)" text-anchor="start" dy="0.35em">10</text>
<text transform="translate(1463.94,2469.13) rotate(-57.04)" text-anchor="start" dy="0.35em">100</text>
<text transform="translate(1505.81,2498) rotate(-53.78)" text-anchor="start" dy="0.35em">1000</text>
<text transform="translate(1543.76,2527.4) rotate(-50.7)" text-anchor="start" dy="0.35em">1</text>
<text transform="translate(1582.18,2560.72) rotate(-47.44)" text-anchor="start" dy="0.35em">10</text>
<text transform="translate(1618.65,2596.17) rotate(-44.18)" text-anchor="start" dy="0.35em">100</text>
<text transform="translate(1653.04,2633.64) rotate(-40.92)" text-anchor="start" dy="0.35em">1000</text>
<text transform="translate(1683.5,2670.75) rotate(-37.84)" text-anchor="start" dy="0.35em">1</text>
<text transform="translate(1713.55,2711.79) rotate(-34.58)" text-anchor="start" dy="0.35em">10</text>
<text transform="translate(1741.21,2754.46) rotate(-31.32)" text-anchor="start" dy="0.35em">100</text>
<text transform="translate(1766.4,2798.65) rotate(-28.06)" text-anchor="start" dy="0.35em">1000</text>
<text transform="translate(1787.84,2841.6) rotate(-24.98)" text-anchor="start" dy="0.35em">1</text>
<text transform="translate(1808,2888.29) rotate(-21.72)" text-anchor="start" dy="0.35em">10</text>
<text transform="translate(1825.48,2936.06) rotate(-18.46)" text-anchor="start" dy="0.35em">100</text>
<text transform="translate(1840.21,2984.74) rotate(-15.2)" text-anchor="start" dy="0.35em">1000</text>
<text transform="translate(1851.55,3031.39) rotate(-12.13)" text-anchor="start" dy="0.35em">1</text>
<text transform="translate(1860.82,3081.4) rotate(-8.87)" text-anchor="start" dy="0.35em">10</text>
<text transform="translate(1867.22,3131.85) rotate(-5.61)" text-anchor="start" dy="0.35em">100</text>
<text transform="translate(1870.75,3182.59) rotate(-2.35)" text-anchor="start" dy="0.35em">1000</text>
<text transform="translate(1871.43,3230.59) rotate(0.73)" text-anchor="start" dy="0.35em">1</text>
<text transform="translate(1869.33,3281.41) rotate(3.99)" text-anchor="start" dy="0.35em">10</text>
<text transform="translate(1864.35,3332.02) rotate(7.25)" text-anchor="start" dy="0.35em">100</text>
<text transform="translate(1856.5,3382.27) rotate(10.51)" text-anchor="start" dy="0.35em">1000</text>
<text transform="translate(1846.48,3429.22) rotate(13.59)" text-anchor="start" dy="0.35em">1</text>
<text transform="translate(1833.13,3478.3) rotate(16.85)" text-anchor="start" dy="0.35em">10</text>
<text transform="translate(1817.01,3526.54) rotate(20.11)" text-anchor="start" dy="0.35em">100</text>
<text transform="translate(1798.18,3573.78) rotate(23.37)" text-anchor="start" dy="0.35em">1000</text>
<text transform="translate(1777.96,3617.32) rotate(26.44)" text-anchor="start" dy="0.35em">1</text>
<text transform="translate(1754.02,3662.2) rotate(29.7)" text-anchor="start" dy="0.35em">10</text>
<text transform="translate(1727.57,3705.64) rotate(32.96)" text-anchor="start" dy="0.35em">100</text>
<text transform="translate(1698.7,3747.51) rotate(36.22)" text-anchor="start" dy="0.35em">1000</text>
<text transform="translate(1669.3,3785.46) rotate(39.3)" text-anchor="start" dy="0.35em">1</text>
<text transform="translate(1635.98,3823.88) rotate(42.56)" text-anchor="start" dy="0.35em">10</text>
<text transform="translate(1600.53,3860.35) rotate(45.82)" text-anchor="start" dy="0.35em">100</text>
<text transform="translate(1563.06,3894.74) rotate(49.08)" text-anchor="start" dy="0.35em">1000</text>
<text transform="translate(1525.95,3925.2) rotate(52.16)" text-anchor="start" dy="0.35em">1</text>
<text transform="translate(1484.91,3955.25) rotate(55.42)" text-anchor="start" dy="0.35em">10</text>
<text transform="translate(1442.24,3982.91) rotate(58.68)" text-anchor="start" dy="0.35em">100</text>
<text transform="translate(1398.05,4008.1) rotate(61.94)" text-anchor="start" dy="0.35em">1000</text>
<text transform="translate(1355.1,4029.54) rotate(65.02)" text-anchor="start" dy="0.35em">1</text>
<text transform="translate(1308.41,4049.7) rotate(68.28)" text-anchor="start" dy="0.35em">10</text>
<text transform="translate(1260.64,4067.18) rotate(71.54)" text-anchor="start" dy="0.35em">100</text>
<text transform="translate(1211.96,4081.91) rotate(74.8)" text-anchor="start" dy="0.35em">1000</text>
<text transform="translate(1165.31,4093.25) rotate(77.87)" text-anchor="start" dy="0.35em">1</text>
<text transform="translate(1115.3,4102.52) rotate(81.13)" text-anchor="start" dy="0.35em">10</text>
<text transform="translate(1064.85,4108.92) rotate(84.39)" text-anchor="start" dy="0.35em">100</text>
<text transform="translate(1014.11,4112.45) rotate(87.65)" text-anchor="start" dy="0.35em">1000</text>
<text transform="translate(966.11,4113.13) rotate(270.73)" text-anchor="end" dy="0.35em">1</text>
<text transform="translate(915.29,4111.03) rotate(273.99)" text-anchor="end" dy="0.35em">10</text>
<text transform="translate(864.68,4106.05) rotate(277.25)" text-anchor="end" dy="0.35em">100</text>
<text transform="translate(814.43,4098.2) rotate(280.51)" text-anchor="end" dy="0.35em">1000</text>
<text transform="translate(767.48,4088.18) rotate(283.59)" text-anchor="end" dy="0.35em">1</text>
<text transform="translate(718.4,4074.83) rotate(286.85)" text-anchor="end" dy="0.35em">10</text>
<text transform="translate(670.16,4058.71) rotate(290.11)" text-anchor="end" dy="0.35em">100</text>
<text transform="translate(622.92,4039.88) rotate(293.37)" text-anchor="end" dy="0.35em">1000</text>
<text transform="translate(579.38,4019.66) rotate(296.44)" text-anchor="end" dy="0.35em">1</text>
<text transform="translate(534.5,3995.72) rotate(299.7)" text-anchor="end" dy="0.35em">10</text>
<text transform="translate(491.06,3969.27) rotate(302.96)" text-anchor="end" dy="0.35em">100</text>
<text transform="translate(449.19,3940.4) rotate(306.22)" text-anchor="end" dy="0.35em">1000</text>
<text transform="translate(411.24,3911) rotate(309.3)" text-anchor="end" dy="0.35em">1</text>
<text transform="translate(372.82,3877.68) rotate(312.56)" text-anchor="end" dy="0.35em">10</text>
<text transform="translate(336.35,3842.23) rotate(315.82)" text-anchor="end" dy="0.35em">100</text>
<text transform="translate(301.96,3804.76) rotate(319.08)" text-anchor="end" dy="0.35em">1000</text>
<text transform="translate(271.5,3767.65) rotate(322.16)" text-anchor="end" dy="0.35em">1</text>
<text transform="translate(241.45,3726.61) rotate(325.42)" text-anchor="end" dy="0.35em">10</text>
<text transform="translate(213.79,3683.94) rotate(328.68)" text-anchor="end" dy="0.35em">100</text>
<text transform="translate(188.6,3639.75) rotate(331.94)" text-anchor="end" dy="0.35em">1000</text>
<text transform="translate(167.16,3596.8) rotate(335.02)" text-anchor="end" dy="0.35em">1</text>
<text transform="translate(147,3550.11) rotate(338.28)" text-anchor="end" dy="0.35em">10</text>
<text transform="translate(129.52,3502.34) rotate(341.54)" text-anchor="end" dy="0.35em">100</text>
<text transform="translate(114.79,3453.66) rotate(344.8)" text-anchor="end" dy="0.35em">1000</text>
<text transform="translate(103.45,3407.01) rotate(347.87)" text-anchor="end" dy="0.35em">1</text>
<text transform="translate(94.18,3357) rotate(351.13)" text-anchor="end" dy="0.35em">10</text>
<text transform="translate(87.78,3306.55) rotate(354.39)" text-anchor="end" dy="0.35em">100</text>
<text transform="translate(84.25,3255.81) rotate(357.65)" text-anchor="end" dy="0.35em">1000</text>
<text transform="translate(83.57,3207.81) rotate(360.73)" text-anchor="end" dy="0.35em">1</text>
<text transform="translate(85.67,3156.99) rotate(363.99)" text-anchor="end" dy="0.35em">10</text>
<text transform="translate(90.65,3106.38) rotate(367.25)" text-anchor="end" dy="0.35em">100</text>
<text transform="translate(98.5,3056.13) rotate(370.51)" text-anchor="end" dy="0.35em">1000</text>
<text transform="translate(108.52,3009.18) rotate(373.59)" text-anchor="end" dy="0.35em">1</text>
<text transform="translate(121.87,2960.1) rotate(376.85)" text-anchor="end" dy="0.35em">10</text>
<text transform="translate(137.99,2911.86) rotate(380.11)" text-anchor="end" dy="0.35em">100</text>
<text transform="translate(156.82,2864.62) rotate(383.37)" text-anchor="end" dy="0.35em">1000</text>
<text transform="translate(177.04,2821.08) rotate(386.44)" text-anchor="end" dy="0.35em">1</text>
<text transform="translate(200.98,2776.2) rotate(389.7)" text-anchor="end" dy="0.35em">10</text>
<text transform="translate(227.43,2732.76) rotate(392.96)" text-anchor="end" dy="0.35em">100</text>
<text transform="translate(256.3,2690.89) rotate(396.22)" text-anchor="end" dy="0.35em">1000</text>
<text transform="translate(285.7,2652.94) rotate(399.3)" text-anchor="end" dy="0.35em">1</text>
<text transform="translate(319.02,2614.52) rotate(402.56)" text-anchor="end" dy="0.35em">10</text>
<text transform="translate(354.47,2578.05) rotate(405.82)" text-anchor="end" dy="0.35em">100</text>
<text transform="translate(391.94,2543.66) rotate(409.08)" text-anchor="end" dy="0.35em">1000</text>
<text transform="translate(429.05,2513.2) rotate(412.16)" text-anchor="end" dy="0.35em">1</text>
<text transform="translate(470.09,2483.15) rotate(415.42)" text-anchor="end" dy="0.35em">10</text>
<text transform="translate(512.76,2455.49) rotate(418.68)" text-anchor="end" dy="0.35em">100</text>
<text transform="translate(556.95,2430.3) rotate(421.94)" text-anchor="end" dy="0.35em">1000</text>
<text transform="translate(599.9,2408.86) rotate(425.02)" text-anchor="end" dy="0.35em">1</text>
<text transform="translate(646.59,2388.7) rotate(428.28)" text-anchor="end" dy="0.35em">10</text>
<text transform="translate(694.36,2371.22) rotate(431.54)" text-anchor="end" dy="0.35em">100</text>
<text transform="translate(743.04,2356.49) rotate(434.8)" text-anchor="end" dy="0.35em">1000</text>
<text transform="translate(789.69,2345.15) rotate(437.87)" text-anchor="end" dy="0.35em">1</text>
<text transform="translate(839.7,2335.88) rotate(441.13)" text-anchor="end" dy="0.35em">10</text>
<text transform="translate(890.15,2329.48) rotate(444.39)" text-anchor="end" dy="0.35em">100</text>
<text transform="translate(940.89,2325.95) rotate(447.65)" text-anchor="end" dy="0.35em">1000</text>
</g>
<g font-size="32" fill="#ffffff" text-anchor="middle"><text transform="translate(991.93,2385.02) rotate(0.99)">G</text><text transform="translate(1016.8,2385.83) rotate(2.7)">O</text><text transform="translate(1033.67,2386.79) rotate(3.86)">:</text><text transform="translate(1046.97,2387.8) rotate(4.78)">0</text><text transform="translate(1064.69,2389.47) rotate(6)">0</text><text transform="translate(1082.37,2391.52) rotate(7.22)">3</text><text transform="translate(1100,2393.94) rotate(8.44)">0</text><text transform="translate(1117.57,2396.74) rotate(9.67)">2</text><text transform="translate(1135.09,2399.92) rotate(10.89)">4</text><text transform="translate(1152.52,2403.47) rotate(12.11)">5</text></g>
<g font-size="32" fill="#ffffff" text-anchor="middle"><text transform="translate(1177.19,2409.15) rotate(13.85)">G</text><text transform="translate(1201.26,2415.47) rotate(15.56)">O</text><text transform="translate(1217.49,2420.16) rotate(16.72)">:</text><text transform="translate(1230.24,2424.1) rotate(17.63)">0</text><text transform="translate(1247.14,2429.67) rotate(18.86)">0</text><text transform="translate(1263.92,2435.6) rotate(20.08)">1</text><text transform="translate(1280.57,2441.89) rotate(21.3)">0</text><text transform="translate(1297.08,2448.53) rotate(22.52)">2</text><text transform="translate(1313.44,2455.53) rotate(23.74)">0</text><text transform="translate(1329.65,2462.86) rotate(24.97)">0</text></g>
<g font-size="32" fill="#ffffff" text-anchor="middle"><text transform="translate(1352.43,2473.89) rotate(26.71)">G</text><text transform="translate(1374.5,2485.41) rotate(28.41)">O</text><text transform="translate(1389.27,2493.6) rotate(29.57)">:</text><text transform="translate(1400.83,2500.28) rotate(30.49)">0</text><text transform="translate(1416.06,2509.47) rotate(31.71)">0</text><text transform="translate(1431.1,2518.98) rotate(32.94)">0</text><text transform="translate(1445.93,2528.82) rotate(34.16)">9</text><text transform="translate(1460.55,2538.97) rotate(35.38)">7</text><text transform="translate(1474.95,2549.43) rotate(36.6)">5</text><text transform="translate(1489.13,2560.19) rotate(37.82)">3</text></g>
<g font-size="32" fill="#ffffff" text-anchor="middle"><text transform="translate(1508.88,2576.01) rotate(39.56)">G</text><text transform="translate(1527.83,2592.15) rotate(41.27)">O</text><text transform="translate(1540.41,2603.42) rotate(42.43)">:</text><text transform="translate(1550.19,2612.5) rotate(43.35)">0</text><text transform="translate(1563,2624.85) rotate(44.57)">0</text><text transform="translate(1575.54,2637.48) rotate(45.79)">0</text><text transform="translate(1587.81,2650.36) rotate(47.01)">9</text><text transform="translate(1599.81,2663.51) rotate(48.24)">8</text><text transform="translate(1611.52,2676.91) rotate(49.46)">0</text><text transform="translate(1622.94,2690.56) rotate(50.68)">9</text></g>
<g font-size="32" fill="#ffffff" text-anchor="middle"><text transform="translate(1638.68,2710.38) rotate(52.42)">G</text><text transform="translate(1653.56,2730.33) rotate(54.13)">O</text><text transform="translate(1663.32,2744.12) rotate(55.29)">:</text><text transform="translate(1670.83,2755.15) rotate(56.21)">0</text><text transform="translate(1680.57,2770.04) rotate(57.43)">0</text><text transform="translate(1689.99,2785.14) rotate(58.65)">0</text><text transform="translate(1699.09,2800.43) rotate(59.87)">9</text><text transform="translate(1707.86,2815.92) rotate(61.09)">7</text><text transform="translate(1716.29,2831.59) rotate(62.32)">5</text><text transform="translate(1724.39,2847.44) rotate(63.54)">1</text></g>
<g font-size="32" fill="#ffffff" text-anchor="middle"><text transform="translate(1735.33,2870.26) rotate(65.28)">G</text><text transform="translate(1745.4,2893.02) rotate(66.99)">O</text><text transform="translate(1751.84,2908.64) rotate(68.15)">:</text><text transform="translate(1756.71,2921.06) rotate(69.06)">0</text><text transform="translate(1762.89,2937.75) rotate(70.28)">0</text><text transform="translate(1768.72,2954.57) rotate(71.51)">0</text><text transform="translate(1774.18,2971.5) rotate(72.73)">9</text><text transform="translate(1779.28,2988.55) rotate(73.95)">8</text><text transform="translate(1784.02,3005.71) rotate(75.17)">7</text><text transform="translate(1788.39,3022.96) rotate(76.4)">3</text></g>
<g font-size="32" fill="#ffffff" text-anchor="middle"><text transform="translate(1793.97,3047.64) rotate(78.13)">G</text><text transform="translate(1798.73,3072.08) rotate(79.84)">O</text><text transform="translate(1801.54,3088.73) rotate(81)">:</text><text transform="translate(1803.52,3101.93) rotate(81.92)">0</text><text transform="translate(1805.83,3119.57) rotate(83.14)">0</text><text transform="translate(1807.77,3137.26) rotate(84.36)">0</text><text transform="translate(1809.33,3154.99) rotate(85.59)">7</text><text transform="translate(1810.51,3172.75) rotate(86.81)">1</text><text transform="translate(1811.31,3190.53) rotate(88.03)">6</text><text transform="translate(1811.73,3208.32) rotate(89.25)">9</text></g>
<g font-size="32" fill="#ffffff" text-anchor="middle"><text transform="translate(1821.32,3393.84) rotate(281.69)">G</text><text transform="translate(1826.01,3369.4) rotate(280.04)">O</text><text transform="translate(1828.79,3352.74) rotate(278.92)">:</text><text transform="translate(1830.76,3339.54) rotate(278.03)">0</text><text transform="translate(1833.06,3321.9) rotate(276.84)">0</text><text transform="translate(1835,3304.2) rotate(275.66)">0</text><text transform="translate(1836.57,3286.48) rotate(274.48)">9</text><text transform="translate(1837.78,3268.72) rotate(273.29)">6</text><text transform="translate(1838.62,3250.95) rotate(272.11)">1</text><text transform="translate(1839.09,3233.16) rotate(270.93)">7</text></g>
<g font-size="32" fill="#ffffff" text-anchor="middle"><text transform="translate(1761.3,3577.23) rotate(294.55)">G</text><text transform="translate(1771.31,3554.45) rotate(292.9)">O</text><text transform="translate(1777.73,3538.82) rotate(291.77)">:</text><text transform="translate(1782.58,3526.39) rotate(290.89)">0</text><text transform="translate(1788.76,3509.7) rotate(289.7)">0</text><text transform="translate(1794.58,3492.88) rotate(288.52)">0</text><text transform="translate(1800.06,3475.95) rotate(287.34)">9</text><text transform="translate(1805.19,3458.91) rotate(286.15)">6</text><text transform="translate(1809.96,3441.77) rotate(284.97)">1</text><text transform="translate(1814.38,3424.53) rotate(283.79)">1</text></g>
<g font-size="32" fill="#ffffff" text-anchor="middle"><text transform="translate(1661.98,3742.67) rotate(307.41)">G</text><text transform="translate(1676.81,3722.68) rotate(305.75)">O</text><text transform="translate(1686.54,3708.88) rotate(304.63)">:</text><text transform="translate(1694.04,3697.84) rotate(303.74)">0</text><text transform="translate(1703.77,3682.94) rotate(302.56)">0</text><text transform="translate(1713.2,3667.84) rotate(301.38)">0</text><text transform="translate(1722.3,3652.55) rotate(300.19)">6</text><text transform="translate(1731.09,3637.08) rotate(299.01)">9</text><text transform="translate(1739.56,3621.43) rotate(297.83)">5</text><text transform="translate(1747.71,3605.6) rotate(296.64)">2</text></g>
<g font-size="32" fill="#ffffff" text-anchor="middle"><text transform="translate(1528.33,3881.85) rotate(320.26)">G</text><text transform="translate(1547.24,3865.67) rotate(318.61)">O</text><text transform="translate(1559.8,3854.38) rotate(317.49)">:</text><text transform="translate(1569.57,3845.28) rotate(316.6)">0</text><text transform="translate(1582.37,3832.92) rotate(315.42)">0</text><text transform="translate(1594.92,3820.3) rotate(314.23)">0</text><text transform="translate(1607.2,3807.42) rotate(313.05)">9</text><text transform="translate(1619.21,3794.29) rotate(311.87)">4</text><text transform="translate(1630.95,3780.92) rotate(310.68)">0</text><text transform="translate(1642.41,3767.3) rotate(309.5)">8</text></g>
<g font-size="32" fill="#111111" text-anchor="middle"><text transform="translate(1367.07,3987.81) rotate(333.12)">G</text><text transform="translate(1389.11,3976.24) rotate(331.47)">O</text><text transform="translate(1403.86,3968.03) rotate(330.34)">:</text><text transform="translate(1415.41,3961.33) rotate(329.46)">0</text><text transform="translate(1430.64,3952.13) rotate(328.27)">0</text><text transform="translate(1445.68,3942.62) rotate(327.09)">0</text><text transform="translate(1460.52,3932.79) rotate(325.91)">9</text><text transform="translate(1475.16,3922.67) rotate(324.72)">2</text><text transform="translate(1489.58,3912.24) rotate(323.54)">7</text><text transform="translate(1503.78,3901.52) rotate(322.36)">7</text></g>
<g font-size="32" fill="#111111" text-anchor="middle"><text transform="translate(1186.27,4055.23) rotate(345.98)">G</text><text transform="translate(1210.33,4048.85) rotate(344.32)">O</text><text transform="translate(1226.54,4044.13) rotate(343.2)">:</text><text transform="translate(1239.29,4040.17) rotate(342.31)">0</text><text transform="translate(1256.19,4034.59) rotate(341.13)">0</text><text transform="translate(1272.97,4028.66) rotate(339.95)">0</text><text transform="translate(1289.62,4022.39) rotate(338.76)">5</text><text transform="translate(1306.14,4015.77) rotate(337.58)">6</text><text transform="translate(1322.52,4008.81) rotate(336.4)">1</text><text transform="translate(1338.76,4001.52) rotate(335.21)">8</text></g>
<g font-size="32" fill="#111111" text-anchor="middle"><text transform="translate(995,4080.72) rotate(358.84)">G</text><text transform="translate(1019.88,4079.86) rotate(357.18)">O</text><text transform="translate(1036.74,4078.86) rotate(356.06)">:</text><text transform="translate(1050.04,4077.84) rotate(355.17)">0</text><text transform="translate(1067.76,4076.16) rotate(353.99)">0</text><text transform="translate(1085.44,4074.11) rotate(352.8)">4</text><text transform="translate(1103.07,4071.7) rotate(351.62)">5</text><text transform="translate(1120.65,4068.93) rotate(350.44)">3</text><text transform="translate(1138.17,4065.79) rotate(349.25)">3</text><text transform="translate(1155.62,4062.29) rotate(348.07)">5</text></g>
<g font-size="32" fill="#111111" text-anchor="middle"><text transform="translate(802.86,4063.02) rotate(371.69)">G</text><text transform="translate(827.3,4067.71) rotate(370.04)">O</text><text transform="translate(843.96,4070.49) rotate(368.92)">:</text><text transform="translate(857.16,4072.46) rotate(368.03)">0</text><text transform="translate(874.8,4074.76) rotate(366.84)">0</text><text transform="translate(892.5,4076.7) rotate(365.66)">0</text><text transform="translate(910.22,4078.27) rotate(364.48)">5</text><text transform="translate(927.98,4079.48) rotate(363.29)">5</text><text transform="translate(945.75,4080.32) rotate(362.11)">7</text><text transform="translate(963.54,4080.79) rotate(360.93)">5</text></g>
<g font-size="32" fill="#111111" text-anchor="middle"><text transform="translate(619.47,4003) rotate(384.55)">G</text><text transform="translate(642.25,4013.01) rotate(382.9)">O</text><text transform="translate(657.88,4019.43) rotate(381.77)">:</text><text transform="translate(670.31,4024.28) rotate(380.89)">0</text><text transform="translate(687,4030.46) rotate(379.7)">0</text><text transform="translate(703.82,4036.28) rotate(378.52)">4</text><text transform="translate(720.75,4041.76) rotate(377.34)">8</text><text transform="translate(737.79,4046.89) rotate(376.15)">0</text><text transform="translate(754.93,4051.66) rotate(374.97)">4</text><text transform="translate(772.17,4056.08) rotate(373.79)">6</text></g>
<g font-size="32" fill="#111111" text-anchor="middle"><text transform="translate(454.03,3903.68) rotate(397.41)">G</text><text transform="translate(474.02,3918.51) rotate(395.75)">O</text><text transform="translate(487.82,3928.24) rotate(394.63)">:</text><text transform="translate(498.86,3935.74) rotate(393.74)">0</text><text transform="translate(513.76,3945.47) rotate(392.56)">0</text><text transform="translate(528.86,3954.9) rotate(391.38)">2</text><text transform="translate(544.15,3964) rotate(390.19)">2</text><text transform="translate(559.62,3972.79) rotate(389.01)">6</text><text transform="translate(575.27,3981.26) rotate(387.83)">2</text><text transform="translate(591.1,3989.41) rotate(386.64)">7</text></g>
<g font-size="32" fill="#111111" text-anchor="middle"><text transform="translate(314.85,3770.03) rotate(410.26)">G</text><text transform="translate(331.03,3788.94) rotate(408.61)">O</text><text transform="translate(342.32,3801.5) rotate(407.49)">:</text><text transform="translate(351.42,3811.27) rotate(406.6)">0</text><text transform="translate(363.78,3824.07) rotate(405.42)">0</text><text transform="translate(376.4,3836.62) rotate(404.23)">2</text><text transform="translate(389.28,3848.9) rotate(403.05)">2</text><text transform="translate(402.41,3860.91) rotate(401.87)">6</text><text transform="translate(415.78,3872.65) rotate(400.68)">2</text><text transform="translate(429.4,3884.11) rotate(399.5)">5</text></g>
<g font-size="32" fill="#111111" text-anchor="middle"><text transform="translate(208.89,3608.77) rotate(423.12)">G</text><text transform="translate(220.46,3630.81) rotate(421.47)">O</text><text transform="translate(228.67,3645.56) rotate(420.34)">:</text><text transform="translate(235.37,3657.11) rotate(419.46)">0</text><text transform="translate(244.57,3672.34) rotate(418.27)">0</text><text transform="translate(254.08,3687.38) rotate(417.09)">0</text><text transform="translate(263.91,3702.22) rotate(415.91)">9</text><text transform="translate(274.03,3716.86) rotate(414.72)">5</text><text transform="translate(284.46,3731.28) rotate(413.54)">0</text><text transform="translate(295.18,3745.48) rotate(412.36)">6</text></g>
<g font-size="32" fill="#111111" text-anchor="middle"><text transform="translate(141.47,3427.97) rotate(435.98)">G</text><text transform="translate(147.85,3452.03) rotate(434.32)">O</text><text transform="translate(152.57,3468.24) rotate(433.2)">:</text><text transform="translate(156.53,3480.99) rotate(432.31)">0</text><text transform="translate(162.11,3497.89) rotate(431.13)">0</text><text transform="translate(168.04,3514.67) rotate(429.95)">0</text><text transform="translate(174.31,3531.32) rotate(428.76)">5</text><text transform="translate(180.93,3547.84) rotate(427.58)">5</text><text transform="translate(187.89,3564.22) rotate(426.4)">7</text><text transform="translate(195.18,3580.46) rotate(425.21)">6</text></g>
<g font-size="32" fill="#111111" text-anchor="middle"><text transform="translate(115.98,3236.7) rotate(448.84)">G</text><text transform="translate(116.84,3261.58) rotate(447.18)">O</text><text transform="translate(117.84,3278.44) rotate(446.06)">:</text><text transform="translate(118.86,3291.74) rotate(445.17)">0</text><text transform="translate(120.54,3309.46) rotate(443.99)">0</text><text transform="translate(122.59,3327.14) rotate(442.8)">1</text><text transform="translate(125,3344.77) rotate(441.62)">5</text><text transform="translate(127.77,3362.35) rotate(440.44)">2</text><text transform="translate(130.91,3379.87) rotate(439.25)">5</text><text transform="translate(134.41,3397.32) rotate(438.07)">0</text></g>
<g font-size="32" fill="#111111" text-anchor="middle"><text transform="translate(143.32,3204.77) rotate(270.99)">G</text><text transform="translate(144.13,3179.9) rotate(272.7)">O</text><text transform="translate(145.09,3163.03) rotate(273.86)">:</text><text transform="translate(146.1,3149.73) rotate(274.78)">0</text><text transform="translate(147.77,3132.01) rotate(276)">0</text><text transform="translate(149.82,3114.33) rotate(277.22)">1</text><text transform="translate(152.24,3096.7) rotate(278.44)">5</text><text transform="translate(155.04,3079.13) rotate(279.67)">2</text><text transform="translate(158.22,3061.61) rotate(280.89)">5</text><text transform="translate(161.77,3044.18) rotate(282.11)">4</text></g>
<g font-size="32" fill="#111111" text-anchor="middle"><text transform="translate(167.45,3019.51) rotate(283.85)">G</text><text transform="translate(173.77,2995.44) rotate(285.56)">O</text><text transform="translate(178.46,2979.21) rotate(286.72)">:</text><text transform="translate(182.4,2966.46) rotate(287.63)">0</text><text transform="translate(187.97,2949.56) rotate(288.86)">0</text><text transform="translate(193.9,2932.78) rotate(290.08)">0</text><text transform="translate(200.19,2916.13) rotate(291.3)">4</text><text transform="translate(206.83,2899.62) rotate(292.52)">6</text><text transform="translate(213.83,2883.26) rotate(293.74)">0</text><text transform="translate(221.16,2867.05) rotate(294.97)">1</text></g>
<g font-size="32" fill="#111111" text-anchor="middle"><text transform="translate(232.19,2844.27) rotate(296.71)">G</text><text transform="translate(243.71,2822.2) rotate(298.41)">O</text><text transform="translate(251.9,2807.43) rotate(299.57)">:</text><text transform="translate(258.58,2795.87) rotate(300.49)">0</text><text transform="translate(267.77,2780.64) rotate(301.71)">0</text><text transform="translate(277.28,2765.6) rotate(302.94)">1</text><text transform="translate(287.12,2750.77) rotate(304.16)">6</text><text transform="translate(297.27,2736.15) rotate(305.38)">7</text><text transform="translate(307.73,2721.75) rotate(306.6)">4</text><text transform="translate(318.49,2707.57) rotate(307.82)">7</text></g>
<g font-size="32" fill="#111111" text-anchor="middle"><text transform="translate(334.31,2687.82) rotate(309.56)">G</text><text transform="translate(350.45,2668.87) rotate(311.27)">O</text><text transform="translate(361.72,2656.29) rotate(312.43)">:</text><text transform="translate(370.8,2646.51) rotate(313.35)">0</text><text transform="translate(383.15,2633.7) rotate(314.57)">0</text><text transform="translate(395.78,2621.16) rotate(315.79)">1</text><text transform="translate(408.66,2608.89) rotate(317.01)">6</text><text transform="translate(421.81,2596.89) rotate(318.24)">7</text><text transform="translate(435.21,2585.18) rotate(319.46)">0</text><text transform="translate(448.86,2573.76) rotate(320.68)">9</text></g>
<g font-size="32" fill="#111111" text-anchor="middle"><text transform="translate(468.68,2558.02) rotate(322.42)">G</text><text transform="translate(488.63,2543.14) rotate(324.13)">O</text><text transform="translate(502.42,2533.38) rotate(325.29)">:</text><text transform="translate(513.45,2525.87) rotate(326.21)">0</text><text transform="translate(528.34,2516.13) rotate(327.43)">0</text><text transform="translate(543.44,2506.71) rotate(328.65)">2</text><text transform="translate(558.73,2497.61) rotate(329.87)">0</text><text transform="translate(574.22,2488.84) rotate(331.09)">0</text><text transform="translate(589.89,2480.41) rotate(332.32)">3</text><text transform="translate(605.74,2472.31) rotate(333.54)">7</text></g>
<g font-size="32" fill="#111111" text-anchor="middle"><text transform="translate(628.56,2461.37) rotate(335.28)">G</text><text transform="translate(651.32,2451.3) rotate(336.99)">O</text><text transform="translate(666.94,2444.86) rotate(338.15)">:</text><text transform="translate(679.36,2439.99) rotate(339.06)">0</text><text transform="translate(696.05,2433.81) rotate(340.28)">0</text><text transform="translate(712.87,2427.98) rotate(341.51)">0</text><text transform="translate(729.8,2422.52) rotate(342.73)">4</text><text transform="translate(746.85,2417.42) rotate(343.95)">6</text><text transform="translate(764.01,2412.68) rotate(345.17)">7</text><text transform="translate(781.26,2408.31) rotate(346.4)">4</text></g>
<g font-size="32" fill="#111111" text-anchor="middle"><text transform="translate(805.94,2402.73) rotate(348.13)">G</text><text transform="translate(830.38,2397.97) rotate(349.84)">O</text><text transform="translate(847.03,2395.16) rotate(351)">:</text><text transform="translate(860.23,2393.18) rotate(351.92)">0</text><text transform="translate(877.87,2390.87) rotate(353.14)">0</text><text transform="translate(895.56,2388.93) rotate(354.36)">0</text><text transform="translate(913.29,2387.37) rotate(355.59)">3</text><text transform="translate(931.05,2386.19) rotate(356.81)">7</text><text transform="translate(948.83,2385.39) rotate(358.03)">3</text><text transform="translate(966.62,2384.97) rotate(359.25)">5</text></g>
<text transform="translate(1019.92,2460.38) rotate(3.2) scale(1,1)" font-size="37" text-anchor="middle" fill="#0a6cc0">11</text>
<text transform="translate(1187.71,2488.85) rotate(16.06) scale(1,1)" font-size="37" text-anchor="middle" fill="#4aa5e5">68</text>
<text transform="translate(1344.96,2553.94) rotate(28.91) scale(1,1)" font-size="37" text-anchor="middle" fill="#2189cf">65</text>
<text transform="translate(1483.78,2652.38) rotate(41.77) scale(1,1)" font-size="37" text-anchor="middle" fill="#0a6cc0">64</text>
<text transform="translate(1597.22,2779.25) rotate(54.63) scale(1,1)" font-size="37" text-anchor="middle" fill="#0a6cc0">74</text>
<text transform="translate(1679.58,2928.18) rotate(67.49) scale(1,1)" font-size="37" text-anchor="middle" fill="#0a6cc0">90</text>
<text transform="translate(1726.73,3091.71) rotate(80.34) scale(1,1)" font-size="37" text-anchor="middle" fill="#2189cf">160</text>
<text transform="translate(1762.77,3263.1) rotate(273.2) scale(1,1)" font-size="37" text-anchor="middle" fill="#0a6cc0">124</text>
<text transform="translate(1733.31,3436.74) rotate(286.06) scale(1,1)" font-size="37" text-anchor="middle" fill="#0a6cc0">138</text>
<text transform="translate(1665.95,3599.47) rotate(298.91) scale(1,1)" font-size="37" text-anchor="middle" fill="#4aa5e5">360</text>
<text transform="translate(1564.08,3743.13) rotate(311.77) scale(1,1)" font-size="37" text-anchor="middle" fill="#2189cf">213</text>
<text transform="translate(1432.78,3860.52) rotate(324.63) scale(1,1)" font-size="37" text-anchor="middle" fill="#2189cf">43</text>
<text transform="translate(1278.66,3945.75) rotate(337.49) scale(1,1)" font-size="37" text-anchor="middle" fill="#4aa5e5">298</text>
<text transform="translate(1109.44,3994.55) rotate(350.34) scale(1,1)" font-size="37" text-anchor="middle" fill="#2189cf">202</text>
<text transform="translate(933.6,4004.47) rotate(363.2) scale(1,1)" font-size="37" text-anchor="middle" fill="#a8c8ec">1742</text>
<text transform="translate(759.96,3975.01) rotate(376.06) scale(1,1)" font-size="37" text-anchor="middle" fill="#0a6cc0">199</text>
<text transform="translate(597.23,3907.65) rotate(388.91) scale(1,1)" font-size="37" text-anchor="middle" fill="#2189cf">397</text>
<text transform="translate(453.57,3805.78) rotate(401.77) scale(1,1)" font-size="37" text-anchor="middle" fill="#2189cf">673</text>
<text transform="translate(336.18,3674.48) rotate(414.63) scale(1,1)" font-size="37" text-anchor="middle" fill="#0a6cc0">581</text>
<text transform="translate(250.95,3520.36) rotate(427.49) scale(1,1)" font-size="37" text-anchor="middle" fill="#2189cf">1165</text>
<text transform="translate(202.15,3351.14) rotate(440.34) scale(1,1)" font-size="37" text-anchor="middle" fill="#0a6cc0">28</text>
<text transform="translate(218.68,3176.78) rotate(273.2) scale(1,1)" font-size="37" text-anchor="middle" fill="#0a6cc0">25</text>
<text transform="translate(247.15,3008.99) rotate(286.06) scale(1,1)" font-size="37" text-anchor="middle" fill="#2189cf">76</text>
<text transform="translate(312.24,2851.74) rotate(298.91) scale(1,1)" font-size="37" text-anchor="middle" fill="#2189cf">85</text>
<text transform="translate(410.68,2712.92) rotate(311.77) scale(1,1)" font-size="37" text-anchor="middle" fill="#0a6cc0">86</text>
<text transform="translate(537.55,2599.48) rotate(324.63) scale(1,1)" font-size="37" text-anchor="middle" fill="#0a6cc0">221</text>
<text transform="translate(686.48,2517.12) rotate(337.49) scale(1,1)" font-size="37" text-anchor="middle" fill="#2189cf">803</text>
<text transform="translate(850.01,2469.97) rotate(350.34) scale(1,1)" font-size="37" text-anchor="middle" fill="#2189cf">1199</text>
<text transform="translate(1054.08,2539.5) rotate(6.43) scale(0.95,1)" font-size="38.5" text-anchor="middle" fill="#111">7</text>
<text transform="translate(1203.41,2573.58) rotate(19.29) scale(0.95,1)" font-size="38.5" text-anchor="middle" fill="#111">31</text>
<text transform="translate(1341.41,2640.04) rotate(32.14) scale(0.95,1)" font-size="38.5" text-anchor="middle" fill="#111">22</text>
<text transform="translate(1461.16,2735.54) rotate(45) scale(0.95,1)" font-size="38.5" text-anchor="middle" fill="#111">21</text>
<text transform="translate(1556.66,2855.29) rotate(57.86) scale(0.95,1)" font-size="38.5" text-anchor="middle" fill="#111">23</text>
<text transform="translate(1623.12,2993.29) rotate(70.71) scale(0.95,1)" font-size="38.5" text-anchor="middle" fill="#111">25</text>
<text transform="translate(1657.2,3142.62) rotate(83.57) scale(0.95,1)" font-size="38.5" text-anchor="middle" fill="#111">43</text>
<text transform="translate(1687.57,3299.21) rotate(276.43) scale(0.95,1)" font-size="38.5" text-anchor="middle" fill="#111">33</text>
<text transform="translate(1651.97,3455.21) rotate(289.29) scale(0.95,1)" font-size="38.5" text-anchor="middle" fill="#111">35</text>
<text transform="translate(1582.54,3599.37) rotate(302.14) scale(0.95,1)" font-size="38.5" text-anchor="middle" fill="#111">91</text>
<text transform="translate(1482.77,3724.47) rotate(315) scale(0.95,1)" font-size="38.5" text-anchor="middle" fill="#111">50</text>
<text transform="translate(1357.67,3824.24) rotate(327.86) scale(0.95,1)" font-size="38.5" text-anchor="middle" fill="#111">17</text>
<text transform="translate(1213.51,3893.67) rotate(340.71) scale(0.95,1)" font-size="38.5" text-anchor="middle" fill="#111">81</text>
<text transform="translate(1057.51,3929.27) rotate(353.57) scale(0.95,1)" font-size="38.5" text-anchor="middle" fill="#111">50</text>
<text transform="translate(897.49,3929.27) rotate(366.43) scale(0.95,1)" font-size="38.5" text-anchor="middle" fill="#111">394</text>
<text transform="translate(741.49,3893.67) rotate(379.29) scale(0.95,1)" font-size="38.5" text-anchor="middle" fill="#111">44</text>
<text transform="translate(597.33,3824.24) rotate(392.14) scale(0.95,1)" font-size="38.5" text-anchor="middle" fill="#111">83</text>
<text transform="translate(472.23,3724.47) rotate(405) scale(0.95,1)" font-size="38.5" text-anchor="middle" fill="#111">129</text>
<text transform="translate(372.46,3599.37) rotate(417.86) scale(0.95,1)" font-size="38.5" text-anchor="middle" fill="#111">105</text>
<text transform="translate(303.03,3455.21) rotate(430.71) scale(0.95,1)" font-size="38.5" text-anchor="middle" fill="#111">202</text>
<text transform="translate(267.43,3299.21) rotate(443.57) scale(0.95,1)" font-size="38.5" text-anchor="middle" fill="#111">13</text>
<text transform="translate(297.8,3142.62) rotate(276.43) scale(0.95,1)" font-size="38.5" text-anchor="middle" fill="#111">11</text>
<text transform="translate(331.88,2993.29) rotate(289.29) scale(0.95,1)" font-size="38.5" text-anchor="middle" fill="#111">27</text>
<text transform="translate(398.34,2855.29) rotate(302.14) scale(0.95,1)" font-size="38.5" text-anchor="middle" fill="#111">27</text>
<text transform="translate(493.84,2735.54) rotate(315) scale(0.95,1)" font-size="38.5" text-anchor="middle" fill="#111">26</text>
<text transform="translate(613.59,2640.04) rotate(327.86) scale(0.95,1)" font-size="38.5" text-anchor="middle" fill="#111">48</text>
<text transform="translate(751.59,2573.58) rotate(340.71) scale(0.95,1)" font-size="38.5" text-anchor="middle" fill="#111">148</text>
<text transform="translate(900.92,2539.5) rotate(353.57) scale(0.95,1)" font-size="38.5" text-anchor="middle" fill="#111">211</text>
<text transform="translate(1032.79,2728.47) rotate(6.43) scale(1,1)" font-size="33.5" text-anchor="middle" fill="#111">63.64</text>
<text transform="translate(1123.29,2802.56) rotate(19.29) scale(1,1)" font-size="33.5" text-anchor="middle" fill="#111">45.59</text>
<text transform="translate(1194.2,2874.32) rotate(32.14) scale(1,1)" font-size="33.5" text-anchor="middle" fill="#111">33.85</text>
<text transform="translate(1263.39,2933.31) rotate(45) scale(1,1)" font-size="33.5" text-anchor="middle" fill="#111">32.81</text>
<text transform="translate(1315.58,3006.77) rotate(57.86) scale(1,1)" font-size="33.5" text-anchor="middle" fill="#111">31.08</text>
<text transform="translate(1345.31,3090.5) rotate(70.71) scale(1,1)" font-size="33.5" text-anchor="middle" fill="#111">27.78</text>
<text transform="translate(1362.12,3175.86) rotate(83.57) scale(1,1)" font-size="33.5" text-anchor="middle" fill="#111">26.88</text>
<text transform="translate(1385.2,3265.14) rotate(276.43) scale(1,1)" font-size="33.5" text-anchor="middle" fill="#111">26.61</text>
<text transform="translate(1361.33,3353.51) rotate(289.29) scale(1,1)" font-size="33.5" text-anchor="middle" fill="#111">25.36</text>
<text transform="translate(1321.61,3435.42) rotate(302.14) scale(1,1)" font-size="33.5" text-anchor="middle" fill="#111">25.28</text>
<text transform="translate(1261.17,3502.87) rotate(315) scale(1,1)" font-size="33.5" text-anchor="middle" fill="#111">23.47</text>
<text transform="translate(1215.75,3598.38) rotate(327.86) scale(1,1)" font-size="33.5" text-anchor="middle" fill="#111">39.53</text>
<text transform="translate(1113.55,3608.02) rotate(340.71) scale(1,1)" font-size="33.5" text-anchor="middle" fill="#111">27.18</text>
<text transform="translate(1022.83,3621.53) rotate(353.57) scale(1,1)" font-size="33.5" text-anchor="middle" fill="#111">24.75</text>
<text transform="translate(932.86,3615.37) rotate(366.43) scale(1,1)" font-size="33.5" text-anchor="middle" fill="#111">22.62</text>
<text transform="translate(846.31,3594.12) rotate(379.29) scale(1,1)" font-size="33.5" text-anchor="middle" fill="#111">22.11</text>
<text transform="translate(768.03,3552.56) rotate(392.14) scale(1,1)" font-size="33.5" text-anchor="middle" fill="#111">20.91</text>
<text transform="translate(702.68,3494.02) rotate(405) scale(1,1)" font-size="33.5" text-anchor="middle" fill="#111">19.17</text>
<text transform="translate(651.11,3424.29) rotate(417.86) scale(1,1)" font-size="33.5" text-anchor="middle" fill="#111">18.07</text>
<text transform="translate(615.66,3345.81) rotate(430.71) scale(1,1)" font-size="33.5" text-anchor="middle" fill="#111">17.34</text>
<text transform="translate(512.6,3271.58) rotate(443.57) scale(1,1)" font-size="33.5" text-anchor="middle" fill="#111">46.43</text>
<text transform="translate(543.45,3170.29) rotate(276.43) scale(1,1)" font-size="33.5" text-anchor="middle" fill="#111">44</text>
<text transform="translate(588.44,3083.06) rotate(289.29) scale(1,1)" font-size="33.5" text-anchor="middle" fill="#111">35.53</text>
<text transform="translate(637.74,3005.72) rotate(302.14) scale(1,1)" font-size="33.5" text-anchor="middle" fill="#111">31.76</text>
<text transform="translate(696.91,2938.61) rotate(315) scale(1,1)" font-size="33.5" text-anchor="middle" fill="#111">30.23</text>
<text transform="translate(779.54,2904.15) rotate(327.86) scale(1,1)" font-size="33.5" text-anchor="middle" fill="#111">21.72</text>
<text transform="translate(857.76,2877.01) rotate(340.71) scale(1,1)" font-size="33.5" text-anchor="middle" fill="#111">18.43</text>
<text transform="translate(937.18,2861.35) rotate(353.57) scale(1,1)" font-size="33.5" text-anchor="middle" fill="#111">17.6</text>
<rect x="748.7" y="853" width="80.2" height="80" fill="#06a04f"/>
<text x="852.8" y="907.6" font-size="41" fill="#111">biological_process</text>
<rect x="748.7" y="938.3" width="80.2" height="80" fill="#fdae60"/>
<text x="852.8" y="991.6" font-size="41" fill="#111">cellular_component</text>
<rect x="748.7" y="1023.2" width="80.2" height="80" fill="#fc3529"/>
<text x="852.8" y="1076.9" font-size="41" fill="#111">molecular_function</text>
<rect x="748.7" y="3098.7" width="80.2" height="80" fill="#06a04f"/>
<text x="852.8" y="3153.3" font-size="41" fill="#111">biological_process</text>
<rect x="748.7" y="3184" width="80.2" height="80" fill="#fdae60"/>
<text x="852.8" y="3237.3" font-size="41" fill="#111">cellular_component</text>
<rect x="748.7" y="3268.9" width="80.2" height="80" fill="#fc3529"/>
<text x="852.8" y="3322.6" font-size="41" fill="#111">molecular_function</text>
<text x="1964" y="765" font-size="45" font-weight="900" fill="#111" font-family="'Noto Sans CJK SC', sans-serif">−log10(P.value)</text>
<circle cx="2011.3" cy="828.4" r="22.8" fill="#6a51a3"/>
<text x="2069.8" y="844.1" font-size="41" fill="#111">(0,1.3]</text>
<circle cx="2011.3" cy="893.2" r="22.8" fill="#1b93b3"/>
<text x="2069.8" y="908.9" font-size="41" fill="#111">(1.3,2]</text>
<circle cx="2011.3" cy="958" r="22.8" fill="#6fd3a0"/>
<text x="2069.8" y="973.7" font-size="41" fill="#111">(2,5]</text>
<circle cx="2011.3" cy="1022.8" r="22.8" fill="#fedd85"/>
<text x="2069.8" y="1038.5" font-size="41" fill="#111">(5,10]</text>
<circle cx="2011.3" cy="1087.6" r="22.8" fill="#fd9a4e"/>
<text x="2069.8" y="1103.3" font-size="41" fill="#111">(10,15]</text>
<circle cx="2011.3" cy="1152.4" r="22.8" fill="#fa4a4a"/>
<text x="2069.8" y="1168.1" font-size="41" fill="#111">(15,20]</text>
<circle cx="2011.3" cy="1217.2" r="22.8" fill="#b3003e"/>
<text x="2069.8" y="1232.9" font-size="41" fill="#111">&gt;20</text>
<text x="1964" y="3010.7" font-size="45" font-weight="900" fill="#111" font-family="'Noto Sans CJK SC', sans-serif">−log10(P.value)</text>
<circle cx="2011.3" cy="3074.1" r="22.8" fill="#6a51a3"/>
<text x="2069.8" y="3089.8" font-size="41" fill="#111">(0,1.3]</text>
<circle cx="2011.3" cy="3138.9" r="22.8" fill="#1b93b3"/>
<text x="2069.8" y="3154.6" font-size="41" fill="#111">(1.3,2]</text>
<circle cx="2011.3" cy="3203.7" r="22.8" fill="#6fd3a0"/>
<text x="2069.8" y="3219.4" font-size="41" fill="#111">(2,5]</text>
<circle cx="2011.3" cy="3268.5" r="22.8" fill="#fedd85"/>
<text x="2069.8" y="3284.2" font-size="41" fill="#111">(5,10]</text>
<circle cx="2011.3" cy="3333.3" r="22.8" fill="#fd9a4e"/>
<text x="2069.8" y="3349" font-size="41" fill="#111">(10,15]</text>
<circle cx="2011.3" cy="3398.1" r="22.8" fill="#fa4a4a"/>
<text x="2069.8" y="3413.8" font-size="41" fill="#111">(15,20]</text>
<circle cx="2011.3" cy="3462.9" r="22.8" fill="#b3003e"/>
<text x="2069.8" y="3478.6" font-size="41" fill="#111">&gt;20</text>
<text x="1086.6" y="2132" font-size="84" text-anchor="middle" font-family="'Liberation Serif', serif" fill="#000">(<tspan font-weight="bold">a</tspan>)</text>
<text x="1086.6" y="4380" font-size="84" text-anchor="middle" font-family="'Liberation Serif', serif" fill="#000">(<tspan font-weight="bold">b</tspan>)</text>
</svg></body></html>
